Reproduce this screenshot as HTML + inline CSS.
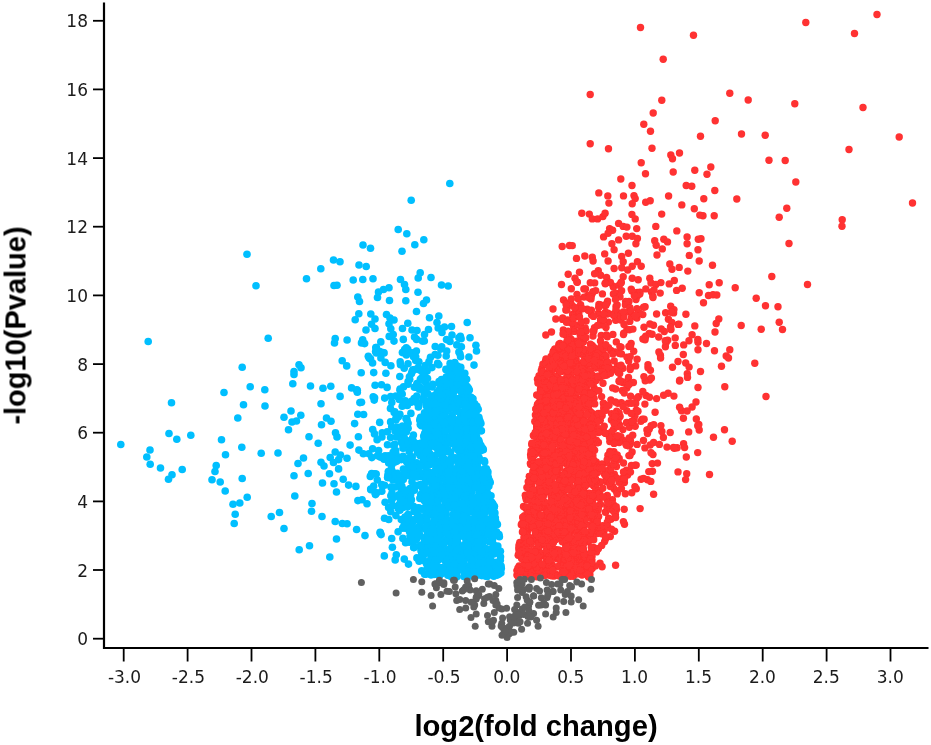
<!DOCTYPE html>
<html><head><meta charset="utf-8"><title>Volcano plot</title>
<style>
html,body{margin:0;padding:0;background:#fff;}
svg{display:block}
text{font-family:"Liberation Sans",sans-serif;}
.tk text{font-family:"DejaVu Sans","Liberation Sans",sans-serif;}
</style></head><body>
<svg width="931" height="745" viewBox="0 0 931 745">
<defs><filter id="soft" x="0" y="0" width="931" height="745" filterUnits="userSpaceOnUse"><feGaussianBlur stdDeviation="0.5"/></filter></defs>
<rect width="931" height="745" fill="#fff"/>
<g filter="url(#soft)">
<g fill="#00BFFF"><circle cx="247.0" cy="254.2" r="3.8"/><circle cx="256.0" cy="285.8" r="3.8"/><circle cx="306.5" cy="278.8" r="3.8"/><circle cx="320.8" cy="268.8" r="3.8"/><circle cx="333.5" cy="260.0" r="3.8"/><circle cx="334.0" cy="285.5" r="3.8"/><circle cx="148.2" cy="341.5" r="3.8"/><circle cx="268.2" cy="338.2" r="3.8"/><circle cx="335.2" cy="338.5" r="3.8"/><circle cx="334.5" cy="343.0" r="3.8"/><circle cx="242.2" cy="367.2" r="3.8"/><circle cx="299.0" cy="364.8" r="3.8"/><circle cx="301.0" cy="367.8" r="3.8"/><circle cx="294.0" cy="371.5" r="3.8"/><circle cx="294.0" cy="374.5" r="3.8"/><circle cx="292.8" cy="383.8" r="3.8"/><circle cx="310.5" cy="386.0" r="3.8"/><circle cx="323.0" cy="388.2" r="3.8"/><circle cx="330.8" cy="386.2" r="3.8"/><circle cx="250.2" cy="386.8" r="3.8"/><circle cx="264.8" cy="389.8" r="3.8"/><circle cx="224.0" cy="392.5" r="3.8"/><circle cx="171.5" cy="402.8" r="3.8"/><circle cx="243.5" cy="404.8" r="3.8"/><circle cx="265.0" cy="406.0" r="3.8"/><circle cx="321.0" cy="403.8" r="3.8"/><circle cx="291.0" cy="411.0" r="3.8"/><circle cx="284.0" cy="417.2" r="3.8"/><circle cx="300.8" cy="415.2" r="3.8"/><circle cx="296.5" cy="421.0" r="3.8"/><circle cx="292.0" cy="422.0" r="3.8"/><circle cx="237.8" cy="418.0" r="3.8"/><circle cx="288.5" cy="429.8" r="3.8"/><circle cx="326.5" cy="418.0" r="3.8"/><circle cx="331.0" cy="421.2" r="3.8"/><circle cx="321.5" cy="424.8" r="3.8"/><circle cx="335.5" cy="432.8" r="3.8"/><circle cx="309.0" cy="436.8" r="3.8"/><circle cx="318.2" cy="443.2" r="3.8"/><circle cx="169.0" cy="433.5" r="3.8"/><circle cx="176.8" cy="439.2" r="3.8"/><circle cx="190.8" cy="435.2" r="3.8"/><circle cx="221.5" cy="439.8" r="3.8"/><circle cx="241.8" cy="447.2" r="3.8"/><circle cx="225.5" cy="454.8" r="3.8"/><circle cx="261.2" cy="453.2" r="3.8"/><circle cx="278.0" cy="453.0" r="3.8"/><circle cx="120.8" cy="444.5" r="3.8"/><circle cx="150.0" cy="450.0" r="3.8"/><circle cx="146.8" cy="457.0" r="3.8"/><circle cx="150.2" cy="464.2" r="3.8"/><circle cx="160.5" cy="468.0" r="3.8"/><circle cx="182.2" cy="469.5" r="3.8"/><circle cx="172.0" cy="474.8" r="3.8"/><circle cx="168.5" cy="479.2" r="3.8"/><circle cx="216.2" cy="465.5" r="3.8"/><circle cx="215.0" cy="471.5" r="3.8"/><circle cx="212.0" cy="479.8" r="3.8"/><circle cx="220.2" cy="482.0" r="3.8"/><circle cx="225.2" cy="491.0" r="3.8"/><circle cx="242.2" cy="478.5" r="3.8"/><circle cx="303.5" cy="458.0" r="3.8"/><circle cx="298.0" cy="463.5" r="3.8"/><circle cx="321.0" cy="462.2" r="3.8"/><circle cx="324.0" cy="466.0" r="3.8"/><circle cx="330.2" cy="457.5" r="3.8"/><circle cx="335.2" cy="452.0" r="3.8"/><circle cx="333.5" cy="462.5" r="3.8"/><circle cx="329.5" cy="473.8" r="3.8"/><circle cx="308.2" cy="473.5" r="3.8"/><circle cx="294.0" cy="475.8" r="3.8"/><circle cx="322.5" cy="483.0" r="3.8"/><circle cx="334.0" cy="483.8" r="3.8"/><circle cx="247.2" cy="497.2" r="3.8"/><circle cx="239.8" cy="503.0" r="3.8"/><circle cx="233.0" cy="504.2" r="3.8"/><circle cx="235.2" cy="514.2" r="3.8"/><circle cx="234.2" cy="523.5" r="3.8"/><circle cx="294.8" cy="496.0" r="3.8"/><circle cx="312.0" cy="503.5" r="3.8"/><circle cx="311.5" cy="511.2" r="3.8"/><circle cx="322.0" cy="516.5" r="3.8"/><circle cx="335.2" cy="521.5" r="3.8"/><circle cx="279.5" cy="512.5" r="3.8"/><circle cx="271.2" cy="516.5" r="3.8"/><circle cx="284.0" cy="528.5" r="3.8"/><circle cx="309.5" cy="545.8" r="3.8"/><circle cx="299.2" cy="549.8" r="3.8"/><circle cx="329.8" cy="557.0" r="3.8"/><circle cx="336.5" cy="539.0" r="3.8"/><circle cx="336.5" cy="492.0" r="3.8"/><circle cx="449.8" cy="183.5" r="3.8"/><circle cx="411.2" cy="200.2" r="3.8"/><circle cx="398.2" cy="229.5" r="3.8"/><circle cx="406.8" cy="233.8" r="3.8"/><circle cx="423.8" cy="239.8" r="3.8"/><circle cx="414.8" cy="244.8" r="3.8"/><circle cx="402.0" cy="251.2" r="3.8"/><circle cx="363.0" cy="245.0" r="3.8"/><circle cx="370.5" cy="248.2" r="3.8"/><circle cx="340.0" cy="261.8" r="3.8"/><circle cx="359.0" cy="265.0" r="3.8"/><circle cx="366.2" cy="266.5" r="3.8"/><circle cx="353.2" cy="280.0" r="3.8"/><circle cx="362.8" cy="279.5" r="3.8"/><circle cx="373.0" cy="278.8" r="3.8"/><circle cx="337.0" cy="285.2" r="3.8"/><circle cx="420.2" cy="272.8" r="3.8"/><circle cx="418.2" cy="278.0" r="3.8"/><circle cx="431.0" cy="277.5" r="3.8"/><circle cx="400.5" cy="279.5" r="3.8"/><circle cx="404.5" cy="284.5" r="3.8"/><circle cx="405.8" cy="289.5" r="3.8"/><circle cx="441.5" cy="285.0" r="3.8"/><circle cx="448.2" cy="286.0" r="3.8"/><circle cx="389.0" cy="287.8" r="3.8"/><circle cx="383.5" cy="289.5" r="3.8"/><circle cx="378.5" cy="292.0" r="3.8"/><circle cx="377.5" cy="297.5" r="3.8"/><circle cx="418.0" cy="292.2" r="3.8"/><circle cx="357.8" cy="297.0" r="3.8"/><circle cx="359.5" cy="301.5" r="3.8"/><circle cx="389.5" cy="300.5" r="3.8"/><circle cx="405.8" cy="300.8" r="3.8"/><circle cx="426.5" cy="300.0" r="3.8"/><circle cx="423.5" cy="303.5" r="3.8"/><circle cx="416.5" cy="311.5" r="3.8"/><circle cx="358.8" cy="313.8" r="3.8"/><circle cx="355.2" cy="319.8" r="3.8"/><circle cx="370.8" cy="314.0" r="3.8"/><circle cx="375.0" cy="319.0" r="3.8"/><circle cx="371.5" cy="324.2" r="3.8"/><circle cx="375.0" cy="328.5" r="3.8"/><circle cx="366.0" cy="330.0" r="3.8"/><circle cx="386.5" cy="314.5" r="3.8"/><circle cx="390.0" cy="318.0" r="3.8"/><circle cx="394.0" cy="320.0" r="3.8"/><circle cx="389.0" cy="323.8" r="3.8"/><circle cx="390.8" cy="328.8" r="3.8"/><circle cx="429.5" cy="317.8" r="3.8"/><circle cx="438.8" cy="316.0" r="3.8"/><circle cx="437.0" cy="322.5" r="3.8"/><circle cx="438.2" cy="328.0" r="3.8"/><circle cx="444.5" cy="327.0" r="3.8"/><circle cx="451.5" cy="326.5" r="3.8"/><circle cx="467.2" cy="322.5" r="3.8"/><circle cx="407.8" cy="323.2" r="3.8"/><circle cx="402.5" cy="328.5" r="3.8"/><circle cx="412.0" cy="330.0" r="3.8"/><circle cx="417.0" cy="330.5" r="3.8"/><circle cx="428.5" cy="329.5" r="3.8"/><circle cx="393.2" cy="334.5" r="3.8"/><circle cx="424.5" cy="334.5" r="3.8"/><circle cx="442.0" cy="332.5" r="3.8"/><circle cx="452.0" cy="335.0" r="3.8"/><circle cx="347.0" cy="458.3" r="3.8"/><circle cx="412.0" cy="352.8" r="3.8"/><circle cx="410.4" cy="535.3" r="3.8"/><circle cx="436.8" cy="431.6" r="3.8"/><circle cx="447.5" cy="425.7" r="3.8"/><circle cx="454.7" cy="439.0" r="3.8"/><circle cx="438.3" cy="445.2" r="3.8"/><circle cx="474.4" cy="504.5" r="3.8"/><circle cx="436.4" cy="462.6" r="3.8"/><circle cx="463.2" cy="405.4" r="3.8"/><circle cx="363.3" cy="453.8" r="3.8"/><circle cx="452.6" cy="520.3" r="3.8"/><circle cx="439.8" cy="475.8" r="3.8"/><circle cx="482.3" cy="563.7" r="3.8"/><circle cx="449.0" cy="575.3" r="3.8"/><circle cx="432.1" cy="548.9" r="3.8"/><circle cx="456.5" cy="460.2" r="3.8"/><circle cx="471.9" cy="546.8" r="3.8"/><circle cx="404.9" cy="432.2" r="3.8"/><circle cx="446.7" cy="351.0" r="3.8"/><circle cx="354.6" cy="423.6" r="3.8"/><circle cx="488.3" cy="484.0" r="3.8"/><circle cx="417.6" cy="452.6" r="3.8"/><circle cx="470.5" cy="464.4" r="3.8"/><circle cx="478.6" cy="514.3" r="3.8"/><circle cx="426.6" cy="421.7" r="3.8"/><circle cx="456.8" cy="566.5" r="3.8"/><circle cx="499.1" cy="574.1" r="3.8"/><circle cx="400.1" cy="389.1" r="3.8"/><circle cx="492.8" cy="538.5" r="3.8"/><circle cx="450.0" cy="528.7" r="3.8"/><circle cx="451.3" cy="555.3" r="3.8"/><circle cx="466.8" cy="451.2" r="3.8"/><circle cx="473.5" cy="416.1" r="3.8"/><circle cx="431.9" cy="367.6" r="3.8"/><circle cx="381.9" cy="437.0" r="3.8"/><circle cx="437.9" cy="553.9" r="3.8"/><circle cx="433.3" cy="414.6" r="3.8"/><circle cx="433.1" cy="525.0" r="3.8"/><circle cx="433.9" cy="395.9" r="3.8"/><circle cx="470.6" cy="458.4" r="3.8"/><circle cx="468.5" cy="555.9" r="3.8"/><circle cx="443.0" cy="457.8" r="3.8"/><circle cx="456.8" cy="445.0" r="3.8"/><circle cx="488.6" cy="563.1" r="3.8"/><circle cx="433.8" cy="563.3" r="3.8"/><circle cx="452.8" cy="524.9" r="3.8"/><circle cx="444.9" cy="459.5" r="3.8"/><circle cx="471.8" cy="401.2" r="3.8"/><circle cx="435.7" cy="504.8" r="3.8"/><circle cx="423.5" cy="378.9" r="3.8"/><circle cx="340.1" cy="396.4" r="3.8"/><circle cx="463.8" cy="468.8" r="3.8"/><circle cx="419.1" cy="561.2" r="3.8"/><circle cx="478.7" cy="440.2" r="3.8"/><circle cx="481.4" cy="430.7" r="3.8"/><circle cx="456.0" cy="572.8" r="3.8"/><circle cx="481.0" cy="506.3" r="3.8"/><circle cx="407.0" cy="419.8" r="3.8"/><circle cx="482.5" cy="545.8" r="3.8"/><circle cx="390.6" cy="421.9" r="3.8"/><circle cx="371.8" cy="457.6" r="3.8"/><circle cx="466.8" cy="494.5" r="3.8"/><circle cx="480.0" cy="476.8" r="3.8"/><circle cx="455.1" cy="503.1" r="3.8"/><circle cx="445.6" cy="486.9" r="3.8"/><circle cx="466.4" cy="457.2" r="3.8"/><circle cx="463.2" cy="385.5" r="3.8"/><circle cx="443.7" cy="490.9" r="3.8"/><circle cx="389.7" cy="472.8" r="3.8"/><circle cx="456.7" cy="498.8" r="3.8"/><circle cx="426.4" cy="448.0" r="3.8"/><circle cx="414.8" cy="400.7" r="3.8"/><circle cx="490.4" cy="505.5" r="3.8"/><circle cx="391.7" cy="538.5" r="3.8"/><circle cx="466.9" cy="538.2" r="3.8"/><circle cx="411.1" cy="402.3" r="3.8"/><circle cx="425.4" cy="381.8" r="3.8"/><circle cx="446.1" cy="556.1" r="3.8"/><circle cx="432.0" cy="509.4" r="3.8"/><circle cx="463.7" cy="444.7" r="3.8"/><circle cx="448.5" cy="405.0" r="3.8"/><circle cx="493.8" cy="576.2" r="3.8"/><circle cx="466.7" cy="435.5" r="3.8"/><circle cx="427.7" cy="426.8" r="3.8"/><circle cx="479.8" cy="542.2" r="3.8"/><circle cx="427.4" cy="500.4" r="3.8"/><circle cx="461.9" cy="492.0" r="3.8"/><circle cx="416.1" cy="468.9" r="3.8"/><circle cx="448.7" cy="409.2" r="3.8"/><circle cx="437.8" cy="429.5" r="3.8"/><circle cx="453.7" cy="437.2" r="3.8"/><circle cx="452.5" cy="559.0" r="3.8"/><circle cx="455.1" cy="383.7" r="3.8"/><circle cx="464.9" cy="457.7" r="3.8"/><circle cx="452.1" cy="564.7" r="3.8"/><circle cx="463.8" cy="576.4" r="3.8"/><circle cx="402.5" cy="426.1" r="3.8"/><circle cx="479.1" cy="534.1" r="3.8"/><circle cx="477.4" cy="520.8" r="3.8"/><circle cx="443.7" cy="399.2" r="3.8"/><circle cx="391.8" cy="402.4" r="3.8"/><circle cx="467.7" cy="556.9" r="3.8"/><circle cx="422.4" cy="559.7" r="3.8"/><circle cx="475.8" cy="514.0" r="3.8"/><circle cx="470.7" cy="482.3" r="3.8"/><circle cx="379.8" cy="351.6" r="3.8"/><circle cx="432.6" cy="414.5" r="3.8"/><circle cx="489.8" cy="574.1" r="3.8"/><circle cx="459.8" cy="443.7" r="3.8"/><circle cx="466.4" cy="540.1" r="3.8"/><circle cx="435.1" cy="425.9" r="3.8"/><circle cx="450.0" cy="574.8" r="3.8"/><circle cx="437.9" cy="560.2" r="3.8"/><circle cx="471.6" cy="563.9" r="3.8"/><circle cx="440.1" cy="485.4" r="3.8"/><circle cx="454.3" cy="380.6" r="3.8"/><circle cx="432.2" cy="490.0" r="3.8"/><circle cx="391.0" cy="472.5" r="3.8"/><circle cx="401.2" cy="457.6" r="3.8"/><circle cx="500.2" cy="571.1" r="3.8"/><circle cx="426.6" cy="428.4" r="3.8"/><circle cx="440.7" cy="468.6" r="3.8"/><circle cx="410.7" cy="494.8" r="3.8"/><circle cx="471.9" cy="446.4" r="3.8"/><circle cx="418.9" cy="361.8" r="3.8"/><circle cx="485.3" cy="576.1" r="3.8"/><circle cx="424.5" cy="412.9" r="3.8"/><circle cx="454.6" cy="551.8" r="3.8"/><circle cx="447.1" cy="422.7" r="3.8"/><circle cx="433.0" cy="475.8" r="3.8"/><circle cx="405.2" cy="528.2" r="3.8"/><circle cx="469.3" cy="442.6" r="3.8"/><circle cx="438.4" cy="496.0" r="3.8"/><circle cx="443.6" cy="440.2" r="3.8"/><circle cx="450.0" cy="341.4" r="3.8"/><circle cx="487.7" cy="524.5" r="3.8"/><circle cx="434.3" cy="420.4" r="3.8"/><circle cx="429.0" cy="433.8" r="3.8"/><circle cx="347.1" cy="523.7" r="3.8"/><circle cx="432.3" cy="562.8" r="3.8"/><circle cx="448.0" cy="532.0" r="3.8"/><circle cx="390.5" cy="408.4" r="3.8"/><circle cx="490.9" cy="524.7" r="3.8"/><circle cx="417.5" cy="514.8" r="3.8"/><circle cx="457.3" cy="539.7" r="3.8"/><circle cx="473.4" cy="462.1" r="3.8"/><circle cx="448.1" cy="568.6" r="3.8"/><circle cx="466.1" cy="414.8" r="3.8"/><circle cx="446.1" cy="503.0" r="3.8"/><circle cx="457.7" cy="542.7" r="3.8"/><circle cx="462.4" cy="473.5" r="3.8"/><circle cx="373.7" cy="486.1" r="3.8"/><circle cx="361.5" cy="342.9" r="3.8"/><circle cx="456.8" cy="488.8" r="3.8"/><circle cx="495.2" cy="563.6" r="3.8"/><circle cx="372.6" cy="363.0" r="3.8"/><circle cx="483.7" cy="531.7" r="3.8"/><circle cx="479.7" cy="488.2" r="3.8"/><circle cx="460.8" cy="424.7" r="3.8"/><circle cx="412.5" cy="522.3" r="3.8"/><circle cx="458.9" cy="465.6" r="3.8"/><circle cx="468.9" cy="571.7" r="3.8"/><circle cx="473.1" cy="487.3" r="3.8"/><circle cx="467.5" cy="517.5" r="3.8"/><circle cx="397.3" cy="414.7" r="3.8"/><circle cx="482.9" cy="495.6" r="3.8"/><circle cx="393.5" cy="461.8" r="3.8"/><circle cx="474.5" cy="512.7" r="3.8"/><circle cx="370.9" cy="489.8" r="3.8"/><circle cx="372.7" cy="429.6" r="3.8"/><circle cx="423.6" cy="488.4" r="3.8"/><circle cx="465.2" cy="554.8" r="3.8"/><circle cx="436.3" cy="516.5" r="3.8"/><circle cx="470.9" cy="504.7" r="3.8"/><circle cx="454.6" cy="490.6" r="3.8"/><circle cx="391.2" cy="487.4" r="3.8"/><circle cx="445.9" cy="396.3" r="3.8"/><circle cx="415.7" cy="485.8" r="3.8"/><circle cx="453.8" cy="560.2" r="3.8"/><circle cx="450.2" cy="523.5" r="3.8"/><circle cx="421.7" cy="570.9" r="3.8"/><circle cx="436.4" cy="466.4" r="3.8"/><circle cx="425.6" cy="490.1" r="3.8"/><circle cx="427.3" cy="434.9" r="3.8"/><circle cx="409.8" cy="504.3" r="3.8"/><circle cx="475.7" cy="430.5" r="3.8"/><circle cx="446.7" cy="449.1" r="3.8"/><circle cx="447.5" cy="533.3" r="3.8"/><circle cx="446.5" cy="339.6" r="3.8"/><circle cx="471.3" cy="419.5" r="3.8"/><circle cx="493.4" cy="526.8" r="3.8"/><circle cx="452.6" cy="551.4" r="3.8"/><circle cx="428.8" cy="514.8" r="3.8"/><circle cx="455.1" cy="560.5" r="3.8"/><circle cx="445.2" cy="417.6" r="3.8"/><circle cx="394.2" cy="412.4" r="3.8"/><circle cx="438.5" cy="489.0" r="3.8"/><circle cx="442.3" cy="494.6" r="3.8"/><circle cx="445.4" cy="503.8" r="3.8"/><circle cx="454.8" cy="387.2" r="3.8"/><circle cx="416.2" cy="519.8" r="3.8"/><circle cx="479.3" cy="525.6" r="3.8"/><circle cx="436.5" cy="557.4" r="3.8"/><circle cx="499.2" cy="572.4" r="3.8"/><circle cx="373.7" cy="372.6" r="3.8"/><circle cx="485.0" cy="511.9" r="3.8"/><circle cx="445.8" cy="506.9" r="3.8"/><circle cx="461.1" cy="338.7" r="3.8"/><circle cx="449.6" cy="533.0" r="3.8"/><circle cx="390.8" cy="511.8" r="3.8"/><circle cx="454.1" cy="370.9" r="3.8"/><circle cx="458.7" cy="535.4" r="3.8"/><circle cx="441.8" cy="571.6" r="3.8"/><circle cx="441.0" cy="410.4" r="3.8"/><circle cx="441.1" cy="552.0" r="3.8"/><circle cx="477.4" cy="545.0" r="3.8"/><circle cx="455.4" cy="556.2" r="3.8"/><circle cx="417.5" cy="385.8" r="3.8"/><circle cx="466.9" cy="526.8" r="3.8"/><circle cx="439.0" cy="381.6" r="3.8"/><circle cx="434.6" cy="433.0" r="3.8"/><circle cx="396.7" cy="461.2" r="3.8"/><circle cx="421.1" cy="472.7" r="3.8"/><circle cx="471.8" cy="438.7" r="3.8"/><circle cx="469.7" cy="533.3" r="3.8"/><circle cx="368.3" cy="356.2" r="3.8"/><circle cx="433.4" cy="545.8" r="3.8"/><circle cx="440.5" cy="431.8" r="3.8"/><circle cx="447.8" cy="566.5" r="3.8"/><circle cx="405.0" cy="444.1" r="3.8"/><circle cx="493.2" cy="554.0" r="3.8"/><circle cx="448.9" cy="573.5" r="3.8"/><circle cx="454.1" cy="408.0" r="3.8"/><circle cx="445.7" cy="445.0" r="3.8"/><circle cx="479.4" cy="451.1" r="3.8"/><circle cx="460.5" cy="469.4" r="3.8"/><circle cx="452.6" cy="386.9" r="3.8"/><circle cx="476.6" cy="418.2" r="3.8"/><circle cx="374.8" cy="473.7" r="3.8"/><circle cx="442.3" cy="455.4" r="3.8"/><circle cx="477.4" cy="476.5" r="3.8"/><circle cx="419.5" cy="546.2" r="3.8"/><circle cx="478.3" cy="544.6" r="3.8"/><circle cx="460.0" cy="427.9" r="3.8"/><circle cx="380.3" cy="532.9" r="3.8"/><circle cx="427.5" cy="505.3" r="3.8"/><circle cx="487.4" cy="508.8" r="3.8"/><circle cx="427.9" cy="431.3" r="3.8"/><circle cx="471.4" cy="417.6" r="3.8"/><circle cx="476.2" cy="556.0" r="3.8"/><circle cx="410.0" cy="488.5" r="3.8"/><circle cx="424.3" cy="341.0" r="3.8"/><circle cx="446.5" cy="531.0" r="3.8"/><circle cx="430.8" cy="558.8" r="3.8"/><circle cx="417.7" cy="464.7" r="3.8"/><circle cx="407.3" cy="405.5" r="3.8"/><circle cx="442.5" cy="473.4" r="3.8"/><circle cx="431.8" cy="483.7" r="3.8"/><circle cx="425.7" cy="428.3" r="3.8"/><circle cx="464.8" cy="373.2" r="3.8"/><circle cx="484.0" cy="533.9" r="3.8"/><circle cx="464.8" cy="515.1" r="3.8"/><circle cx="442.1" cy="427.5" r="3.8"/><circle cx="416.2" cy="510.3" r="3.8"/><circle cx="404.6" cy="469.8" r="3.8"/><circle cx="423.4" cy="443.0" r="3.8"/><circle cx="434.7" cy="455.9" r="3.8"/><circle cx="470.8" cy="465.8" r="3.8"/><circle cx="426.5" cy="460.7" r="3.8"/><circle cx="489.2" cy="568.4" r="3.8"/><circle cx="479.9" cy="459.5" r="3.8"/><circle cx="491.8" cy="502.3" r="3.8"/><circle cx="424.3" cy="381.3" r="3.8"/><circle cx="446.0" cy="481.4" r="3.8"/><circle cx="408.2" cy="525.8" r="3.8"/><circle cx="482.7" cy="477.3" r="3.8"/><circle cx="427.4" cy="534.4" r="3.8"/><circle cx="476.5" cy="351.0" r="3.8"/><circle cx="470.3" cy="413.8" r="3.8"/><circle cx="478.2" cy="409.2" r="3.8"/><circle cx="420.8" cy="527.1" r="3.8"/><circle cx="406.8" cy="351.8" r="3.8"/><circle cx="479.9" cy="420.7" r="3.8"/><circle cx="425.8" cy="466.8" r="3.8"/><circle cx="470.5" cy="428.7" r="3.8"/><circle cx="435.2" cy="410.9" r="3.8"/><circle cx="392.5" cy="495.7" r="3.8"/><circle cx="434.2" cy="423.1" r="3.8"/><circle cx="471.1" cy="548.7" r="3.8"/><circle cx="359.9" cy="402.6" r="3.8"/><circle cx="454.6" cy="495.9" r="3.8"/><circle cx="445.8" cy="379.8" r="3.8"/><circle cx="494.9" cy="512.9" r="3.8"/><circle cx="461.0" cy="397.4" r="3.8"/><circle cx="455.4" cy="420.1" r="3.8"/><circle cx="481.3" cy="523.1" r="3.8"/><circle cx="464.8" cy="536.0" r="3.8"/><circle cx="458.6" cy="530.2" r="3.8"/><circle cx="431.5" cy="569.6" r="3.8"/><circle cx="431.1" cy="396.2" r="3.8"/><circle cx="398.9" cy="435.2" r="3.8"/><circle cx="453.0" cy="393.3" r="3.8"/><circle cx="426.2" cy="443.3" r="3.8"/><circle cx="478.1" cy="468.1" r="3.8"/><circle cx="399.8" cy="376.5" r="3.8"/><circle cx="445.6" cy="561.4" r="3.8"/><circle cx="483.3" cy="559.3" r="3.8"/><circle cx="472.7" cy="536.1" r="3.8"/><circle cx="478.8" cy="506.0" r="3.8"/><circle cx="485.0" cy="525.6" r="3.8"/><circle cx="452.2" cy="535.1" r="3.8"/><circle cx="434.5" cy="419.9" r="3.8"/><circle cx="442.4" cy="407.6" r="3.8"/><circle cx="428.7" cy="472.1" r="3.8"/><circle cx="376.2" cy="474.0" r="3.8"/><circle cx="425.8" cy="477.8" r="3.8"/><circle cx="486.4" cy="468.7" r="3.8"/><circle cx="434.4" cy="522.8" r="3.8"/><circle cx="487.9" cy="471.7" r="3.8"/><circle cx="464.5" cy="564.5" r="3.8"/><circle cx="431.9" cy="529.5" r="3.8"/><circle cx="437.6" cy="363.4" r="3.8"/><circle cx="432.9" cy="405.9" r="3.8"/><circle cx="430.1" cy="502.2" r="3.8"/><circle cx="478.6" cy="499.8" r="3.8"/><circle cx="436.8" cy="429.5" r="3.8"/><circle cx="434.0" cy="521.8" r="3.8"/><circle cx="471.0" cy="488.6" r="3.8"/><circle cx="488.0" cy="562.2" r="3.8"/><circle cx="425.0" cy="489.1" r="3.8"/><circle cx="432.3" cy="433.8" r="3.8"/><circle cx="420.3" cy="424.5" r="3.8"/><circle cx="414.1" cy="473.1" r="3.8"/><circle cx="437.9" cy="355.3" r="3.8"/><circle cx="437.4" cy="574.0" r="3.8"/><circle cx="471.0" cy="439.2" r="3.8"/><circle cx="384.7" cy="398.1" r="3.8"/><circle cx="441.3" cy="544.2" r="3.8"/><circle cx="447.7" cy="558.4" r="3.8"/><circle cx="407.1" cy="499.6" r="3.8"/><circle cx="445.4" cy="416.6" r="3.8"/><circle cx="440.4" cy="397.9" r="3.8"/><circle cx="462.3" cy="415.3" r="3.8"/><circle cx="430.2" cy="477.8" r="3.8"/><circle cx="450.7" cy="481.0" r="3.8"/><circle cx="465.2" cy="398.1" r="3.8"/><circle cx="469.1" cy="523.0" r="3.8"/><circle cx="470.7" cy="571.5" r="3.8"/><circle cx="450.4" cy="522.6" r="3.8"/><circle cx="423.3" cy="489.3" r="3.8"/><circle cx="475.5" cy="446.9" r="3.8"/><circle cx="445.5" cy="390.0" r="3.8"/><circle cx="421.0" cy="550.7" r="3.8"/><circle cx="455.1" cy="480.0" r="3.8"/><circle cx="437.2" cy="548.8" r="3.8"/><circle cx="460.9" cy="548.6" r="3.8"/><circle cx="377.1" cy="439.7" r="3.8"/><circle cx="455.6" cy="371.7" r="3.8"/><circle cx="422.9" cy="557.4" r="3.8"/><circle cx="463.5" cy="401.8" r="3.8"/><circle cx="382.8" cy="352.6" r="3.8"/><circle cx="425.0" cy="434.4" r="3.8"/><circle cx="450.0" cy="467.1" r="3.8"/><circle cx="456.4" cy="572.7" r="3.8"/><circle cx="461.2" cy="432.2" r="3.8"/><circle cx="403.7" cy="434.8" r="3.8"/><circle cx="402.2" cy="394.0" r="3.8"/><circle cx="466.1" cy="541.7" r="3.8"/><circle cx="439.5" cy="575.7" r="3.8"/><circle cx="445.9" cy="515.1" r="3.8"/><circle cx="460.2" cy="430.8" r="3.8"/><circle cx="443.0" cy="499.2" r="3.8"/><circle cx="445.8" cy="466.9" r="3.8"/><circle cx="443.0" cy="399.8" r="3.8"/><circle cx="419.5" cy="389.3" r="3.8"/><circle cx="428.3" cy="532.0" r="3.8"/><circle cx="447.8" cy="535.4" r="3.8"/><circle cx="481.0" cy="533.1" r="3.8"/><circle cx="427.1" cy="393.3" r="3.8"/><circle cx="395.8" cy="427.9" r="3.8"/><circle cx="371.7" cy="473.5" r="3.8"/><circle cx="443.9" cy="425.6" r="3.8"/><circle cx="477.3" cy="420.9" r="3.8"/><circle cx="437.1" cy="558.9" r="3.8"/><circle cx="452.1" cy="415.4" r="3.8"/><circle cx="467.8" cy="427.4" r="3.8"/><circle cx="417.0" cy="538.3" r="3.8"/><circle cx="453.0" cy="514.4" r="3.8"/><circle cx="470.1" cy="521.5" r="3.8"/><circle cx="460.0" cy="452.4" r="3.8"/><circle cx="456.5" cy="436.7" r="3.8"/><circle cx="485.6" cy="469.9" r="3.8"/><circle cx="487.0" cy="529.3" r="3.8"/><circle cx="381.5" cy="384.7" r="3.8"/><circle cx="429.9" cy="426.1" r="3.8"/><circle cx="421.6" cy="476.7" r="3.8"/><circle cx="429.2" cy="434.6" r="3.8"/><circle cx="439.4" cy="445.6" r="3.8"/><circle cx="414.0" cy="547.6" r="3.8"/><circle cx="412.0" cy="490.1" r="3.8"/><circle cx="475.5" cy="456.1" r="3.8"/><circle cx="453.8" cy="407.1" r="3.8"/><circle cx="472.7" cy="565.2" r="3.8"/><circle cx="451.0" cy="398.1" r="3.8"/><circle cx="455.7" cy="373.3" r="3.8"/><circle cx="392.1" cy="471.1" r="3.8"/><circle cx="447.9" cy="389.8" r="3.8"/><circle cx="411.4" cy="499.6" r="3.8"/><circle cx="422.9" cy="560.1" r="3.8"/><circle cx="430.5" cy="357.3" r="3.8"/><circle cx="440.6" cy="569.1" r="3.8"/><circle cx="394.6" cy="444.4" r="3.8"/><circle cx="465.4" cy="379.1" r="3.8"/><circle cx="440.0" cy="447.2" r="3.8"/><circle cx="401.8" cy="495.8" r="3.8"/><circle cx="482.7" cy="546.5" r="3.8"/><circle cx="429.6" cy="458.1" r="3.8"/><circle cx="423.8" cy="550.6" r="3.8"/><circle cx="435.7" cy="502.0" r="3.8"/><circle cx="437.1" cy="392.4" r="3.8"/><circle cx="472.6" cy="507.3" r="3.8"/><circle cx="477.9" cy="418.4" r="3.8"/><circle cx="416.9" cy="557.9" r="3.8"/><circle cx="454.4" cy="372.4" r="3.8"/><circle cx="473.9" cy="451.6" r="3.8"/><circle cx="471.8" cy="554.9" r="3.8"/><circle cx="447.1" cy="384.0" r="3.8"/><circle cx="483.3" cy="525.6" r="3.8"/><circle cx="461.1" cy="420.2" r="3.8"/><circle cx="493.5" cy="515.5" r="3.8"/><circle cx="475.8" cy="478.3" r="3.8"/><circle cx="479.8" cy="525.0" r="3.8"/><circle cx="455.6" cy="507.2" r="3.8"/><circle cx="472.6" cy="527.3" r="3.8"/><circle cx="483.1" cy="485.2" r="3.8"/><circle cx="357.9" cy="500.6" r="3.8"/><circle cx="424.7" cy="574.2" r="3.8"/><circle cx="415.6" cy="531.1" r="3.8"/><circle cx="497.6" cy="551.4" r="3.8"/><circle cx="446.3" cy="426.6" r="3.8"/><circle cx="454.0" cy="554.6" r="3.8"/><circle cx="481.4" cy="500.7" r="3.8"/><circle cx="463.1" cy="516.7" r="3.8"/><circle cx="466.3" cy="490.6" r="3.8"/><circle cx="468.9" cy="406.2" r="3.8"/><circle cx="476.2" cy="499.0" r="3.8"/><circle cx="479.9" cy="527.3" r="3.8"/><circle cx="481.8" cy="489.5" r="3.8"/><circle cx="467.2" cy="402.4" r="3.8"/><circle cx="446.0" cy="398.6" r="3.8"/><circle cx="467.4" cy="499.4" r="3.8"/><circle cx="448.5" cy="569.1" r="3.8"/><circle cx="456.7" cy="522.7" r="3.8"/><circle cx="427.2" cy="497.3" r="3.8"/><circle cx="452.5" cy="475.3" r="3.8"/><circle cx="436.3" cy="402.0" r="3.8"/><circle cx="473.4" cy="538.1" r="3.8"/><circle cx="453.2" cy="517.7" r="3.8"/><circle cx="492.4" cy="552.6" r="3.8"/><circle cx="479.0" cy="492.4" r="3.8"/><circle cx="442.9" cy="402.3" r="3.8"/><circle cx="441.4" cy="534.6" r="3.8"/><circle cx="453.9" cy="570.9" r="3.8"/><circle cx="399.2" cy="504.6" r="3.8"/><circle cx="445.9" cy="369.4" r="3.8"/><circle cx="482.2" cy="530.9" r="3.8"/><circle cx="342.3" cy="523.5" r="3.8"/><circle cx="424.3" cy="438.2" r="3.8"/><circle cx="446.0" cy="510.6" r="3.8"/><circle cx="476.1" cy="567.7" r="3.8"/><circle cx="459.6" cy="445.6" r="3.8"/><circle cx="458.3" cy="570.5" r="3.8"/><circle cx="446.0" cy="399.6" r="3.8"/><circle cx="415.7" cy="360.6" r="3.8"/><circle cx="419.4" cy="534.1" r="3.8"/><circle cx="373.2" cy="396.7" r="3.8"/><circle cx="494.2" cy="507.2" r="3.8"/><circle cx="438.3" cy="427.3" r="3.8"/><circle cx="480.6" cy="525.4" r="3.8"/><circle cx="438.3" cy="489.4" r="3.8"/><circle cx="453.4" cy="508.0" r="3.8"/><circle cx="449.4" cy="502.8" r="3.8"/><circle cx="479.5" cy="488.8" r="3.8"/><circle cx="475.9" cy="345.2" r="3.8"/><circle cx="453.2" cy="560.2" r="3.8"/><circle cx="433.2" cy="533.9" r="3.8"/><circle cx="444.2" cy="479.3" r="3.8"/><circle cx="387.3" cy="431.7" r="3.8"/><circle cx="477.4" cy="446.4" r="3.8"/><circle cx="449.5" cy="385.9" r="3.8"/><circle cx="484.0" cy="540.4" r="3.8"/><circle cx="470.0" cy="337.7" r="3.8"/><circle cx="427.0" cy="445.8" r="3.8"/><circle cx="442.7" cy="492.3" r="3.8"/><circle cx="463.8" cy="528.0" r="3.8"/><circle cx="481.8" cy="508.7" r="3.8"/><circle cx="454.8" cy="540.8" r="3.8"/><circle cx="413.4" cy="506.3" r="3.8"/><circle cx="450.1" cy="560.7" r="3.8"/><circle cx="481.8" cy="575.6" r="3.8"/><circle cx="471.1" cy="550.4" r="3.8"/><circle cx="391.3" cy="487.1" r="3.8"/><circle cx="429.9" cy="568.7" r="3.8"/><circle cx="428.8" cy="492.6" r="3.8"/><circle cx="456.3" cy="569.2" r="3.8"/><circle cx="455.8" cy="502.4" r="3.8"/><circle cx="467.3" cy="395.9" r="3.8"/><circle cx="439.3" cy="494.1" r="3.8"/><circle cx="457.2" cy="409.2" r="3.8"/><circle cx="414.0" cy="511.5" r="3.8"/><circle cx="484.9" cy="529.5" r="3.8"/><circle cx="438.5" cy="495.4" r="3.8"/><circle cx="375.6" cy="351.6" r="3.8"/><circle cx="399.9" cy="510.2" r="3.8"/><circle cx="474.7" cy="404.8" r="3.8"/><circle cx="469.3" cy="390.0" r="3.8"/><circle cx="448.0" cy="449.7" r="3.8"/><circle cx="434.4" cy="545.7" r="3.8"/><circle cx="427.8" cy="393.8" r="3.8"/><circle cx="420.3" cy="379.4" r="3.8"/><circle cx="450.0" cy="460.0" r="3.8"/><circle cx="412.9" cy="369.9" r="3.8"/><circle cx="466.6" cy="476.6" r="3.8"/><circle cx="406.5" cy="499.7" r="3.8"/><circle cx="365.0" cy="535.6" r="3.8"/><circle cx="442.1" cy="398.1" r="3.8"/><circle cx="434.2" cy="507.5" r="3.8"/><circle cx="437.6" cy="549.7" r="3.8"/><circle cx="451.5" cy="543.3" r="3.8"/><circle cx="428.6" cy="540.6" r="3.8"/><circle cx="450.0" cy="459.6" r="3.8"/><circle cx="475.6" cy="552.6" r="3.8"/><circle cx="427.6" cy="499.3" r="3.8"/><circle cx="465.2" cy="486.4" r="3.8"/><circle cx="453.3" cy="528.7" r="3.8"/><circle cx="449.0" cy="379.4" r="3.8"/><circle cx="464.2" cy="422.7" r="3.8"/><circle cx="374.2" cy="400.1" r="3.8"/><circle cx="436.8" cy="421.7" r="3.8"/><circle cx="481.5" cy="490.7" r="3.8"/><circle cx="458.9" cy="568.9" r="3.8"/><circle cx="469.6" cy="408.5" r="3.8"/><circle cx="479.1" cy="480.9" r="3.8"/><circle cx="488.4" cy="477.9" r="3.8"/><circle cx="384.1" cy="352.9" r="3.8"/><circle cx="367.0" cy="503.7" r="3.8"/><circle cx="498.7" cy="569.8" r="3.8"/><circle cx="395.0" cy="461.9" r="3.8"/><circle cx="409.2" cy="451.4" r="3.8"/><circle cx="396.1" cy="454.5" r="3.8"/><circle cx="461.0" cy="391.3" r="3.8"/><circle cx="451.8" cy="472.2" r="3.8"/><circle cx="370.3" cy="476.4" r="3.8"/><circle cx="446.7" cy="394.1" r="3.8"/><circle cx="443.3" cy="553.3" r="3.8"/><circle cx="390.8" cy="495.7" r="3.8"/><circle cx="480.1" cy="508.6" r="3.8"/><circle cx="474.4" cy="410.6" r="3.8"/><circle cx="416.9" cy="383.6" r="3.8"/><circle cx="424.7" cy="461.6" r="3.8"/><circle cx="460.9" cy="463.6" r="3.8"/><circle cx="460.2" cy="521.6" r="3.8"/><circle cx="447.2" cy="403.1" r="3.8"/><circle cx="417.6" cy="485.3" r="3.8"/><circle cx="429.0" cy="536.8" r="3.8"/><circle cx="465.1" cy="550.9" r="3.8"/><circle cx="465.8" cy="418.3" r="3.8"/><circle cx="441.9" cy="552.8" r="3.8"/><circle cx="398.0" cy="427.2" r="3.8"/><circle cx="447.0" cy="549.8" r="3.8"/><circle cx="402.9" cy="538.4" r="3.8"/><circle cx="430.3" cy="417.1" r="3.8"/><circle cx="465.8" cy="499.1" r="3.8"/><circle cx="472.3" cy="545.6" r="3.8"/><circle cx="395.9" cy="396.1" r="3.8"/><circle cx="376.3" cy="353.0" r="3.8"/><circle cx="465.2" cy="383.8" r="3.8"/><circle cx="426.7" cy="452.7" r="3.8"/><circle cx="489.3" cy="496.4" r="3.8"/><circle cx="457.4" cy="366.1" r="3.8"/><circle cx="461.1" cy="439.5" r="3.8"/><circle cx="427.6" cy="533.7" r="3.8"/><circle cx="459.8" cy="560.1" r="3.8"/><circle cx="452.6" cy="370.5" r="3.8"/><circle cx="468.4" cy="545.3" r="3.8"/><circle cx="476.0" cy="438.1" r="3.8"/><circle cx="425.8" cy="448.9" r="3.8"/><circle cx="466.5" cy="393.1" r="3.8"/><circle cx="461.7" cy="516.6" r="3.8"/><circle cx="459.9" cy="401.7" r="3.8"/><circle cx="413.6" cy="356.8" r="3.8"/><circle cx="474.9" cy="499.3" r="3.8"/><circle cx="444.0" cy="409.1" r="3.8"/><circle cx="391.6" cy="457.6" r="3.8"/><circle cx="463.0" cy="421.4" r="3.8"/><circle cx="464.2" cy="564.8" r="3.8"/><circle cx="439.1" cy="499.2" r="3.8"/><circle cx="420.0" cy="455.5" r="3.8"/><circle cx="473.0" cy="398.8" r="3.8"/><circle cx="430.2" cy="402.5" r="3.8"/><circle cx="461.6" cy="555.4" r="3.8"/><circle cx="432.3" cy="558.2" r="3.8"/><circle cx="466.4" cy="542.9" r="3.8"/><circle cx="440.3" cy="571.4" r="3.8"/><circle cx="346.7" cy="365.9" r="3.8"/><circle cx="459.5" cy="487.9" r="3.8"/><circle cx="453.3" cy="569.7" r="3.8"/><circle cx="473.8" cy="474.7" r="3.8"/><circle cx="489.5" cy="480.8" r="3.8"/><circle cx="463.0" cy="434.5" r="3.8"/><circle cx="391.7" cy="426.8" r="3.8"/><circle cx="493.4" cy="526.9" r="3.8"/><circle cx="479.1" cy="574.8" r="3.8"/><circle cx="476.9" cy="518.8" r="3.8"/><circle cx="362.1" cy="499.8" r="3.8"/><circle cx="380.1" cy="532.4" r="3.8"/><circle cx="429.2" cy="542.0" r="3.8"/><circle cx="455.0" cy="515.5" r="3.8"/><circle cx="432.9" cy="433.6" r="3.8"/><circle cx="468.8" cy="478.0" r="3.8"/><circle cx="434.4" cy="564.5" r="3.8"/><circle cx="431.0" cy="543.9" r="3.8"/><circle cx="399.3" cy="481.8" r="3.8"/><circle cx="481.8" cy="497.2" r="3.8"/><circle cx="497.3" cy="575.1" r="3.8"/><circle cx="460.4" cy="336.4" r="3.8"/><circle cx="451.5" cy="565.8" r="3.8"/><circle cx="438.8" cy="529.0" r="3.8"/><circle cx="424.0" cy="474.4" r="3.8"/><circle cx="408.4" cy="467.0" r="3.8"/><circle cx="467.9" cy="394.3" r="3.8"/><circle cx="441.5" cy="379.6" r="3.8"/><circle cx="449.2" cy="438.1" r="3.8"/><circle cx="425.6" cy="561.7" r="3.8"/><circle cx="494.4" cy="506.2" r="3.8"/><circle cx="483.6" cy="492.2" r="3.8"/><circle cx="461.0" cy="459.1" r="3.8"/><circle cx="452.8" cy="440.4" r="3.8"/><circle cx="411.5" cy="373.5" r="3.8"/><circle cx="430.9" cy="574.7" r="3.8"/><circle cx="476.9" cy="406.4" r="3.8"/><circle cx="477.9" cy="450.1" r="3.8"/><circle cx="457.7" cy="475.3" r="3.8"/><circle cx="437.9" cy="510.2" r="3.8"/><circle cx="457.3" cy="424.4" r="3.8"/><circle cx="486.6" cy="489.5" r="3.8"/><circle cx="487.9" cy="508.8" r="3.8"/><circle cx="402.8" cy="497.8" r="3.8"/><circle cx="473.0" cy="544.5" r="3.8"/><circle cx="420.6" cy="417.3" r="3.8"/><circle cx="425.3" cy="477.7" r="3.8"/><circle cx="409.4" cy="496.1" r="3.8"/><circle cx="458.7" cy="524.2" r="3.8"/><circle cx="459.6" cy="533.3" r="3.8"/><circle cx="463.5" cy="387.3" r="3.8"/><circle cx="467.6" cy="512.7" r="3.8"/><circle cx="454.0" cy="489.1" r="3.8"/><circle cx="452.9" cy="568.9" r="3.8"/><circle cx="474.6" cy="513.6" r="3.8"/><circle cx="460.2" cy="551.8" r="3.8"/><circle cx="470.7" cy="426.3" r="3.8"/><circle cx="440.0" cy="397.5" r="3.8"/><circle cx="404.5" cy="427.4" r="3.8"/><circle cx="401.3" cy="519.5" r="3.8"/><circle cx="454.6" cy="486.5" r="3.8"/><circle cx="436.4" cy="413.6" r="3.8"/><circle cx="425.2" cy="365.5" r="3.8"/><circle cx="438.6" cy="426.9" r="3.8"/><circle cx="474.8" cy="531.3" r="3.8"/><circle cx="471.3" cy="451.5" r="3.8"/><circle cx="445.1" cy="523.5" r="3.8"/><circle cx="431.9" cy="429.3" r="3.8"/><circle cx="416.9" cy="387.2" r="3.8"/><circle cx="411.8" cy="458.4" r="3.8"/><circle cx="458.4" cy="460.4" r="3.8"/><circle cx="443.4" cy="471.8" r="3.8"/><circle cx="399.4" cy="432.9" r="3.8"/><circle cx="451.6" cy="496.2" r="3.8"/><circle cx="416.1" cy="536.5" r="3.8"/><circle cx="423.0" cy="449.8" r="3.8"/><circle cx="381.8" cy="491.3" r="3.8"/><circle cx="391.3" cy="468.7" r="3.8"/><circle cx="420.6" cy="484.6" r="3.8"/><circle cx="443.7" cy="524.0" r="3.8"/><circle cx="435.0" cy="517.5" r="3.8"/><circle cx="463.0" cy="400.5" r="3.8"/><circle cx="480.6" cy="501.9" r="3.8"/><circle cx="487.5" cy="574.5" r="3.8"/><circle cx="474.7" cy="403.7" r="3.8"/><circle cx="477.2" cy="512.5" r="3.8"/><circle cx="442.9" cy="543.7" r="3.8"/><circle cx="458.0" cy="447.8" r="3.8"/><circle cx="407.2" cy="462.4" r="3.8"/><circle cx="398.1" cy="531.8" r="3.8"/><circle cx="402.2" cy="475.5" r="3.8"/><circle cx="441.1" cy="486.9" r="3.8"/><circle cx="471.5" cy="406.4" r="3.8"/><circle cx="473.0" cy="499.4" r="3.8"/><circle cx="425.2" cy="371.9" r="3.8"/><circle cx="419.2" cy="465.6" r="3.8"/><circle cx="424.1" cy="537.7" r="3.8"/><circle cx="469.8" cy="473.4" r="3.8"/><circle cx="462.8" cy="391.0" r="3.8"/><circle cx="449.1" cy="425.6" r="3.8"/><circle cx="356.7" cy="389.9" r="3.8"/><circle cx="472.0" cy="576.0" r="3.8"/><circle cx="480.7" cy="450.7" r="3.8"/><circle cx="451.3" cy="470.9" r="3.8"/><circle cx="436.4" cy="395.1" r="3.8"/><circle cx="489.3" cy="571.8" r="3.8"/><circle cx="445.5" cy="488.3" r="3.8"/><circle cx="418.3" cy="367.6" r="3.8"/><circle cx="460.3" cy="511.5" r="3.8"/><circle cx="448.2" cy="494.3" r="3.8"/><circle cx="440.3" cy="417.2" r="3.8"/><circle cx="453.0" cy="405.1" r="3.8"/><circle cx="423.7" cy="436.0" r="3.8"/><circle cx="427.4" cy="408.3" r="3.8"/><circle cx="403.3" cy="440.9" r="3.8"/><circle cx="481.0" cy="430.8" r="3.8"/><circle cx="385.2" cy="362.4" r="3.8"/><circle cx="414.7" cy="546.6" r="3.8"/><circle cx="413.2" cy="519.8" r="3.8"/><circle cx="499.4" cy="552.3" r="3.8"/><circle cx="434.0" cy="436.3" r="3.8"/><circle cx="438.4" cy="507.2" r="3.8"/><circle cx="358.9" cy="450.1" r="3.8"/><circle cx="457.0" cy="477.6" r="3.8"/><circle cx="385.1" cy="455.8" r="3.8"/><circle cx="424.2" cy="509.4" r="3.8"/><circle cx="442.9" cy="385.2" r="3.8"/><circle cx="449.0" cy="531.1" r="3.8"/><circle cx="381.8" cy="484.5" r="3.8"/><circle cx="417.0" cy="508.0" r="3.8"/><circle cx="449.4" cy="501.6" r="3.8"/><circle cx="465.1" cy="492.7" r="3.8"/><circle cx="435.5" cy="460.2" r="3.8"/><circle cx="501.3" cy="568.5" r="3.8"/><circle cx="499.4" cy="536.8" r="3.8"/><circle cx="482.8" cy="539.6" r="3.8"/><circle cx="380.8" cy="341.9" r="3.8"/><circle cx="459.8" cy="476.3" r="3.8"/><circle cx="460.0" cy="531.1" r="3.8"/><circle cx="432.1" cy="531.9" r="3.8"/><circle cx="430.4" cy="400.1" r="3.8"/><circle cx="471.8" cy="487.4" r="3.8"/><circle cx="496.5" cy="531.8" r="3.8"/><circle cx="416.9" cy="519.1" r="3.8"/><circle cx="350.1" cy="445.1" r="3.8"/><circle cx="438.4" cy="393.3" r="3.8"/><circle cx="382.3" cy="485.6" r="3.8"/><circle cx="430.8" cy="426.5" r="3.8"/><circle cx="475.5" cy="480.2" r="3.8"/><circle cx="440.7" cy="545.9" r="3.8"/><circle cx="452.0" cy="402.6" r="3.8"/><circle cx="479.9" cy="551.7" r="3.8"/><circle cx="436.8" cy="427.3" r="3.8"/><circle cx="468.7" cy="484.6" r="3.8"/><circle cx="430.9" cy="559.7" r="3.8"/><circle cx="462.7" cy="569.5" r="3.8"/><circle cx="459.0" cy="564.2" r="3.8"/><circle cx="392.4" cy="547.2" r="3.8"/><circle cx="441.8" cy="414.4" r="3.8"/><circle cx="433.6" cy="522.5" r="3.8"/><circle cx="487.0" cy="535.1" r="3.8"/><circle cx="469.6" cy="522.3" r="3.8"/><circle cx="481.0" cy="573.3" r="3.8"/><circle cx="481.3" cy="558.0" r="3.8"/><circle cx="455.2" cy="500.9" r="3.8"/><circle cx="435.1" cy="402.4" r="3.8"/><circle cx="469.6" cy="409.8" r="3.8"/><circle cx="451.8" cy="546.5" r="3.8"/><circle cx="472.7" cy="464.1" r="3.8"/><circle cx="447.5" cy="451.8" r="3.8"/><circle cx="496.4" cy="562.4" r="3.8"/><circle cx="435.1" cy="543.9" r="3.8"/><circle cx="482.2" cy="551.0" r="3.8"/><circle cx="426.1" cy="405.4" r="3.8"/><circle cx="467.2" cy="448.9" r="3.8"/><circle cx="491.0" cy="563.8" r="3.8"/><circle cx="400.2" cy="361.9" r="3.8"/><circle cx="426.8" cy="476.6" r="3.8"/><circle cx="439.2" cy="466.8" r="3.8"/><circle cx="430.0" cy="464.4" r="3.8"/><circle cx="450.2" cy="390.1" r="3.8"/><circle cx="445.2" cy="403.3" r="3.8"/><circle cx="478.1" cy="445.2" r="3.8"/><circle cx="450.1" cy="430.6" r="3.8"/><circle cx="429.1" cy="489.9" r="3.8"/><circle cx="472.4" cy="509.2" r="3.8"/><circle cx="462.1" cy="420.3" r="3.8"/><circle cx="436.1" cy="532.5" r="3.8"/><circle cx="404.2" cy="521.5" r="3.8"/><circle cx="467.7" cy="453.9" r="3.8"/><circle cx="469.2" cy="489.4" r="3.8"/><circle cx="463.8" cy="497.2" r="3.8"/><circle cx="429.6" cy="480.1" r="3.8"/><circle cx="434.1" cy="397.4" r="3.8"/><circle cx="400.5" cy="364.8" r="3.8"/><circle cx="462.3" cy="418.8" r="3.8"/><circle cx="473.9" cy="471.4" r="3.8"/><circle cx="469.3" cy="449.3" r="3.8"/><circle cx="466.6" cy="480.8" r="3.8"/><circle cx="462.1" cy="412.5" r="3.8"/><circle cx="408.0" cy="516.9" r="3.8"/><circle cx="418.6" cy="531.8" r="3.8"/><circle cx="462.9" cy="482.0" r="3.8"/><circle cx="452.0" cy="476.5" r="3.8"/><circle cx="408.5" cy="564.1" r="3.8"/><circle cx="422.3" cy="454.4" r="3.8"/><circle cx="425.6" cy="529.3" r="3.8"/><circle cx="435.6" cy="550.5" r="3.8"/><circle cx="425.7" cy="574.3" r="3.8"/><circle cx="358.4" cy="436.8" r="3.8"/><circle cx="457.7" cy="511.9" r="3.8"/><circle cx="433.0" cy="479.5" r="3.8"/><circle cx="476.2" cy="571.7" r="3.8"/><circle cx="466.0" cy="492.2" r="3.8"/><circle cx="426.3" cy="471.5" r="3.8"/><circle cx="449.2" cy="494.1" r="3.8"/><circle cx="411.8" cy="471.2" r="3.8"/><circle cx="404.7" cy="438.9" r="3.8"/><circle cx="461.8" cy="431.2" r="3.8"/><circle cx="439.4" cy="424.4" r="3.8"/><circle cx="474.8" cy="449.2" r="3.8"/><circle cx="396.3" cy="474.1" r="3.8"/><circle cx="413.1" cy="532.0" r="3.8"/><circle cx="461.6" cy="415.7" r="3.8"/><circle cx="447.4" cy="418.6" r="3.8"/><circle cx="468.4" cy="433.3" r="3.8"/><circle cx="403.0" cy="401.4" r="3.8"/><circle cx="416.7" cy="462.9" r="3.8"/><circle cx="473.4" cy="504.2" r="3.8"/><circle cx="450.1" cy="363.4" r="3.8"/><circle cx="479.2" cy="477.2" r="3.8"/><circle cx="450.0" cy="421.9" r="3.8"/><circle cx="476.4" cy="571.8" r="3.8"/><circle cx="454.9" cy="404.0" r="3.8"/><circle cx="442.9" cy="420.3" r="3.8"/><circle cx="425.9" cy="450.8" r="3.8"/><circle cx="462.8" cy="551.5" r="3.8"/><circle cx="484.2" cy="502.1" r="3.8"/><circle cx="455.8" cy="527.4" r="3.8"/><circle cx="432.5" cy="433.3" r="3.8"/><circle cx="486.5" cy="557.9" r="3.8"/><circle cx="429.7" cy="525.8" r="3.8"/><circle cx="474.6" cy="527.9" r="3.8"/><circle cx="456.9" cy="425.5" r="3.8"/><circle cx="477.5" cy="417.9" r="3.8"/><circle cx="425.8" cy="515.7" r="3.8"/><circle cx="486.0" cy="519.2" r="3.8"/><circle cx="475.6" cy="409.5" r="3.8"/><circle cx="477.1" cy="463.5" r="3.8"/><circle cx="430.3" cy="434.9" r="3.8"/><circle cx="476.6" cy="502.9" r="3.8"/><circle cx="492.8" cy="516.1" r="3.8"/><circle cx="472.4" cy="500.0" r="3.8"/><circle cx="463.6" cy="453.3" r="3.8"/><circle cx="428.5" cy="567.4" r="3.8"/><circle cx="492.2" cy="508.1" r="3.8"/><circle cx="460.5" cy="534.4" r="3.8"/><circle cx="433.6" cy="443.1" r="3.8"/><circle cx="441.3" cy="419.6" r="3.8"/><circle cx="481.4" cy="567.1" r="3.8"/><circle cx="453.6" cy="471.2" r="3.8"/><circle cx="460.6" cy="449.5" r="3.8"/><circle cx="489.1" cy="541.7" r="3.8"/><circle cx="421.5" cy="378.4" r="3.8"/><circle cx="464.6" cy="573.3" r="3.8"/><circle cx="439.0" cy="535.0" r="3.8"/><circle cx="430.9" cy="512.7" r="3.8"/><circle cx="436.9" cy="561.1" r="3.8"/><circle cx="457.5" cy="420.0" r="3.8"/><circle cx="452.9" cy="539.1" r="3.8"/><circle cx="433.7" cy="540.5" r="3.8"/><circle cx="439.3" cy="439.4" r="3.8"/><circle cx="467.5" cy="480.3" r="3.8"/><circle cx="438.7" cy="572.3" r="3.8"/><circle cx="452.9" cy="425.3" r="3.8"/><circle cx="442.9" cy="518.7" r="3.8"/><circle cx="432.1" cy="552.1" r="3.8"/><circle cx="433.3" cy="415.2" r="3.8"/><circle cx="446.1" cy="514.0" r="3.8"/><circle cx="456.4" cy="576.8" r="3.8"/><circle cx="427.7" cy="437.5" r="3.8"/><circle cx="464.3" cy="504.7" r="3.8"/><circle cx="446.1" cy="411.4" r="3.8"/><circle cx="395.9" cy="420.1" r="3.8"/><circle cx="462.6" cy="531.1" r="3.8"/><circle cx="474.0" cy="365.1" r="3.8"/><circle cx="357.8" cy="414.3" r="3.8"/><circle cx="475.7" cy="476.0" r="3.8"/><circle cx="471.0" cy="559.4" r="3.8"/><circle cx="427.0" cy="520.9" r="3.8"/><circle cx="464.5" cy="474.2" r="3.8"/><circle cx="435.1" cy="354.5" r="3.8"/><circle cx="390.9" cy="365.7" r="3.8"/><circle cx="461.0" cy="512.3" r="3.8"/><circle cx="444.1" cy="390.8" r="3.8"/><circle cx="405.3" cy="400.8" r="3.8"/><circle cx="486.6" cy="488.4" r="3.8"/><circle cx="447.3" cy="477.0" r="3.8"/><circle cx="375.5" cy="494.6" r="3.8"/><circle cx="340.5" cy="455.1" r="3.8"/><circle cx="464.7" cy="454.8" r="3.8"/><circle cx="453.5" cy="487.5" r="3.8"/><circle cx="402.4" cy="352.6" r="3.8"/><circle cx="481.9" cy="544.4" r="3.8"/><circle cx="478.7" cy="536.7" r="3.8"/><circle cx="453.5" cy="392.3" r="3.8"/><circle cx="447.2" cy="462.4" r="3.8"/><circle cx="467.2" cy="386.6" r="3.8"/><circle cx="439.3" cy="463.7" r="3.8"/><circle cx="438.9" cy="463.6" r="3.8"/><circle cx="430.5" cy="538.4" r="3.8"/><circle cx="470.1" cy="465.8" r="3.8"/><circle cx="447.4" cy="567.2" r="3.8"/><circle cx="468.5" cy="388.2" r="3.8"/><circle cx="404.2" cy="368.2" r="3.8"/><circle cx="433.8" cy="569.8" r="3.8"/><circle cx="422.3" cy="527.8" r="3.8"/><circle cx="448.0" cy="479.3" r="3.8"/><circle cx="429.4" cy="476.3" r="3.8"/><circle cx="465.9" cy="426.1" r="3.8"/><circle cx="460.3" cy="527.1" r="3.8"/><circle cx="436.3" cy="544.0" r="3.8"/><circle cx="420.1" cy="448.9" r="3.8"/><circle cx="425.1" cy="482.9" r="3.8"/><circle cx="416.6" cy="449.3" r="3.8"/><circle cx="461.2" cy="465.5" r="3.8"/><circle cx="481.2" cy="562.3" r="3.8"/><circle cx="376.4" cy="347.5" r="3.8"/><circle cx="398.4" cy="508.7" r="3.8"/><circle cx="426.2" cy="466.0" r="3.8"/><circle cx="437.3" cy="443.5" r="3.8"/><circle cx="480.7" cy="502.6" r="3.8"/><circle cx="447.1" cy="569.4" r="3.8"/><circle cx="468.9" cy="449.9" r="3.8"/><circle cx="470.4" cy="460.6" r="3.8"/><circle cx="375.5" cy="493.4" r="3.8"/><circle cx="431.5" cy="422.0" r="3.8"/><circle cx="437.5" cy="393.5" r="3.8"/><circle cx="436.9" cy="573.9" r="3.8"/><circle cx="418.9" cy="507.8" r="3.8"/><circle cx="479.0" cy="448.6" r="3.8"/><circle cx="423.4" cy="421.7" r="3.8"/><circle cx="481.8" cy="553.4" r="3.8"/><circle cx="454.8" cy="477.1" r="3.8"/><circle cx="374.6" cy="397.8" r="3.8"/><circle cx="447.7" cy="474.0" r="3.8"/><circle cx="432.9" cy="557.3" r="3.8"/><circle cx="426.5" cy="403.8" r="3.8"/><circle cx="425.1" cy="450.6" r="3.8"/><circle cx="468.9" cy="357.0" r="3.8"/><circle cx="458.2" cy="479.8" r="3.8"/><circle cx="481.5" cy="481.1" r="3.8"/><circle cx="486.7" cy="491.5" r="3.8"/><circle cx="458.9" cy="337.8" r="3.8"/><circle cx="433.4" cy="565.9" r="3.8"/><circle cx="448.8" cy="554.0" r="3.8"/><circle cx="458.8" cy="377.7" r="3.8"/><circle cx="430.3" cy="553.4" r="3.8"/><circle cx="416.6" cy="402.4" r="3.8"/><circle cx="460.6" cy="391.1" r="3.8"/><circle cx="420.7" cy="494.6" r="3.8"/><circle cx="470.5" cy="409.7" r="3.8"/><circle cx="425.4" cy="507.1" r="3.8"/><circle cx="403.4" cy="469.1" r="3.8"/><circle cx="449.6" cy="481.8" r="3.8"/><circle cx="468.0" cy="538.4" r="3.8"/><circle cx="408.0" cy="423.1" r="3.8"/><circle cx="488.5" cy="501.2" r="3.8"/><circle cx="431.3" cy="548.0" r="3.8"/><circle cx="423.0" cy="398.4" r="3.8"/><circle cx="453.0" cy="418.2" r="3.8"/><circle cx="493.0" cy="569.8" r="3.8"/><circle cx="468.9" cy="423.7" r="3.8"/><circle cx="448.8" cy="429.7" r="3.8"/><circle cx="442.3" cy="463.0" r="3.8"/><circle cx="471.7" cy="492.1" r="3.8"/><circle cx="370.7" cy="489.1" r="3.8"/><circle cx="434.1" cy="514.0" r="3.8"/><circle cx="468.4" cy="569.4" r="3.8"/><circle cx="473.8" cy="564.3" r="3.8"/><circle cx="431.7" cy="534.7" r="3.8"/><circle cx="445.8" cy="497.2" r="3.8"/><circle cx="472.2" cy="406.1" r="3.8"/><circle cx="446.1" cy="442.0" r="3.8"/><circle cx="419.8" cy="370.0" r="3.8"/><circle cx="424.7" cy="528.5" r="3.8"/><circle cx="467.7" cy="440.9" r="3.8"/><circle cx="406.6" cy="461.5" r="3.8"/><circle cx="431.9" cy="420.7" r="3.8"/><circle cx="391.9" cy="464.6" r="3.8"/><circle cx="452.8" cy="435.2" r="3.8"/><circle cx="461.3" cy="493.2" r="3.8"/><circle cx="455.0" cy="475.4" r="3.8"/><circle cx="477.2" cy="498.8" r="3.8"/><circle cx="442.2" cy="494.2" r="3.8"/><circle cx="401.6" cy="490.0" r="3.8"/><circle cx="470.9" cy="544.3" r="3.8"/><circle cx="401.4" cy="459.6" r="3.8"/><circle cx="488.2" cy="563.6" r="3.8"/><circle cx="488.2" cy="484.4" r="3.8"/><circle cx="412.5" cy="438.4" r="3.8"/><circle cx="431.8" cy="402.2" r="3.8"/><circle cx="487.6" cy="474.5" r="3.8"/><circle cx="387.9" cy="475.0" r="3.8"/><circle cx="433.0" cy="414.5" r="3.8"/><circle cx="409.7" cy="457.8" r="3.8"/><circle cx="432.6" cy="384.3" r="3.8"/><circle cx="464.2" cy="375.2" r="3.8"/><circle cx="450.1" cy="483.7" r="3.8"/><circle cx="451.2" cy="461.8" r="3.8"/><circle cx="374.5" cy="433.9" r="3.8"/><circle cx="460.1" cy="565.1" r="3.8"/><circle cx="455.2" cy="431.7" r="3.8"/><circle cx="479.8" cy="520.0" r="3.8"/><circle cx="454.4" cy="538.4" r="3.8"/><circle cx="450.2" cy="466.0" r="3.8"/><circle cx="467.4" cy="499.3" r="3.8"/><circle cx="440.1" cy="469.3" r="3.8"/><circle cx="424.8" cy="466.1" r="3.8"/><circle cx="408.2" cy="502.3" r="3.8"/><circle cx="456.8" cy="559.8" r="3.8"/><circle cx="430.9" cy="421.2" r="3.8"/><circle cx="476.6" cy="451.7" r="3.8"/><circle cx="462.7" cy="444.2" r="3.8"/><circle cx="431.4" cy="567.1" r="3.8"/><circle cx="484.3" cy="460.7" r="3.8"/><circle cx="384.0" cy="459.2" r="3.8"/><circle cx="377.3" cy="480.0" r="3.8"/><circle cx="427.0" cy="492.1" r="3.8"/><circle cx="431.9" cy="410.6" r="3.8"/><circle cx="443.5" cy="555.2" r="3.8"/><circle cx="433.8" cy="515.4" r="3.8"/><circle cx="464.8" cy="454.8" r="3.8"/><circle cx="469.8" cy="474.1" r="3.8"/><circle cx="446.4" cy="393.5" r="3.8"/><circle cx="460.7" cy="415.3" r="3.8"/><circle cx="419.5" cy="516.6" r="3.8"/><circle cx="464.2" cy="400.8" r="3.8"/><circle cx="453.0" cy="405.7" r="3.8"/><circle cx="485.8" cy="548.5" r="3.8"/><circle cx="455.8" cy="448.2" r="3.8"/><circle cx="476.0" cy="575.6" r="3.8"/><circle cx="436.2" cy="513.1" r="3.8"/><circle cx="483.4" cy="504.1" r="3.8"/><circle cx="425.2" cy="474.1" r="3.8"/><circle cx="372.6" cy="448.7" r="3.8"/><circle cx="381.1" cy="534.6" r="3.8"/><circle cx="475.2" cy="528.3" r="3.8"/><circle cx="454.8" cy="362.6" r="3.8"/><circle cx="473.2" cy="476.0" r="3.8"/><circle cx="465.0" cy="471.7" r="3.8"/><circle cx="378.6" cy="450.5" r="3.8"/><circle cx="474.5" cy="412.0" r="3.8"/><circle cx="390.6" cy="437.6" r="3.8"/><circle cx="449.8" cy="548.7" r="3.8"/><circle cx="424.6" cy="540.8" r="3.8"/><circle cx="440.5" cy="525.4" r="3.8"/><circle cx="493.4" cy="544.2" r="3.8"/><circle cx="380.2" cy="457.1" r="3.8"/><circle cx="475.4" cy="547.9" r="3.8"/><circle cx="476.2" cy="539.3" r="3.8"/><circle cx="495.3" cy="517.7" r="3.8"/><circle cx="452.2" cy="498.1" r="3.8"/><circle cx="446.1" cy="502.5" r="3.8"/><circle cx="426.1" cy="478.3" r="3.8"/><circle cx="467.7" cy="464.5" r="3.8"/><circle cx="426.3" cy="387.5" r="3.8"/><circle cx="427.1" cy="545.8" r="3.8"/><circle cx="437.2" cy="446.9" r="3.8"/><circle cx="456.1" cy="548.4" r="3.8"/><circle cx="472.7" cy="499.9" r="3.8"/><circle cx="464.0" cy="425.5" r="3.8"/><circle cx="476.0" cy="413.1" r="3.8"/><circle cx="476.5" cy="436.1" r="3.8"/><circle cx="495.6" cy="520.7" r="3.8"/><circle cx="457.5" cy="371.3" r="3.8"/><circle cx="450.0" cy="468.2" r="3.8"/><circle cx="466.6" cy="379.3" r="3.8"/><circle cx="473.6" cy="404.9" r="3.8"/><circle cx="431.1" cy="528.4" r="3.8"/><circle cx="424.7" cy="520.1" r="3.8"/><circle cx="458.6" cy="373.3" r="3.8"/><circle cx="469.3" cy="509.2" r="3.8"/><circle cx="449.6" cy="559.1" r="3.8"/><circle cx="426.2" cy="521.3" r="3.8"/><circle cx="395.0" cy="431.0" r="3.8"/><circle cx="416.0" cy="539.8" r="3.8"/><circle cx="426.2" cy="515.4" r="3.8"/><circle cx="442.4" cy="493.4" r="3.8"/><circle cx="491.0" cy="495.8" r="3.8"/><circle cx="435.6" cy="517.5" r="3.8"/><circle cx="462.6" cy="496.7" r="3.8"/><circle cx="459.3" cy="561.8" r="3.8"/><circle cx="337.0" cy="436.9" r="3.8"/><circle cx="430.3" cy="422.3" r="3.8"/><circle cx="459.3" cy="481.6" r="3.8"/><circle cx="412.5" cy="462.9" r="3.8"/><circle cx="467.4" cy="531.8" r="3.8"/><circle cx="403.0" cy="507.5" r="3.8"/><circle cx="482.4" cy="562.8" r="3.8"/><circle cx="449.1" cy="523.1" r="3.8"/><circle cx="455.9" cy="379.2" r="3.8"/><circle cx="409.4" cy="448.7" r="3.8"/><circle cx="434.4" cy="552.4" r="3.8"/><circle cx="460.0" cy="444.1" r="3.8"/><circle cx="434.6" cy="411.1" r="3.8"/><circle cx="468.8" cy="558.2" r="3.8"/><circle cx="457.2" cy="468.3" r="3.8"/><circle cx="416.4" cy="351.1" r="3.8"/><circle cx="437.7" cy="453.4" r="3.8"/><circle cx="483.3" cy="531.4" r="3.8"/><circle cx="357.3" cy="390.2" r="3.8"/><circle cx="395.2" cy="559.9" r="3.8"/><circle cx="420.6" cy="388.6" r="3.8"/><circle cx="439.9" cy="460.9" r="3.8"/><circle cx="428.6" cy="411.8" r="3.8"/><circle cx="482.1" cy="497.4" r="3.8"/><circle cx="437.3" cy="479.6" r="3.8"/><circle cx="475.9" cy="417.4" r="3.8"/><circle cx="442.1" cy="515.7" r="3.8"/><circle cx="444.0" cy="516.3" r="3.8"/><circle cx="412.5" cy="444.8" r="3.8"/><circle cx="388.6" cy="507.4" r="3.8"/><circle cx="428.2" cy="406.9" r="3.8"/><circle cx="446.1" cy="508.9" r="3.8"/><circle cx="405.6" cy="542.7" r="3.8"/><circle cx="424.9" cy="465.8" r="3.8"/><circle cx="447.9" cy="562.8" r="3.8"/><circle cx="427.6" cy="524.6" r="3.8"/><circle cx="430.3" cy="472.9" r="3.8"/><circle cx="404.9" cy="493.2" r="3.8"/><circle cx="438.6" cy="446.6" r="3.8"/><circle cx="434.7" cy="501.8" r="3.8"/><circle cx="466.8" cy="486.1" r="3.8"/><circle cx="450.6" cy="452.6" r="3.8"/><circle cx="376.8" cy="492.7" r="3.8"/><circle cx="479.7" cy="443.5" r="3.8"/><circle cx="423.1" cy="425.7" r="3.8"/><circle cx="456.8" cy="487.1" r="3.8"/><circle cx="500.9" cy="572.8" r="3.8"/><circle cx="493.0" cy="504.1" r="3.8"/><circle cx="348.6" cy="485.1" r="3.8"/><circle cx="464.5" cy="527.5" r="3.8"/><circle cx="444.4" cy="424.2" r="3.8"/><circle cx="477.5" cy="569.5" r="3.8"/><circle cx="480.1" cy="557.5" r="3.8"/><circle cx="429.0" cy="429.4" r="3.8"/><circle cx="428.2" cy="421.6" r="3.8"/><circle cx="453.4" cy="498.2" r="3.8"/><circle cx="422.5" cy="450.6" r="3.8"/><circle cx="464.4" cy="513.3" r="3.8"/><circle cx="471.3" cy="426.5" r="3.8"/><circle cx="471.5" cy="427.9" r="3.8"/><circle cx="412.0" cy="481.7" r="3.8"/><circle cx="431.3" cy="559.8" r="3.8"/><circle cx="462.1" cy="509.2" r="3.8"/><circle cx="488.8" cy="509.8" r="3.8"/><circle cx="423.4" cy="460.0" r="3.8"/><circle cx="445.5" cy="571.3" r="3.8"/><circle cx="440.3" cy="471.7" r="3.8"/><circle cx="472.4" cy="455.0" r="3.8"/><circle cx="480.7" cy="550.6" r="3.8"/><circle cx="480.9" cy="423.4" r="3.8"/><circle cx="473.8" cy="470.8" r="3.8"/><circle cx="403.1" cy="456.3" r="3.8"/><circle cx="414.4" cy="490.3" r="3.8"/><circle cx="465.4" cy="516.6" r="3.8"/><circle cx="437.3" cy="501.2" r="3.8"/><circle cx="443.6" cy="434.2" r="3.8"/><circle cx="444.9" cy="435.3" r="3.8"/><circle cx="390.7" cy="396.6" r="3.8"/><circle cx="401.5" cy="490.2" r="3.8"/><circle cx="452.9" cy="372.2" r="3.8"/><circle cx="437.3" cy="510.4" r="3.8"/><circle cx="407.8" cy="349.4" r="3.8"/><circle cx="467.3" cy="489.6" r="3.8"/><circle cx="425.4" cy="494.1" r="3.8"/><circle cx="437.0" cy="522.4" r="3.8"/><circle cx="454.3" cy="389.3" r="3.8"/><circle cx="488.2" cy="526.7" r="3.8"/><circle cx="425.9" cy="529.0" r="3.8"/><circle cx="465.7" cy="399.3" r="3.8"/><circle cx="461.7" cy="454.9" r="3.8"/><circle cx="418.3" cy="526.8" r="3.8"/><circle cx="429.8" cy="477.4" r="3.8"/><circle cx="478.5" cy="506.0" r="3.8"/><circle cx="433.3" cy="514.4" r="3.8"/><circle cx="444.7" cy="556.3" r="3.8"/><circle cx="380.9" cy="358.0" r="3.8"/><circle cx="467.9" cy="452.4" r="3.8"/><circle cx="492.2" cy="540.6" r="3.8"/><circle cx="425.5" cy="540.5" r="3.8"/><circle cx="440.0" cy="404.4" r="3.8"/><circle cx="500.3" cy="560.3" r="3.8"/><circle cx="456.6" cy="511.5" r="3.8"/><circle cx="370.5" cy="358.9" r="3.8"/><circle cx="442.0" cy="543.6" r="3.8"/><circle cx="455.9" cy="492.0" r="3.8"/><circle cx="477.5" cy="486.7" r="3.8"/><circle cx="435.5" cy="564.0" r="3.8"/><circle cx="466.7" cy="467.5" r="3.8"/><circle cx="375.2" cy="492.8" r="3.8"/><circle cx="448.3" cy="419.6" r="3.8"/><circle cx="479.3" cy="538.6" r="3.8"/><circle cx="451.0" cy="383.3" r="3.8"/><circle cx="455.8" cy="375.8" r="3.8"/><circle cx="475.6" cy="450.0" r="3.8"/><circle cx="401.4" cy="505.6" r="3.8"/><circle cx="446.2" cy="491.1" r="3.8"/><circle cx="445.5" cy="468.4" r="3.8"/><circle cx="443.9" cy="394.7" r="3.8"/><circle cx="425.8" cy="439.7" r="3.8"/><circle cx="387.5" cy="444.8" r="3.8"/><circle cx="435.2" cy="346.5" r="3.8"/><circle cx="464.6" cy="524.5" r="3.8"/><circle cx="467.7" cy="508.2" r="3.8"/><circle cx="434.5" cy="515.7" r="3.8"/><circle cx="490.0" cy="524.4" r="3.8"/><circle cx="427.1" cy="371.0" r="3.8"/><circle cx="444.3" cy="431.4" r="3.8"/><circle cx="431.4" cy="500.7" r="3.8"/><circle cx="394.0" cy="341.1" r="3.8"/><circle cx="480.5" cy="568.5" r="3.8"/><circle cx="453.0" cy="478.9" r="3.8"/><circle cx="440.8" cy="349.1" r="3.8"/><circle cx="459.6" cy="404.7" r="3.8"/><circle cx="424.1" cy="393.1" r="3.8"/><circle cx="466.4" cy="457.6" r="3.8"/><circle cx="397.4" cy="473.4" r="3.8"/><circle cx="404.1" cy="470.9" r="3.8"/><circle cx="431.3" cy="434.7" r="3.8"/><circle cx="467.5" cy="429.9" r="3.8"/><circle cx="456.4" cy="472.9" r="3.8"/><circle cx="457.0" cy="407.7" r="3.8"/><circle cx="421.6" cy="443.0" r="3.8"/><circle cx="489.5" cy="530.5" r="3.8"/><circle cx="403.0" cy="448.2" r="3.8"/><circle cx="421.8" cy="553.6" r="3.8"/><circle cx="436.3" cy="486.4" r="3.8"/><circle cx="471.4" cy="451.6" r="3.8"/><circle cx="404.6" cy="490.0" r="3.8"/><circle cx="449.1" cy="501.2" r="3.8"/><circle cx="409.2" cy="542.3" r="3.8"/><circle cx="428.7" cy="419.3" r="3.8"/><circle cx="456.8" cy="576.7" r="3.8"/><circle cx="400.5" cy="499.9" r="3.8"/><circle cx="457.0" cy="534.6" r="3.8"/><circle cx="447.8" cy="492.3" r="3.8"/><circle cx="469.0" cy="463.0" r="3.8"/><circle cx="482.3" cy="503.8" r="3.8"/><circle cx="412.2" cy="456.7" r="3.8"/><circle cx="490.8" cy="536.2" r="3.8"/><circle cx="417.6" cy="529.7" r="3.8"/><circle cx="408.0" cy="363.7" r="3.8"/><circle cx="481.5" cy="448.9" r="3.8"/><circle cx="342.2" cy="360.8" r="3.8"/><circle cx="418.9" cy="474.2" r="3.8"/><circle cx="448.7" cy="490.1" r="3.8"/><circle cx="387.1" cy="387.4" r="3.8"/><circle cx="477.8" cy="527.9" r="3.8"/><circle cx="438.5" cy="541.1" r="3.8"/><circle cx="441.5" cy="438.5" r="3.8"/><circle cx="429.3" cy="420.8" r="3.8"/><circle cx="481.3" cy="493.5" r="3.8"/><circle cx="407.1" cy="520.7" r="3.8"/><circle cx="424.4" cy="500.7" r="3.8"/><circle cx="466.4" cy="546.3" r="3.8"/><circle cx="461.6" cy="427.2" r="3.8"/><circle cx="457.8" cy="434.5" r="3.8"/><circle cx="439.2" cy="394.0" r="3.8"/><circle cx="455.7" cy="368.4" r="3.8"/><circle cx="431.7" cy="560.7" r="3.8"/><circle cx="450.4" cy="535.4" r="3.8"/><circle cx="452.2" cy="488.4" r="3.8"/><circle cx="492.0" cy="573.5" r="3.8"/><circle cx="404.0" cy="525.5" r="3.8"/><circle cx="382.2" cy="432.8" r="3.8"/><circle cx="405.1" cy="517.0" r="3.8"/><circle cx="413.7" cy="547.5" r="3.8"/><circle cx="430.4" cy="492.3" r="3.8"/><circle cx="445.8" cy="437.6" r="3.8"/><circle cx="433.3" cy="511.1" r="3.8"/><circle cx="457.6" cy="430.0" r="3.8"/><circle cx="399.9" cy="414.4" r="3.8"/><circle cx="470.1" cy="462.5" r="3.8"/><circle cx="458.9" cy="352.0" r="3.8"/><circle cx="470.1" cy="447.3" r="3.8"/><circle cx="465.4" cy="455.1" r="3.8"/><circle cx="435.3" cy="470.6" r="3.8"/><circle cx="434.8" cy="560.0" r="3.8"/><circle cx="471.0" cy="397.4" r="3.8"/><circle cx="465.2" cy="378.9" r="3.8"/><circle cx="469.0" cy="511.2" r="3.8"/><circle cx="449.0" cy="393.0" r="3.8"/><circle cx="463.7" cy="484.1" r="3.8"/><circle cx="456.9" cy="519.2" r="3.8"/><circle cx="421.7" cy="370.8" r="3.8"/><circle cx="407.6" cy="507.1" r="3.8"/><circle cx="419.8" cy="387.3" r="3.8"/><circle cx="479.6" cy="533.1" r="3.8"/><circle cx="449.5" cy="467.5" r="3.8"/><circle cx="460.2" cy="389.0" r="3.8"/><circle cx="412.6" cy="445.3" r="3.8"/><circle cx="434.4" cy="424.7" r="3.8"/><circle cx="458.5" cy="536.3" r="3.8"/><circle cx="481.2" cy="557.9" r="3.8"/><circle cx="410.1" cy="536.9" r="3.8"/><circle cx="432.2" cy="387.0" r="3.8"/><circle cx="446.5" cy="377.6" r="3.8"/><circle cx="435.7" cy="407.2" r="3.8"/><circle cx="459.7" cy="470.8" r="3.8"/><circle cx="397.8" cy="477.1" r="3.8"/><circle cx="417.5" cy="475.9" r="3.8"/><circle cx="441.7" cy="466.6" r="3.8"/><circle cx="431.5" cy="479.0" r="3.8"/><circle cx="490.2" cy="482.6" r="3.8"/><circle cx="439.3" cy="535.5" r="3.8"/><circle cx="460.4" cy="527.4" r="3.8"/><circle cx="426.6" cy="563.7" r="3.8"/><circle cx="462.0" cy="382.1" r="3.8"/><circle cx="454.0" cy="481.1" r="3.8"/><circle cx="435.2" cy="404.5" r="3.8"/><circle cx="458.3" cy="503.1" r="3.8"/><circle cx="432.2" cy="494.0" r="3.8"/><circle cx="441.1" cy="570.2" r="3.8"/><circle cx="470.3" cy="474.2" r="3.8"/><circle cx="412.0" cy="444.0" r="3.8"/><circle cx="492.1" cy="529.5" r="3.8"/><circle cx="389.2" cy="336.4" r="3.8"/><circle cx="480.3" cy="567.0" r="3.8"/><circle cx="454.4" cy="404.9" r="3.8"/><circle cx="435.8" cy="411.8" r="3.8"/><circle cx="338.6" cy="468.9" r="3.8"/><circle cx="444.1" cy="466.1" r="3.8"/><circle cx="482.1" cy="570.4" r="3.8"/><circle cx="498.2" cy="570.2" r="3.8"/><circle cx="431.0" cy="435.7" r="3.8"/><circle cx="431.2" cy="574.8" r="3.8"/><circle cx="454.7" cy="498.7" r="3.8"/><circle cx="460.9" cy="420.8" r="3.8"/><circle cx="432.0" cy="432.5" r="3.8"/><circle cx="477.8" cy="462.0" r="3.8"/><circle cx="408.9" cy="474.1" r="3.8"/><circle cx="467.8" cy="444.9" r="3.8"/><circle cx="466.2" cy="425.3" r="3.8"/><circle cx="472.4" cy="570.9" r="3.8"/><circle cx="351.6" cy="387.9" r="3.8"/><circle cx="438.6" cy="432.3" r="3.8"/><circle cx="442.5" cy="513.3" r="3.8"/><circle cx="438.3" cy="496.5" r="3.8"/><circle cx="422.2" cy="495.9" r="3.8"/><circle cx="410.8" cy="440.2" r="3.8"/><circle cx="420.1" cy="474.3" r="3.8"/><circle cx="451.0" cy="507.1" r="3.8"/><circle cx="453.8" cy="435.2" r="3.8"/><circle cx="441.7" cy="346.7" r="3.8"/><circle cx="414.1" cy="398.6" r="3.8"/><circle cx="448.8" cy="520.3" r="3.8"/><circle cx="470.4" cy="432.5" r="3.8"/><circle cx="491.0" cy="506.1" r="3.8"/><circle cx="488.1" cy="496.3" r="3.8"/><circle cx="452.4" cy="408.0" r="3.8"/><circle cx="478.9" cy="457.4" r="3.8"/><circle cx="455.9" cy="442.4" r="3.8"/><circle cx="398.8" cy="494.9" r="3.8"/><circle cx="452.3" cy="443.8" r="3.8"/><circle cx="428.3" cy="419.3" r="3.8"/><circle cx="465.4" cy="522.2" r="3.8"/><circle cx="470.1" cy="535.4" r="3.8"/><circle cx="476.8" cy="568.9" r="3.8"/><circle cx="447.9" cy="407.9" r="3.8"/><circle cx="469.5" cy="484.5" r="3.8"/><circle cx="457.3" cy="447.8" r="3.8"/><circle cx="435.1" cy="404.8" r="3.8"/><circle cx="475.2" cy="533.1" r="3.8"/><circle cx="455.7" cy="457.7" r="3.8"/><circle cx="459.0" cy="492.4" r="3.8"/><circle cx="466.3" cy="428.5" r="3.8"/><circle cx="468.3" cy="495.1" r="3.8"/><circle cx="449.4" cy="372.8" r="3.8"/><circle cx="475.8" cy="479.9" r="3.8"/><circle cx="403.5" cy="386.9" r="3.8"/><circle cx="456.4" cy="411.2" r="3.8"/><circle cx="461.7" cy="446.6" r="3.8"/><circle cx="452.2" cy="524.7" r="3.8"/><circle cx="444.5" cy="530.5" r="3.8"/><circle cx="430.3" cy="498.1" r="3.8"/><circle cx="412.6" cy="471.6" r="3.8"/><circle cx="418.4" cy="407.0" r="3.8"/><circle cx="427.7" cy="505.3" r="3.8"/><circle cx="423.3" cy="497.4" r="3.8"/><circle cx="435.4" cy="503.6" r="3.8"/><circle cx="406.0" cy="418.6" r="3.8"/><circle cx="474.0" cy="544.0" r="3.8"/><circle cx="434.7" cy="446.8" r="3.8"/><circle cx="463.9" cy="464.2" r="3.8"/><circle cx="494.4" cy="553.7" r="3.8"/><circle cx="455.9" cy="378.3" r="3.8"/><circle cx="426.2" cy="444.6" r="3.8"/><circle cx="403.7" cy="447.8" r="3.8"/><circle cx="434.0" cy="531.5" r="3.8"/><circle cx="457.8" cy="467.2" r="3.8"/><circle cx="473.8" cy="537.5" r="3.8"/><circle cx="396.3" cy="554.8" r="3.8"/><circle cx="470.3" cy="463.4" r="3.8"/><circle cx="477.0" cy="428.8" r="3.8"/><circle cx="446.7" cy="369.9" r="3.8"/><circle cx="437.1" cy="494.2" r="3.8"/><circle cx="426.2" cy="416.1" r="3.8"/><circle cx="355.9" cy="486.4" r="3.8"/><circle cx="447.9" cy="523.8" r="3.8"/><circle cx="392.9" cy="480.0" r="3.8"/><circle cx="461.4" cy="455.6" r="3.8"/><circle cx="414.5" cy="337.1" r="3.8"/><circle cx="438.4" cy="481.5" r="3.8"/><circle cx="424.6" cy="516.6" r="3.8"/><circle cx="464.1" cy="500.0" r="3.8"/><circle cx="407.8" cy="458.7" r="3.8"/><circle cx="444.3" cy="512.6" r="3.8"/><circle cx="434.6" cy="546.3" r="3.8"/><circle cx="495.2" cy="533.4" r="3.8"/><circle cx="475.6" cy="475.8" r="3.8"/><circle cx="456.0" cy="436.0" r="3.8"/><circle cx="484.3" cy="508.9" r="3.8"/><circle cx="410.9" cy="500.6" r="3.8"/><circle cx="448.0" cy="369.3" r="3.8"/><circle cx="433.2" cy="572.2" r="3.8"/><circle cx="440.8" cy="548.8" r="3.8"/><circle cx="417.1" cy="531.9" r="3.8"/><circle cx="384.6" cy="485.2" r="3.8"/><circle cx="482.4" cy="478.2" r="3.8"/><circle cx="446.2" cy="356.0" r="3.8"/><circle cx="414.7" cy="476.4" r="3.8"/><circle cx="478.6" cy="501.2" r="3.8"/><circle cx="458.8" cy="369.9" r="3.8"/><circle cx="463.9" cy="414.4" r="3.8"/><circle cx="444.2" cy="520.5" r="3.8"/><circle cx="501.1" cy="566.1" r="3.8"/><circle cx="460.0" cy="475.9" r="3.8"/><circle cx="470.9" cy="415.9" r="3.8"/><circle cx="446.6" cy="484.8" r="3.8"/><circle cx="491.7" cy="505.9" r="3.8"/><circle cx="443.0" cy="491.8" r="3.8"/><circle cx="466.1" cy="488.9" r="3.8"/><circle cx="482.5" cy="518.1" r="3.8"/><circle cx="488.0" cy="554.9" r="3.8"/><circle cx="462.6" cy="472.7" r="3.8"/><circle cx="460.9" cy="481.0" r="3.8"/><circle cx="413.6" cy="540.4" r="3.8"/><circle cx="490.7" cy="549.1" r="3.8"/><circle cx="482.3" cy="488.8" r="3.8"/><circle cx="384.5" cy="518.2" r="3.8"/><circle cx="454.1" cy="398.1" r="3.8"/><circle cx="393.9" cy="497.3" r="3.8"/><circle cx="451.8" cy="420.1" r="3.8"/><circle cx="475.3" cy="513.4" r="3.8"/><circle cx="477.1" cy="520.1" r="3.8"/><circle cx="474.4" cy="416.1" r="3.8"/><circle cx="395.2" cy="487.0" r="3.8"/><circle cx="462.1" cy="404.3" r="3.8"/><circle cx="462.1" cy="535.6" r="3.8"/><circle cx="453.6" cy="508.8" r="3.8"/><circle cx="377.5" cy="455.7" r="3.8"/><circle cx="397.9" cy="480.8" r="3.8"/><circle cx="455.3" cy="389.4" r="3.8"/><circle cx="406.3" cy="347.7" r="3.8"/><circle cx="449.8" cy="534.2" r="3.8"/><circle cx="486.3" cy="496.4" r="3.8"/><circle cx="482.0" cy="479.5" r="3.8"/><circle cx="434.4" cy="535.6" r="3.8"/><circle cx="491.7" cy="537.0" r="3.8"/><circle cx="439.0" cy="383.6" r="3.8"/><circle cx="375.1" cy="385.2" r="3.8"/><circle cx="458.2" cy="463.9" r="3.8"/><circle cx="423.8" cy="399.6" r="3.8"/><circle cx="409.5" cy="531.5" r="3.8"/><circle cx="430.1" cy="531.4" r="3.8"/><circle cx="432.2" cy="460.0" r="3.8"/><circle cx="433.0" cy="528.3" r="3.8"/><circle cx="487.3" cy="576.4" r="3.8"/><circle cx="445.2" cy="409.0" r="3.8"/><circle cx="472.1" cy="522.7" r="3.8"/><circle cx="481.1" cy="525.0" r="3.8"/><circle cx="446.2" cy="377.1" r="3.8"/><circle cx="486.9" cy="560.1" r="3.8"/><circle cx="406.2" cy="443.7" r="3.8"/><circle cx="446.7" cy="501.7" r="3.8"/><circle cx="429.2" cy="446.4" r="3.8"/><circle cx="405.6" cy="491.1" r="3.8"/><circle cx="412.5" cy="527.0" r="3.8"/><circle cx="462.0" cy="461.9" r="3.8"/><circle cx="481.3" cy="550.2" r="3.8"/><circle cx="450.0" cy="564.0" r="3.8"/><circle cx="422.4" cy="341.1" r="3.8"/><circle cx="436.7" cy="539.1" r="3.8"/><circle cx="436.3" cy="507.2" r="3.8"/><circle cx="362.7" cy="339.8" r="3.8"/><circle cx="402.8" cy="444.6" r="3.8"/><circle cx="456.6" cy="429.3" r="3.8"/><circle cx="429.4" cy="386.2" r="3.8"/><circle cx="460.1" cy="559.7" r="3.8"/><circle cx="451.7" cy="393.8" r="3.8"/><circle cx="409.4" cy="376.8" r="3.8"/><circle cx="443.3" cy="409.8" r="3.8"/><circle cx="410.9" cy="413.4" r="3.8"/><circle cx="414.4" cy="387.2" r="3.8"/><circle cx="456.9" cy="424.6" r="3.8"/><circle cx="486.3" cy="559.4" r="3.8"/><circle cx="375.8" cy="347.6" r="3.8"/><circle cx="476.7" cy="442.7" r="3.8"/><circle cx="456.7" cy="441.9" r="3.8"/><circle cx="477.1" cy="548.5" r="3.8"/><circle cx="439.3" cy="522.8" r="3.8"/><circle cx="411.5" cy="401.3" r="3.8"/><circle cx="460.4" cy="468.3" r="3.8"/><circle cx="461.2" cy="556.8" r="3.8"/><circle cx="446.1" cy="481.0" r="3.8"/><circle cx="388.7" cy="519.5" r="3.8"/><circle cx="450.1" cy="566.4" r="3.8"/><circle cx="453.8" cy="405.4" r="3.8"/><circle cx="455.6" cy="546.5" r="3.8"/><circle cx="497.4" cy="524.4" r="3.8"/><circle cx="421.4" cy="425.7" r="3.8"/><circle cx="413.5" cy="537.0" r="3.8"/><circle cx="465.0" cy="507.7" r="3.8"/><circle cx="450.9" cy="377.2" r="3.8"/><circle cx="430.9" cy="540.1" r="3.8"/><circle cx="449.4" cy="497.1" r="3.8"/><circle cx="485.6" cy="569.0" r="3.8"/><circle cx="408.1" cy="428.3" r="3.8"/><circle cx="475.2" cy="501.3" r="3.8"/><circle cx="408.1" cy="381.6" r="3.8"/><circle cx="429.6" cy="454.7" r="3.8"/><circle cx="416.6" cy="339.4" r="3.8"/><circle cx="423.5" cy="450.2" r="3.8"/><circle cx="429.0" cy="507.1" r="3.8"/><circle cx="423.1" cy="489.5" r="3.8"/><circle cx="456.4" cy="537.9" r="3.8"/><circle cx="421.2" cy="559.0" r="3.8"/><circle cx="439.0" cy="506.4" r="3.8"/><circle cx="438.1" cy="410.7" r="3.8"/><circle cx="449.0" cy="484.8" r="3.8"/><circle cx="391.6" cy="500.8" r="3.8"/><circle cx="447.3" cy="408.4" r="3.8"/><circle cx="452.0" cy="429.3" r="3.8"/><circle cx="436.3" cy="485.0" r="3.8"/><circle cx="363.6" cy="414.5" r="3.8"/><circle cx="427.5" cy="501.6" r="3.8"/><circle cx="402.6" cy="528.1" r="3.8"/><circle cx="395.9" cy="515.6" r="3.8"/><circle cx="460.2" cy="432.3" r="3.8"/><circle cx="407.9" cy="514.6" r="3.8"/><circle cx="425.1" cy="553.8" r="3.8"/><circle cx="417.6" cy="443.9" r="3.8"/><circle cx="441.7" cy="470.2" r="3.8"/><circle cx="475.9" cy="573.9" r="3.8"/><circle cx="458.5" cy="448.5" r="3.8"/><circle cx="458.7" cy="436.9" r="3.8"/><circle cx="434.3" cy="520.7" r="3.8"/><circle cx="449.4" cy="480.9" r="3.8"/><circle cx="471.3" cy="497.3" r="3.8"/><circle cx="436.9" cy="413.7" r="3.8"/><circle cx="478.8" cy="499.7" r="3.8"/><circle cx="482.6" cy="574.6" r="3.8"/><circle cx="474.2" cy="428.7" r="3.8"/><circle cx="469.6" cy="455.9" r="3.8"/><circle cx="495.9" cy="568.5" r="3.8"/><circle cx="456.8" cy="344.9" r="3.8"/><circle cx="473.5" cy="414.6" r="3.8"/><circle cx="433.7" cy="489.8" r="3.8"/><circle cx="369.2" cy="358.0" r="3.8"/><circle cx="467.7" cy="575.9" r="3.8"/><circle cx="388.7" cy="462.9" r="3.8"/><circle cx="419.7" cy="443.5" r="3.8"/><circle cx="393.1" cy="452.3" r="3.8"/><circle cx="489.9" cy="556.6" r="3.8"/><circle cx="438.7" cy="453.2" r="3.8"/><circle cx="498.6" cy="550.8" r="3.8"/><circle cx="427.1" cy="516.7" r="3.8"/><circle cx="459.3" cy="425.8" r="3.8"/><circle cx="463.9" cy="477.0" r="3.8"/><circle cx="414.1" cy="442.3" r="3.8"/><circle cx="447.2" cy="495.9" r="3.8"/><circle cx="445.9" cy="559.3" r="3.8"/><circle cx="450.0" cy="420.5" r="3.8"/><circle cx="439.9" cy="390.5" r="3.8"/><circle cx="400.1" cy="390.3" r="3.8"/><circle cx="432.4" cy="573.4" r="3.8"/><circle cx="460.5" cy="560.9" r="3.8"/><circle cx="399.3" cy="399.4" r="3.8"/><circle cx="405.1" cy="517.5" r="3.8"/><circle cx="416.9" cy="385.1" r="3.8"/><circle cx="449.8" cy="382.3" r="3.8"/><circle cx="482.9" cy="571.0" r="3.8"/><circle cx="425.8" cy="516.6" r="3.8"/><circle cx="462.6" cy="459.3" r="3.8"/><circle cx="495.3" cy="523.7" r="3.8"/><circle cx="487.5" cy="554.3" r="3.8"/><circle cx="470.9" cy="511.2" r="3.8"/><circle cx="435.8" cy="573.8" r="3.8"/><circle cx="470.1" cy="468.6" r="3.8"/><circle cx="423.2" cy="456.3" r="3.8"/><circle cx="446.7" cy="385.6" r="3.8"/><circle cx="430.7" cy="432.3" r="3.8"/><circle cx="428.5" cy="507.5" r="3.8"/><circle cx="430.8" cy="548.6" r="3.8"/><circle cx="456.1" cy="406.8" r="3.8"/><circle cx="440.2" cy="559.0" r="3.8"/><circle cx="433.9" cy="574.5" r="3.8"/><circle cx="466.5" cy="510.0" r="3.8"/><circle cx="480.6" cy="508.3" r="3.8"/><circle cx="469.2" cy="520.9" r="3.8"/><circle cx="464.3" cy="537.1" r="3.8"/><circle cx="393.0" cy="475.8" r="3.8"/><circle cx="432.0" cy="464.0" r="3.8"/><circle cx="483.2" cy="531.8" r="3.8"/><circle cx="476.7" cy="484.8" r="3.8"/><circle cx="449.0" cy="541.2" r="3.8"/><circle cx="452.0" cy="494.0" r="3.8"/><circle cx="443.3" cy="415.3" r="3.8"/><circle cx="448.7" cy="488.3" r="3.8"/><circle cx="460.0" cy="354.1" r="3.8"/><circle cx="490.5" cy="559.7" r="3.8"/><circle cx="428.6" cy="465.0" r="3.8"/><circle cx="430.0" cy="438.0" r="3.8"/><circle cx="478.6" cy="498.2" r="3.8"/><circle cx="406.4" cy="431.8" r="3.8"/><circle cx="426.7" cy="439.9" r="3.8"/><circle cx="424.0" cy="375.0" r="3.8"/><circle cx="433.6" cy="496.6" r="3.8"/><circle cx="466.1" cy="422.2" r="3.8"/><circle cx="437.9" cy="397.3" r="3.8"/><circle cx="445.3" cy="540.2" r="3.8"/><circle cx="478.3" cy="534.3" r="3.8"/><circle cx="474.7" cy="525.3" r="3.8"/><circle cx="475.4" cy="477.3" r="3.8"/><circle cx="433.1" cy="473.4" r="3.8"/><circle cx="484.7" cy="462.1" r="3.8"/><circle cx="461.4" cy="517.6" r="3.8"/><circle cx="347.1" cy="340.0" r="3.8"/><circle cx="463.4" cy="554.7" r="3.8"/><circle cx="450.1" cy="367.2" r="3.8"/><circle cx="451.3" cy="576.8" r="3.8"/><circle cx="438.1" cy="428.8" r="3.8"/><circle cx="495.8" cy="523.8" r="3.8"/><circle cx="403.3" cy="479.6" r="3.8"/><circle cx="361.2" cy="372.8" r="3.8"/><circle cx="440.5" cy="550.4" r="3.8"/><circle cx="437.1" cy="448.0" r="3.8"/><circle cx="417.8" cy="515.3" r="3.8"/><circle cx="431.5" cy="551.4" r="3.8"/><circle cx="448.4" cy="438.9" r="3.8"/><circle cx="414.8" cy="369.6" r="3.8"/><circle cx="445.5" cy="500.5" r="3.8"/><circle cx="449.9" cy="437.2" r="3.8"/><circle cx="436.5" cy="418.1" r="3.8"/><circle cx="479.1" cy="541.0" r="3.8"/><circle cx="452.6" cy="408.0" r="3.8"/><circle cx="475.9" cy="423.4" r="3.8"/><circle cx="421.1" cy="545.0" r="3.8"/><circle cx="428.2" cy="511.8" r="3.8"/><circle cx="448.5" cy="382.0" r="3.8"/><circle cx="454.7" cy="575.4" r="3.8"/><circle cx="452.0" cy="457.3" r="3.8"/><circle cx="467.6" cy="576.0" r="3.8"/><circle cx="432.6" cy="479.9" r="3.8"/><circle cx="455.0" cy="494.6" r="3.8"/><circle cx="440.4" cy="540.8" r="3.8"/><circle cx="492.4" cy="505.9" r="3.8"/><circle cx="443.4" cy="408.4" r="3.8"/><circle cx="482.9" cy="569.9" r="3.8"/><circle cx="481.6" cy="497.6" r="3.8"/><circle cx="463.3" cy="480.8" r="3.8"/><circle cx="446.8" cy="383.8" r="3.8"/><circle cx="495.9" cy="524.5" r="3.8"/><circle cx="471.7" cy="536.5" r="3.8"/><circle cx="445.7" cy="518.7" r="3.8"/><circle cx="467.4" cy="437.0" r="3.8"/><circle cx="394.8" cy="411.9" r="3.8"/><circle cx="408.6" cy="475.7" r="3.8"/><circle cx="478.5" cy="496.7" r="3.8"/><circle cx="451.3" cy="500.2" r="3.8"/><circle cx="441.9" cy="573.4" r="3.8"/><circle cx="477.4" cy="522.2" r="3.8"/><circle cx="469.6" cy="489.8" r="3.8"/><circle cx="500.5" cy="556.7" r="3.8"/><circle cx="483.3" cy="449.8" r="3.8"/><circle cx="425.0" cy="541.1" r="3.8"/><circle cx="462.8" cy="466.9" r="3.8"/><circle cx="491.1" cy="527.7" r="3.8"/><circle cx="460.4" cy="379.7" r="3.8"/><circle cx="436.4" cy="410.2" r="3.8"/><circle cx="487.2" cy="472.3" r="3.8"/><circle cx="457.9" cy="509.6" r="3.8"/><circle cx="411.3" cy="459.2" r="3.8"/><circle cx="477.0" cy="512.3" r="3.8"/><circle cx="456.9" cy="384.9" r="3.8"/><circle cx="442.4" cy="528.5" r="3.8"/><circle cx="455.2" cy="497.6" r="3.8"/><circle cx="440.1" cy="403.1" r="3.8"/><circle cx="464.1" cy="419.1" r="3.8"/><circle cx="420.0" cy="498.4" r="3.8"/><circle cx="427.5" cy="378.6" r="3.8"/><circle cx="408.5" cy="515.0" r="3.8"/><circle cx="480.8" cy="518.0" r="3.8"/><circle cx="426.3" cy="431.7" r="3.8"/><circle cx="457.6" cy="492.2" r="3.8"/><circle cx="402.2" cy="406.3" r="3.8"/><circle cx="422.4" cy="372.1" r="3.8"/><circle cx="456.2" cy="398.5" r="3.8"/><circle cx="389.1" cy="476.0" r="3.8"/><circle cx="474.4" cy="462.2" r="3.8"/><circle cx="460.1" cy="450.3" r="3.8"/><circle cx="476.5" cy="572.9" r="3.8"/><circle cx="455.5" cy="528.0" r="3.8"/><circle cx="478.9" cy="417.3" r="3.8"/><circle cx="440.3" cy="567.6" r="3.8"/><circle cx="444.2" cy="543.5" r="3.8"/><circle cx="457.6" cy="371.1" r="3.8"/><circle cx="392.0" cy="493.1" r="3.8"/><circle cx="451.1" cy="364.9" r="3.8"/><circle cx="485.4" cy="478.2" r="3.8"/><circle cx="460.8" cy="367.4" r="3.8"/><circle cx="486.0" cy="551.9" r="3.8"/><circle cx="488.2" cy="564.0" r="3.8"/><circle cx="395.7" cy="450.5" r="3.8"/><circle cx="458.5" cy="439.5" r="3.8"/><circle cx="471.3" cy="472.1" r="3.8"/><circle cx="343.2" cy="479.2" r="3.8"/><circle cx="426.8" cy="522.5" r="3.8"/><circle cx="412.6" cy="466.4" r="3.8"/><circle cx="461.4" cy="346.8" r="3.8"/><circle cx="479.2" cy="547.0" r="3.8"/><circle cx="453.8" cy="389.4" r="3.8"/><circle cx="482.9" cy="448.6" r="3.8"/><circle cx="500.4" cy="551.2" r="3.8"/><circle cx="443.6" cy="422.0" r="3.8"/><circle cx="430.3" cy="454.2" r="3.8"/><circle cx="465.2" cy="409.6" r="3.8"/><circle cx="477.2" cy="534.8" r="3.8"/><circle cx="496.4" cy="572.2" r="3.8"/><circle cx="439.7" cy="398.9" r="3.8"/><circle cx="477.7" cy="503.3" r="3.8"/><circle cx="447.8" cy="563.6" r="3.8"/><circle cx="432.7" cy="496.9" r="3.8"/><circle cx="439.6" cy="392.9" r="3.8"/><circle cx="431.1" cy="403.9" r="3.8"/><circle cx="457.5" cy="399.1" r="3.8"/><circle cx="445.1" cy="405.0" r="3.8"/><circle cx="407.7" cy="423.6" r="3.8"/><circle cx="431.2" cy="496.6" r="3.8"/><circle cx="437.6" cy="434.3" r="3.8"/><circle cx="473.9" cy="438.2" r="3.8"/><circle cx="436.4" cy="403.5" r="3.8"/><circle cx="476.7" cy="497.4" r="3.8"/><circle cx="467.6" cy="479.4" r="3.8"/><circle cx="471.4" cy="569.2" r="3.8"/><circle cx="427.4" cy="567.5" r="3.8"/><circle cx="403.3" cy="339.4" r="3.8"/><circle cx="499.0" cy="534.5" r="3.8"/><circle cx="398.3" cy="416.9" r="3.8"/><circle cx="338.6" cy="459.6" r="3.8"/><circle cx="392.2" cy="462.2" r="3.8"/><circle cx="415.7" cy="356.8" r="3.8"/><circle cx="427.5" cy="474.4" r="3.8"/><circle cx="420.3" cy="497.7" r="3.8"/><circle cx="458.6" cy="373.0" r="3.8"/><circle cx="460.6" cy="356.7" r="3.8"/><circle cx="487.9" cy="534.2" r="3.8"/><circle cx="442.9" cy="457.7" r="3.8"/><circle cx="457.8" cy="506.6" r="3.8"/><circle cx="436.4" cy="501.5" r="3.8"/><circle cx="462.8" cy="401.1" r="3.8"/><circle cx="477.6" cy="460.1" r="3.8"/><circle cx="406.4" cy="354.9" r="3.8"/><circle cx="474.4" cy="421.4" r="3.8"/><circle cx="413.4" cy="435.0" r="3.8"/><circle cx="466.9" cy="405.5" r="3.8"/><circle cx="471.3" cy="564.9" r="3.8"/><circle cx="447.8" cy="575.3" r="3.8"/><circle cx="447.9" cy="471.8" r="3.8"/><circle cx="460.7" cy="462.0" r="3.8"/><circle cx="456.8" cy="428.5" r="3.8"/><circle cx="477.1" cy="501.5" r="3.8"/><circle cx="478.9" cy="473.9" r="3.8"/><circle cx="463.4" cy="545.5" r="3.8"/><circle cx="478.9" cy="527.3" r="3.8"/><circle cx="435.5" cy="441.6" r="3.8"/><circle cx="457.4" cy="423.2" r="3.8"/><circle cx="382.4" cy="456.7" r="3.8"/><circle cx="396.5" cy="436.9" r="3.8"/><circle cx="490.2" cy="519.1" r="3.8"/><circle cx="385.9" cy="373.3" r="3.8"/><circle cx="489.3" cy="571.0" r="3.8"/><circle cx="402.8" cy="501.7" r="3.8"/><circle cx="475.0" cy="463.2" r="3.8"/><circle cx="420.3" cy="466.3" r="3.8"/><circle cx="444.0" cy="493.8" r="3.8"/><circle cx="497.8" cy="546.1" r="3.8"/><circle cx="388.1" cy="477.6" r="3.8"/><circle cx="442.3" cy="568.3" r="3.8"/><circle cx="409.7" cy="379.2" r="3.8"/><circle cx="468.6" cy="459.0" r="3.8"/><circle cx="455.2" cy="519.8" r="3.8"/><circle cx="471.4" cy="447.1" r="3.8"/><circle cx="483.8" cy="509.5" r="3.8"/><circle cx="488.8" cy="486.3" r="3.8"/><circle cx="388.5" cy="455.9" r="3.8"/><circle cx="477.7" cy="451.1" r="3.8"/><circle cx="439.2" cy="389.8" r="3.8"/><circle cx="439.9" cy="468.8" r="3.8"/><circle cx="443.2" cy="449.4" r="3.8"/><circle cx="361.5" cy="402.2" r="3.8"/><circle cx="494.4" cy="548.1" r="3.8"/><circle cx="482.8" cy="471.4" r="3.8"/><circle cx="492.2" cy="561.9" r="3.8"/><circle cx="476.3" cy="515.1" r="3.8"/><circle cx="449.2" cy="502.3" r="3.8"/><circle cx="393.5" cy="445.6" r="3.8"/><circle cx="440.6" cy="508.3" r="3.8"/><circle cx="460.7" cy="474.0" r="3.8"/><circle cx="463.1" cy="520.4" r="3.8"/><circle cx="426.6" cy="496.0" r="3.8"/><circle cx="431.5" cy="503.9" r="3.8"/><circle cx="457.5" cy="549.7" r="3.8"/><circle cx="457.6" cy="549.3" r="3.8"/><circle cx="484.5" cy="468.9" r="3.8"/><circle cx="440.5" cy="398.2" r="3.8"/><circle cx="428.4" cy="509.0" r="3.8"/><circle cx="467.8" cy="500.9" r="3.8"/><circle cx="356.6" cy="529.5" r="3.8"/><circle cx="428.2" cy="433.6" r="3.8"/><circle cx="424.7" cy="433.4" r="3.8"/><circle cx="486.5" cy="525.3" r="3.8"/><circle cx="473.0" cy="466.7" r="3.8"/><circle cx="471.8" cy="398.4" r="3.8"/><circle cx="471.7" cy="489.8" r="3.8"/><circle cx="455.1" cy="531.6" r="3.8"/><circle cx="430.7" cy="444.2" r="3.8"/><circle cx="444.6" cy="423.0" r="3.8"/><circle cx="429.1" cy="428.3" r="3.8"/><circle cx="438.8" cy="364.7" r="3.8"/><circle cx="433.6" cy="443.3" r="3.8"/><circle cx="398.3" cy="459.7" r="3.8"/><circle cx="385.1" cy="502.2" r="3.8"/><circle cx="442.4" cy="567.8" r="3.8"/><circle cx="439.2" cy="471.6" r="3.8"/><circle cx="486.6" cy="519.3" r="3.8"/><circle cx="447.1" cy="533.4" r="3.8"/><circle cx="436.4" cy="470.6" r="3.8"/><circle cx="469.2" cy="534.7" r="3.8"/><circle cx="426.4" cy="540.7" r="3.8"/><circle cx="466.0" cy="574.2" r="3.8"/><circle cx="455.7" cy="542.3" r="3.8"/><circle cx="418.5" cy="536.1" r="3.8"/><circle cx="441.1" cy="515.8" r="3.8"/><circle cx="408.0" cy="384.2" r="3.8"/><circle cx="483.1" cy="562.2" r="3.8"/><circle cx="474.9" cy="487.7" r="3.8"/><circle cx="488.6" cy="570.3" r="3.8"/><circle cx="371.5" cy="474.2" r="3.8"/><circle cx="468.3" cy="536.6" r="3.8"/><circle cx="467.5" cy="527.8" r="3.8"/><circle cx="379.7" cy="422.4" r="3.8"/><circle cx="438.7" cy="452.7" r="3.8"/><circle cx="473.4" cy="560.9" r="3.8"/><circle cx="421.9" cy="487.0" r="3.8"/><circle cx="401.1" cy="442.1" r="3.8"/><circle cx="463.5" cy="561.8" r="3.8"/><circle cx="470.3" cy="541.3" r="3.8"/><circle cx="412.8" cy="474.0" r="3.8"/><circle cx="357.3" cy="392.3" r="3.8"/><circle cx="462.3" cy="471.1" r="3.8"/><circle cx="425.5" cy="496.9" r="3.8"/><circle cx="464.4" cy="516.6" r="3.8"/><circle cx="412.1" cy="371.2" r="3.8"/><circle cx="388.3" cy="471.5" r="3.8"/><circle cx="434.3" cy="415.6" r="3.8"/><circle cx="404.6" cy="349.6" r="3.8"/><circle cx="473.6" cy="429.7" r="3.8"/><circle cx="440.8" cy="394.8" r="3.8"/><circle cx="419.1" cy="403.1" r="3.8"/><circle cx="458.6" cy="491.7" r="3.8"/><circle cx="420.0" cy="420.5" r="3.8"/><circle cx="482.2" cy="526.6" r="3.8"/><circle cx="435.4" cy="413.2" r="3.8"/><circle cx="471.6" cy="456.1" r="3.8"/><circle cx="431.1" cy="502.3" r="3.8"/><circle cx="426.8" cy="519.1" r="3.8"/><circle cx="368.8" cy="453.7" r="3.8"/><circle cx="476.6" cy="568.7" r="3.8"/><circle cx="425.9" cy="427.7" r="3.8"/><circle cx="478.8" cy="441.3" r="3.8"/><circle cx="468.3" cy="545.4" r="3.8"/><circle cx="428.8" cy="436.7" r="3.8"/><circle cx="484.4" cy="551.3" r="3.8"/><circle cx="476.3" cy="445.4" r="3.8"/><circle cx="444.8" cy="431.1" r="3.8"/><circle cx="393.0" cy="505.8" r="3.8"/><circle cx="420.3" cy="521.6" r="3.8"/><circle cx="442.3" cy="554.7" r="3.8"/><circle cx="425.2" cy="445.0" r="3.8"/><circle cx="479.6" cy="515.0" r="3.8"/><circle cx="478.3" cy="573.9" r="3.8"/><circle cx="473.5" cy="503.1" r="3.8"/><circle cx="485.2" cy="512.7" r="3.8"/><circle cx="478.9" cy="563.0" r="3.8"/><circle cx="431.6" cy="565.9" r="3.8"/><circle cx="476.8" cy="439.2" r="3.8"/><circle cx="421.4" cy="509.2" r="3.8"/><circle cx="474.6" cy="414.4" r="3.8"/><circle cx="492.2" cy="514.1" r="3.8"/><circle cx="474.3" cy="438.0" r="3.8"/><circle cx="427.4" cy="540.4" r="3.8"/><circle cx="458.4" cy="450.4" r="3.8"/><circle cx="459.8" cy="558.3" r="3.8"/><circle cx="416.8" cy="396.1" r="3.8"/><circle cx="435.4" cy="513.7" r="3.8"/><circle cx="428.6" cy="451.1" r="3.8"/><circle cx="415.0" cy="446.7" r="3.8"/><circle cx="419.9" cy="419.5" r="3.8"/><circle cx="429.0" cy="361.5" r="3.8"/><circle cx="448.7" cy="505.9" r="3.8"/><circle cx="452.2" cy="421.4" r="3.8"/><circle cx="454.3" cy="564.3" r="3.8"/><circle cx="424.1" cy="489.3" r="3.8"/><circle cx="433.2" cy="570.5" r="3.8"/><circle cx="478.0" cy="419.9" r="3.8"/><circle cx="469.2" cy="464.1" r="3.8"/><circle cx="387.6" cy="477.5" r="3.8"/><circle cx="462.0" cy="566.3" r="3.8"/><circle cx="417.2" cy="477.0" r="3.8"/><circle cx="456.6" cy="515.9" r="3.8"/><circle cx="478.0" cy="458.0" r="3.8"/><circle cx="471.8" cy="498.0" r="3.8"/><circle cx="453.8" cy="505.1" r="3.8"/><circle cx="473.9" cy="572.1" r="3.8"/><circle cx="461.6" cy="503.5" r="3.8"/><circle cx="434.8" cy="485.8" r="3.8"/><circle cx="473.5" cy="519.1" r="3.8"/><circle cx="426.4" cy="452.3" r="3.8"/><circle cx="406.1" cy="541.7" r="3.8"/><circle cx="474.2" cy="456.2" r="3.8"/><circle cx="427.0" cy="552.6" r="3.8"/><circle cx="469.4" cy="414.4" r="3.8"/><circle cx="384.3" cy="555.9" r="3.8"/><circle cx="453.7" cy="436.5" r="3.8"/><circle cx="364.6" cy="343.6" r="3.8"/><circle cx="482.2" cy="552.0" r="3.8"/><circle cx="483.4" cy="479.1" r="3.8"/><circle cx="488.2" cy="494.4" r="3.8"/><circle cx="459.8" cy="401.2" r="3.8"/><circle cx="445.5" cy="523.1" r="3.8"/><circle cx="467.5" cy="466.9" r="3.8"/><circle cx="446.0" cy="526.9" r="3.8"/><circle cx="395.9" cy="418.4" r="3.8"/><circle cx="481.1" cy="445.8" r="3.8"/><circle cx="404.3" cy="559.1" r="3.8"/><circle cx="466.9" cy="552.8" r="3.8"/><circle cx="401.8" cy="486.0" r="3.8"/><circle cx="464.9" cy="403.8" r="3.8"/></g>
<g fill="#FF3030"><circle cx="562.2" cy="246.5" r="3.7"/><circle cx="569.5" cy="245.5" r="3.7"/><circle cx="568.2" cy="274.2" r="3.7"/><circle cx="561.5" cy="284.5" r="3.7"/><circle cx="563.5" cy="300.0" r="3.7"/><circle cx="553.0" cy="309.0" r="3.7"/><circle cx="565.8" cy="310.0" r="3.7"/><circle cx="555.8" cy="319.0" r="3.7"/><circle cx="567.5" cy="320.0" r="3.7"/><circle cx="551.5" cy="332.0" r="3.7"/><circle cx="545.8" cy="335.0" r="3.7"/><circle cx="568.2" cy="332.5" r="3.7"/><circle cx="640.5" cy="27.5" r="3.7"/><circle cx="693.5" cy="35.2" r="3.7"/><circle cx="663.2" cy="59.2" r="3.7"/><circle cx="590.2" cy="94.5" r="3.7"/><circle cx="661.8" cy="100.2" r="3.7"/><circle cx="729.8" cy="93.2" r="3.7"/><circle cx="748.2" cy="100.0" r="3.7"/><circle cx="794.8" cy="103.8" r="3.7"/><circle cx="653.2" cy="113.0" r="3.7"/><circle cx="715.2" cy="120.8" r="3.7"/><circle cx="643.8" cy="124.2" r="3.7"/><circle cx="650.5" cy="131.2" r="3.7"/><circle cx="700.5" cy="136.2" r="3.7"/><circle cx="741.5" cy="134.0" r="3.7"/><circle cx="765.2" cy="135.2" r="3.7"/><circle cx="590.2" cy="143.8" r="3.7"/><circle cx="608.5" cy="148.8" r="3.7"/><circle cx="652.0" cy="148.2" r="3.7"/><circle cx="670.8" cy="155.0" r="3.7"/><circle cx="672.5" cy="158.8" r="3.7"/><circle cx="679.5" cy="153.0" r="3.7"/><circle cx="641.2" cy="162.8" r="3.7"/><circle cx="769.0" cy="160.2" r="3.7"/><circle cx="785.2" cy="160.5" r="3.7"/><circle cx="710.8" cy="167.0" r="3.7"/><circle cx="694.8" cy="170.2" r="3.7"/><circle cx="707.0" cy="174.2" r="3.7"/><circle cx="673.2" cy="172.0" r="3.7"/><circle cx="645.5" cy="173.8" r="3.7"/><circle cx="620.8" cy="179.0" r="3.7"/><circle cx="632.0" cy="185.5" r="3.7"/><circle cx="686.2" cy="185.5" r="3.7"/><circle cx="691.8" cy="186.2" r="3.7"/><circle cx="795.8" cy="182.0" r="3.7"/><circle cx="805.8" cy="22.5" r="3.7"/><circle cx="877.0" cy="14.5" r="3.7"/><circle cx="854.5" cy="33.5" r="3.7"/><circle cx="863.0" cy="107.5" r="3.7"/><circle cx="899.2" cy="137.0" r="3.7"/><circle cx="849.0" cy="149.5" r="3.7"/><circle cx="714.8" cy="190.5" r="3.7"/><circle cx="703.8" cy="198.8" r="3.7"/><circle cx="736.8" cy="199.0" r="3.7"/><circle cx="703.0" cy="215.8" r="3.7"/><circle cx="714.2" cy="215.8" r="3.7"/><circle cx="701.0" cy="238.8" r="3.7"/><circle cx="698.0" cy="249.8" r="3.7"/><circle cx="699.2" cy="261.0" r="3.7"/><circle cx="712.5" cy="265.2" r="3.7"/><circle cx="786.8" cy="208.2" r="3.7"/><circle cx="779.2" cy="217.2" r="3.7"/><circle cx="842.2" cy="219.8" r="3.7"/><circle cx="842.0" cy="226.2" r="3.7"/><circle cx="912.5" cy="203.0" r="3.7"/><circle cx="789.0" cy="243.5" r="3.7"/><circle cx="771.8" cy="276.5" r="3.7"/><circle cx="807.5" cy="284.5" r="3.7"/><circle cx="709.2" cy="284.8" r="3.7"/><circle cx="719.2" cy="282.8" r="3.7"/><circle cx="735.2" cy="287.8" r="3.7"/><circle cx="699.2" cy="292.8" r="3.7"/><circle cx="708.5" cy="295.5" r="3.7"/><circle cx="713.0" cy="294.8" r="3.7"/><circle cx="716.8" cy="295.0" r="3.7"/><circle cx="703.5" cy="302.8" r="3.7"/><circle cx="756.2" cy="298.2" r="3.7"/><circle cx="765.5" cy="305.8" r="3.7"/><circle cx="778.0" cy="306.8" r="3.7"/><circle cx="718.8" cy="319.0" r="3.7"/><circle cx="716.2" cy="323.5" r="3.7"/><circle cx="715.0" cy="332.0" r="3.7"/><circle cx="741.2" cy="325.5" r="3.7"/><circle cx="761.2" cy="329.2" r="3.7"/><circle cx="779.2" cy="322.2" r="3.7"/><circle cx="782.5" cy="329.5" r="3.7"/><circle cx="698.0" cy="342.2" r="3.7"/><circle cx="706.5" cy="343.5" r="3.7"/><circle cx="714.5" cy="350.8" r="3.7"/><circle cx="698.0" cy="349.8" r="3.7"/><circle cx="729.8" cy="349.8" r="3.7"/><circle cx="726.2" cy="356.0" r="3.7"/><circle cx="728.5" cy="358.0" r="3.7"/><circle cx="754.8" cy="363.2" r="3.7"/><circle cx="721.5" cy="366.2" r="3.7"/><circle cx="700.5" cy="371.5" r="3.7"/><circle cx="698.0" cy="387.5" r="3.7"/><circle cx="724.8" cy="386.8" r="3.7"/><circle cx="766.0" cy="396.5" r="3.7"/><circle cx="698.8" cy="424.5" r="3.7"/><circle cx="699.2" cy="430.0" r="3.7"/><circle cx="724.5" cy="429.8" r="3.7"/><circle cx="713.5" cy="437.2" r="3.7"/><circle cx="732.2" cy="441.2" r="3.7"/><circle cx="709.5" cy="474.5" r="3.7"/><circle cx="598.8" cy="192.9" r="3.7"/><circle cx="607.8" cy="195.9" r="3.7"/><circle cx="608.9" cy="203.1" r="3.7"/><circle cx="623.5" cy="195.9" r="3.7"/><circle cx="634.0" cy="195.6" r="3.7"/><circle cx="635.2" cy="198.6" r="3.7"/><circle cx="632.2" cy="203.8" r="3.7"/><circle cx="645.7" cy="202.3" r="3.7"/><circle cx="650.2" cy="200.8" r="3.7"/><circle cx="668.6" cy="196.0" r="3.7"/><circle cx="681.8" cy="204.9" r="3.7"/><circle cx="694.3" cy="208.8" r="3.7"/><circle cx="699.8" cy="215.1" r="3.7"/><circle cx="581.8" cy="213.3" r="3.7"/><circle cx="589.3" cy="214.1" r="3.7"/><circle cx="592.3" cy="218.9" r="3.7"/><circle cx="597.6" cy="218.9" r="3.7"/><circle cx="602.9" cy="216.6" r="3.7"/><circle cx="605.1" cy="213.3" r="3.7"/><circle cx="631.9" cy="214.4" r="3.7"/><circle cx="635.2" cy="218.9" r="3.7"/><circle cx="661.7" cy="214.1" r="3.7"/><circle cx="655.8" cy="226.4" r="3.7"/><circle cx="676.8" cy="230.9" r="3.7"/><circle cx="618.6" cy="223.4" r="3.7"/><circle cx="623.2" cy="226.4" r="3.7"/><circle cx="626.9" cy="227.1" r="3.7"/><circle cx="609.6" cy="228.6" r="3.7"/><circle cx="612.6" cy="230.2" r="3.7"/><circle cx="603.6" cy="236.9" r="3.7"/><circle cx="608.1" cy="233.2" r="3.7"/><circle cx="636.7" cy="228.6" r="3.7"/><circle cx="626.2" cy="236.2" r="3.7"/><circle cx="632.2" cy="236.2" r="3.7"/><circle cx="637.4" cy="238.4" r="3.7"/><circle cx="635.9" cy="243.7" r="3.7"/><circle cx="618.6" cy="239.9" r="3.7"/><circle cx="611.9" cy="243.7" r="3.7"/><circle cx="614.1" cy="249.7" r="3.7"/><circle cx="654.7" cy="240.7" r="3.7"/><circle cx="656.2" cy="245.2" r="3.7"/><circle cx="663.8" cy="239.2" r="3.7"/><circle cx="667.5" cy="241.9" r="3.7"/><circle cx="662.3" cy="248.9" r="3.7"/><circle cx="657.0" cy="255.0" r="3.7"/><circle cx="687.1" cy="236.9" r="3.7"/><circle cx="687.1" cy="243.7" r="3.7"/><circle cx="698.3" cy="239.2" r="3.7"/><circle cx="689.3" cy="255.4" r="3.7"/><circle cx="572.3" cy="245.6" r="3.7"/><circle cx="576.5" cy="258.4" r="3.7"/><circle cx="584.8" cy="256.0" r="3.7"/><circle cx="592.3" cy="257.2" r="3.7"/><circle cx="593.1" cy="261.0" r="3.7"/><circle cx="604.7" cy="253.9" r="3.7"/><circle cx="608.1" cy="261.0" r="3.7"/><circle cx="628.4" cy="253.2" r="3.7"/><circle cx="621.7" cy="256.5" r="3.7"/><circle cx="623.2" cy="261.7" r="3.7"/><circle cx="614.1" cy="268.5" r="3.7"/><circle cx="621.7" cy="267.7" r="3.7"/><circle cx="627.7" cy="270.0" r="3.7"/><circle cx="637.4" cy="261.7" r="3.7"/><circle cx="641.2" cy="266.2" r="3.7"/><circle cx="632.2" cy="266.2" r="3.7"/><circle cx="669.8" cy="264.0" r="3.7"/><circle cx="672.0" cy="269.2" r="3.7"/><circle cx="679.2" cy="267.4" r="3.7"/><circle cx="687.8" cy="271.1" r="3.7"/><circle cx="649.8" cy="278.3" r="3.7"/><circle cx="674.3" cy="280.5" r="3.7"/><circle cx="579.5" cy="272.3" r="3.7"/><circle cx="575.0" cy="278.3" r="3.7"/><circle cx="598.3" cy="270.8" r="3.7"/><circle cx="600.6" cy="275.3" r="3.7"/><circle cx="606.6" cy="277.5" r="3.7"/><circle cx="594.6" cy="273.8" r="3.7"/><circle cx="623.2" cy="276.8" r="3.7"/><circle cx="632.2" cy="278.3" r="3.7"/><circle cx="638.2" cy="279.8" r="3.7"/><circle cx="615.6" cy="565.3" r="3.7"/><circle cx="567.9" cy="346.3" r="3.7"/><circle cx="549.3" cy="543.4" r="3.7"/><circle cx="546.2" cy="408.6" r="3.7"/><circle cx="543.0" cy="474.2" r="3.7"/><circle cx="525.1" cy="541.1" r="3.7"/><circle cx="563.0" cy="494.0" r="3.7"/><circle cx="588.3" cy="541.8" r="3.7"/><circle cx="580.3" cy="335.5" r="3.7"/><circle cx="559.4" cy="432.5" r="3.7"/><circle cx="617.1" cy="421.8" r="3.7"/><circle cx="569.8" cy="511.0" r="3.7"/><circle cx="587.8" cy="295.5" r="3.7"/><circle cx="551.0" cy="437.3" r="3.7"/><circle cx="556.4" cy="416.8" r="3.7"/><circle cx="578.8" cy="390.8" r="3.7"/><circle cx="558.1" cy="367.5" r="3.7"/><circle cx="594.3" cy="347.7" r="3.7"/><circle cx="544.2" cy="535.4" r="3.7"/><circle cx="600.3" cy="420.2" r="3.7"/><circle cx="533.3" cy="575.4" r="3.7"/><circle cx="565.8" cy="344.5" r="3.7"/><circle cx="560.7" cy="426.2" r="3.7"/><circle cx="583.3" cy="457.1" r="3.7"/><circle cx="563.3" cy="330.0" r="3.7"/><circle cx="531.8" cy="507.8" r="3.7"/><circle cx="628.9" cy="346.5" r="3.7"/><circle cx="608.7" cy="470.2" r="3.7"/><circle cx="557.4" cy="509.8" r="3.7"/><circle cx="528.2" cy="481.8" r="3.7"/><circle cx="529.3" cy="476.5" r="3.7"/><circle cx="602.0" cy="531.3" r="3.7"/><circle cx="579.8" cy="508.3" r="3.7"/><circle cx="592.9" cy="350.3" r="3.7"/><circle cx="570.5" cy="537.2" r="3.7"/><circle cx="589.0" cy="556.6" r="3.7"/><circle cx="575.3" cy="564.5" r="3.7"/><circle cx="538.6" cy="519.7" r="3.7"/><circle cx="579.8" cy="434.8" r="3.7"/><circle cx="554.3" cy="484.0" r="3.7"/><circle cx="606.2" cy="375.1" r="3.7"/><circle cx="568.5" cy="433.6" r="3.7"/><circle cx="571.3" cy="298.9" r="3.7"/><circle cx="568.0" cy="529.1" r="3.7"/><circle cx="576.8" cy="522.3" r="3.7"/><circle cx="569.8" cy="446.3" r="3.7"/><circle cx="538.1" cy="489.9" r="3.7"/><circle cx="574.7" cy="561.8" r="3.7"/><circle cx="545.6" cy="361.0" r="3.7"/><circle cx="556.0" cy="492.6" r="3.7"/><circle cx="542.5" cy="402.8" r="3.7"/><circle cx="564.1" cy="380.4" r="3.7"/><circle cx="554.0" cy="530.8" r="3.7"/><circle cx="558.6" cy="506.4" r="3.7"/><circle cx="545.8" cy="463.2" r="3.7"/><circle cx="586.5" cy="429.0" r="3.7"/><circle cx="585.6" cy="457.1" r="3.7"/><circle cx="598.2" cy="509.9" r="3.7"/><circle cx="579.6" cy="546.4" r="3.7"/><circle cx="563.8" cy="533.8" r="3.7"/><circle cx="586.4" cy="366.1" r="3.7"/><circle cx="548.0" cy="426.8" r="3.7"/><circle cx="546.8" cy="565.5" r="3.7"/><circle cx="574.6" cy="331.4" r="3.7"/><circle cx="629.8" cy="321.4" r="3.7"/><circle cx="590.0" cy="496.9" r="3.7"/><circle cx="656.6" cy="314.0" r="3.7"/><circle cx="576.3" cy="310.5" r="3.7"/><circle cx="538.5" cy="417.5" r="3.7"/><circle cx="590.5" cy="438.0" r="3.7"/><circle cx="584.1" cy="451.1" r="3.7"/><circle cx="562.1" cy="404.7" r="3.7"/><circle cx="534.8" cy="421.5" r="3.7"/><circle cx="646.9" cy="430.0" r="3.7"/><circle cx="584.1" cy="568.4" r="3.7"/><circle cx="583.0" cy="369.5" r="3.7"/><circle cx="584.9" cy="370.1" r="3.7"/><circle cx="589.6" cy="563.5" r="3.7"/><circle cx="534.3" cy="490.3" r="3.7"/><circle cx="571.1" cy="562.1" r="3.7"/><circle cx="554.7" cy="438.0" r="3.7"/><circle cx="591.2" cy="524.8" r="3.7"/><circle cx="569.4" cy="377.5" r="3.7"/><circle cx="567.8" cy="548.5" r="3.7"/><circle cx="589.1" cy="405.1" r="3.7"/><circle cx="545.8" cy="478.2" r="3.7"/><circle cx="583.3" cy="402.2" r="3.7"/><circle cx="584.1" cy="297.1" r="3.7"/><circle cx="543.3" cy="386.7" r="3.7"/><circle cx="534.9" cy="568.0" r="3.7"/><circle cx="541.5" cy="487.4" r="3.7"/><circle cx="536.7" cy="410.5" r="3.7"/><circle cx="539.2" cy="429.0" r="3.7"/><circle cx="573.8" cy="427.5" r="3.7"/><circle cx="560.5" cy="564.6" r="3.7"/><circle cx="593.8" cy="514.4" r="3.7"/><circle cx="537.3" cy="450.9" r="3.7"/><circle cx="538.3" cy="414.2" r="3.7"/><circle cx="649.5" cy="380.0" r="3.7"/><circle cx="622.9" cy="382.6" r="3.7"/><circle cx="544.4" cy="437.0" r="3.7"/><circle cx="549.9" cy="423.0" r="3.7"/><circle cx="594.2" cy="423.9" r="3.7"/><circle cx="683.7" cy="344.9" r="3.7"/><circle cx="593.3" cy="535.1" r="3.7"/><circle cx="546.6" cy="485.9" r="3.7"/><circle cx="549.5" cy="489.4" r="3.7"/><circle cx="562.3" cy="541.8" r="3.7"/><circle cx="556.6" cy="536.7" r="3.7"/><circle cx="566.2" cy="430.3" r="3.7"/><circle cx="555.0" cy="470.2" r="3.7"/><circle cx="590.4" cy="483.9" r="3.7"/><circle cx="555.5" cy="439.6" r="3.7"/><circle cx="542.3" cy="427.9" r="3.7"/><circle cx="562.5" cy="477.3" r="3.7"/><circle cx="617.5" cy="366.0" r="3.7"/><circle cx="562.0" cy="381.4" r="3.7"/><circle cx="535.4" cy="415.0" r="3.7"/><circle cx="579.7" cy="390.0" r="3.7"/><circle cx="592.7" cy="474.6" r="3.7"/><circle cx="546.8" cy="510.3" r="3.7"/><circle cx="573.2" cy="455.7" r="3.7"/><circle cx="573.2" cy="456.4" r="3.7"/><circle cx="569.6" cy="392.4" r="3.7"/><circle cx="582.2" cy="508.9" r="3.7"/><circle cx="621.1" cy="347.1" r="3.7"/><circle cx="569.8" cy="414.5" r="3.7"/><circle cx="547.2" cy="559.3" r="3.7"/><circle cx="605.5" cy="312.2" r="3.7"/><circle cx="569.7" cy="432.3" r="3.7"/><circle cx="567.2" cy="482.2" r="3.7"/><circle cx="524.8" cy="525.5" r="3.7"/><circle cx="583.2" cy="519.7" r="3.7"/><circle cx="548.5" cy="435.4" r="3.7"/><circle cx="574.7" cy="569.6" r="3.7"/><circle cx="601.3" cy="354.6" r="3.7"/><circle cx="563.6" cy="394.9" r="3.7"/><circle cx="584.0" cy="539.8" r="3.7"/><circle cx="537.1" cy="448.0" r="3.7"/><circle cx="610.1" cy="433.6" r="3.7"/><circle cx="574.5" cy="471.8" r="3.7"/><circle cx="668.4" cy="319.3" r="3.7"/><circle cx="585.4" cy="557.9" r="3.7"/><circle cx="556.1" cy="549.7" r="3.7"/><circle cx="537.7" cy="538.9" r="3.7"/><circle cx="571.1" cy="499.7" r="3.7"/><circle cx="579.9" cy="569.2" r="3.7"/><circle cx="554.8" cy="348.9" r="3.7"/><circle cx="592.0" cy="556.6" r="3.7"/><circle cx="572.0" cy="371.3" r="3.7"/><circle cx="555.7" cy="521.6" r="3.7"/><circle cx="551.6" cy="534.1" r="3.7"/><circle cx="554.0" cy="501.9" r="3.7"/><circle cx="524.0" cy="538.0" r="3.7"/><circle cx="572.5" cy="416.2" r="3.7"/><circle cx="568.5" cy="470.6" r="3.7"/><circle cx="583.2" cy="507.8" r="3.7"/><circle cx="593.0" cy="336.0" r="3.7"/><circle cx="543.7" cy="544.8" r="3.7"/><circle cx="585.4" cy="449.7" r="3.7"/><circle cx="530.0" cy="480.9" r="3.7"/><circle cx="575.8" cy="491.7" r="3.7"/><circle cx="547.6" cy="563.3" r="3.7"/><circle cx="543.9" cy="556.0" r="3.7"/><circle cx="554.7" cy="555.3" r="3.7"/><circle cx="573.6" cy="440.2" r="3.7"/><circle cx="576.0" cy="351.9" r="3.7"/><circle cx="551.4" cy="473.8" r="3.7"/><circle cx="605.9" cy="305.3" r="3.7"/><circle cx="556.9" cy="436.1" r="3.7"/><circle cx="582.3" cy="374.7" r="3.7"/><circle cx="559.0" cy="478.6" r="3.7"/><circle cx="562.1" cy="474.9" r="3.7"/><circle cx="580.8" cy="508.1" r="3.7"/><circle cx="562.9" cy="516.2" r="3.7"/><circle cx="586.1" cy="321.1" r="3.7"/><circle cx="572.3" cy="427.2" r="3.7"/><circle cx="607.0" cy="462.7" r="3.7"/><circle cx="553.6" cy="474.9" r="3.7"/><circle cx="542.8" cy="529.5" r="3.7"/><circle cx="576.1" cy="542.1" r="3.7"/><circle cx="584.9" cy="390.9" r="3.7"/><circle cx="565.5" cy="408.5" r="3.7"/><circle cx="540.8" cy="519.5" r="3.7"/><circle cx="548.6" cy="363.1" r="3.7"/><circle cx="560.4" cy="495.6" r="3.7"/><circle cx="611.6" cy="413.8" r="3.7"/><circle cx="556.8" cy="484.4" r="3.7"/><circle cx="627.3" cy="304.7" r="3.7"/><circle cx="613.9" cy="451.8" r="3.7"/><circle cx="580.6" cy="430.6" r="3.7"/><circle cx="621.5" cy="353.9" r="3.7"/><circle cx="647.5" cy="479.7" r="3.7"/><circle cx="576.5" cy="426.7" r="3.7"/><circle cx="598.4" cy="442.4" r="3.7"/><circle cx="566.8" cy="356.5" r="3.7"/><circle cx="573.9" cy="363.4" r="3.7"/><circle cx="550.0" cy="448.8" r="3.7"/><circle cx="559.9" cy="441.8" r="3.7"/><circle cx="606.1" cy="356.7" r="3.7"/><circle cx="622.4" cy="315.2" r="3.7"/><circle cx="557.8" cy="534.8" r="3.7"/><circle cx="540.5" cy="488.8" r="3.7"/><circle cx="580.2" cy="365.2" r="3.7"/><circle cx="566.8" cy="347.2" r="3.7"/><circle cx="582.0" cy="389.0" r="3.7"/><circle cx="555.5" cy="519.3" r="3.7"/><circle cx="587.8" cy="560.4" r="3.7"/><circle cx="560.1" cy="362.4" r="3.7"/><circle cx="583.3" cy="516.4" r="3.7"/><circle cx="590.5" cy="510.5" r="3.7"/><circle cx="562.5" cy="415.6" r="3.7"/><circle cx="623.5" cy="477.3" r="3.7"/><circle cx="577.6" cy="484.1" r="3.7"/><circle cx="604.6" cy="406.6" r="3.7"/><circle cx="612.4" cy="499.8" r="3.7"/><circle cx="560.2" cy="354.7" r="3.7"/><circle cx="592.2" cy="428.7" r="3.7"/><circle cx="593.0" cy="291.8" r="3.7"/><circle cx="562.6" cy="319.4" r="3.7"/><circle cx="529.9" cy="520.5" r="3.7"/><circle cx="574.6" cy="555.4" r="3.7"/><circle cx="579.1" cy="530.8" r="3.7"/><circle cx="559.8" cy="410.2" r="3.7"/><circle cx="572.5" cy="551.7" r="3.7"/><circle cx="550.3" cy="363.3" r="3.7"/><circle cx="574.4" cy="357.2" r="3.7"/><circle cx="571.4" cy="556.5" r="3.7"/><circle cx="571.6" cy="416.7" r="3.7"/><circle cx="550.3" cy="415.4" r="3.7"/><circle cx="627.6" cy="475.1" r="3.7"/><circle cx="551.6" cy="397.2" r="3.7"/><circle cx="567.5" cy="472.0" r="3.7"/><circle cx="519.7" cy="569.7" r="3.7"/><circle cx="546.0" cy="492.1" r="3.7"/><circle cx="525.1" cy="548.9" r="3.7"/><circle cx="541.0" cy="440.9" r="3.7"/><circle cx="552.2" cy="476.4" r="3.7"/><circle cx="583.7" cy="444.1" r="3.7"/><circle cx="606.5" cy="481.8" r="3.7"/><circle cx="525.3" cy="495.2" r="3.7"/><circle cx="546.7" cy="439.8" r="3.7"/><circle cx="608.8" cy="366.7" r="3.7"/><circle cx="563.3" cy="354.8" r="3.7"/><circle cx="547.4" cy="461.8" r="3.7"/><circle cx="584.0" cy="470.7" r="3.7"/><circle cx="589.9" cy="474.6" r="3.7"/><circle cx="560.4" cy="441.7" r="3.7"/><circle cx="581.3" cy="469.9" r="3.7"/><circle cx="603.1" cy="429.6" r="3.7"/><circle cx="624.1" cy="440.7" r="3.7"/><circle cx="519.2" cy="544.7" r="3.7"/><circle cx="573.4" cy="466.4" r="3.7"/><circle cx="566.7" cy="302.9" r="3.7"/><circle cx="617.0" cy="314.1" r="3.7"/><circle cx="580.2" cy="537.5" r="3.7"/><circle cx="549.5" cy="457.7" r="3.7"/><circle cx="563.9" cy="390.2" r="3.7"/><circle cx="574.6" cy="380.9" r="3.7"/><circle cx="566.3" cy="568.9" r="3.7"/><circle cx="579.5" cy="497.4" r="3.7"/><circle cx="601.2" cy="335.5" r="3.7"/><circle cx="559.1" cy="513.7" r="3.7"/><circle cx="580.1" cy="407.4" r="3.7"/><circle cx="538.5" cy="413.5" r="3.7"/><circle cx="542.1" cy="515.7" r="3.7"/><circle cx="624.2" cy="509.2" r="3.7"/><circle cx="613.6" cy="315.3" r="3.7"/><circle cx="594.4" cy="416.9" r="3.7"/><circle cx="533.6" cy="520.1" r="3.7"/><circle cx="556.2" cy="509.9" r="3.7"/><circle cx="536.8" cy="429.3" r="3.7"/><circle cx="522.7" cy="558.4" r="3.7"/><circle cx="588.2" cy="575.9" r="3.7"/><circle cx="623.4" cy="381.9" r="3.7"/><circle cx="553.1" cy="495.9" r="3.7"/><circle cx="635.7" cy="365.9" r="3.7"/><circle cx="564.8" cy="398.0" r="3.7"/><circle cx="599.4" cy="527.2" r="3.7"/><circle cx="550.0" cy="418.0" r="3.7"/><circle cx="569.0" cy="334.3" r="3.7"/><circle cx="607.9" cy="455.2" r="3.7"/><circle cx="549.8" cy="365.3" r="3.7"/><circle cx="565.0" cy="392.7" r="3.7"/><circle cx="556.9" cy="451.6" r="3.7"/><circle cx="569.3" cy="347.3" r="3.7"/><circle cx="581.5" cy="416.1" r="3.7"/><circle cx="526.0" cy="517.9" r="3.7"/><circle cx="544.6" cy="416.6" r="3.7"/><circle cx="564.4" cy="550.1" r="3.7"/><circle cx="536.7" cy="426.9" r="3.7"/><circle cx="580.9" cy="533.0" r="3.7"/><circle cx="607.2" cy="364.2" r="3.7"/><circle cx="624.4" cy="482.5" r="3.7"/><circle cx="537.7" cy="516.3" r="3.7"/><circle cx="529.8" cy="493.4" r="3.7"/><circle cx="535.0" cy="575.0" r="3.7"/><circle cx="562.1" cy="355.3" r="3.7"/><circle cx="540.4" cy="389.8" r="3.7"/><circle cx="622.9" cy="429.6" r="3.7"/><circle cx="565.8" cy="480.8" r="3.7"/><circle cx="567.7" cy="482.2" r="3.7"/><circle cx="539.3" cy="497.5" r="3.7"/><circle cx="560.8" cy="399.7" r="3.7"/><circle cx="583.6" cy="452.2" r="3.7"/><circle cx="549.1" cy="575.0" r="3.7"/><circle cx="584.8" cy="363.6" r="3.7"/><circle cx="577.4" cy="447.2" r="3.7"/><circle cx="588.5" cy="571.0" r="3.7"/><circle cx="560.0" cy="565.5" r="3.7"/><circle cx="532.9" cy="509.4" r="3.7"/><circle cx="594.2" cy="495.6" r="3.7"/><circle cx="559.5" cy="445.1" r="3.7"/><circle cx="613.6" cy="429.2" r="3.7"/><circle cx="538.0" cy="509.3" r="3.7"/><circle cx="594.2" cy="388.1" r="3.7"/><circle cx="572.9" cy="324.4" r="3.7"/><circle cx="601.6" cy="396.6" r="3.7"/><circle cx="561.1" cy="457.1" r="3.7"/><circle cx="536.7" cy="395.0" r="3.7"/><circle cx="596.2" cy="462.0" r="3.7"/><circle cx="545.8" cy="394.2" r="3.7"/><circle cx="543.9" cy="381.5" r="3.7"/><circle cx="569.6" cy="322.3" r="3.7"/><circle cx="621.4" cy="402.6" r="3.7"/><circle cx="591.6" cy="315.0" r="3.7"/><circle cx="534.5" cy="500.7" r="3.7"/><circle cx="592.8" cy="397.9" r="3.7"/><circle cx="573.4" cy="420.9" r="3.7"/><circle cx="573.4" cy="576.3" r="3.7"/><circle cx="563.9" cy="406.8" r="3.7"/><circle cx="570.6" cy="415.8" r="3.7"/><circle cx="551.8" cy="418.0" r="3.7"/><circle cx="601.6" cy="464.3" r="3.7"/><circle cx="549.8" cy="433.1" r="3.7"/><circle cx="554.7" cy="430.8" r="3.7"/><circle cx="565.0" cy="404.1" r="3.7"/><circle cx="617.2" cy="492.3" r="3.7"/><circle cx="547.0" cy="555.7" r="3.7"/><circle cx="538.5" cy="446.0" r="3.7"/><circle cx="591.8" cy="413.0" r="3.7"/><circle cx="678.1" cy="324.4" r="3.7"/><circle cx="607.2" cy="302.7" r="3.7"/><circle cx="531.7" cy="485.3" r="3.7"/><circle cx="552.0" cy="575.7" r="3.7"/><circle cx="555.0" cy="475.8" r="3.7"/><circle cx="535.1" cy="518.9" r="3.7"/><circle cx="630.3" cy="444.1" r="3.7"/><circle cx="624.5" cy="524.2" r="3.7"/><circle cx="568.8" cy="445.7" r="3.7"/><circle cx="588.3" cy="470.5" r="3.7"/><circle cx="616.5" cy="466.5" r="3.7"/><circle cx="597.0" cy="550.0" r="3.7"/><circle cx="587.4" cy="569.0" r="3.7"/><circle cx="590.2" cy="372.4" r="3.7"/><circle cx="547.3" cy="399.0" r="3.7"/><circle cx="532.0" cy="527.1" r="3.7"/><circle cx="593.7" cy="486.0" r="3.7"/><circle cx="578.4" cy="308.1" r="3.7"/><circle cx="580.8" cy="409.6" r="3.7"/><circle cx="548.3" cy="537.3" r="3.7"/><circle cx="526.3" cy="495.8" r="3.7"/><circle cx="566.2" cy="512.6" r="3.7"/><circle cx="552.6" cy="488.4" r="3.7"/><circle cx="673.9" cy="396.1" r="3.7"/><circle cx="576.2" cy="359.8" r="3.7"/><circle cx="568.9" cy="531.9" r="3.7"/><circle cx="530.9" cy="496.8" r="3.7"/><circle cx="566.4" cy="367.2" r="3.7"/><circle cx="559.4" cy="523.5" r="3.7"/><circle cx="572.1" cy="538.9" r="3.7"/><circle cx="581.5" cy="539.1" r="3.7"/><circle cx="543.8" cy="464.1" r="3.7"/><circle cx="538.8" cy="495.4" r="3.7"/><circle cx="578.4" cy="573.9" r="3.7"/><circle cx="546.4" cy="375.1" r="3.7"/><circle cx="553.9" cy="462.3" r="3.7"/><circle cx="529.3" cy="573.9" r="3.7"/><circle cx="600.2" cy="377.4" r="3.7"/><circle cx="565.4" cy="571.0" r="3.7"/><circle cx="533.4" cy="473.5" r="3.7"/><circle cx="600.0" cy="563.1" r="3.7"/><circle cx="591.7" cy="518.3" r="3.7"/><circle cx="572.7" cy="314.1" r="3.7"/><circle cx="542.8" cy="516.0" r="3.7"/><circle cx="660.4" cy="355.2" r="3.7"/><circle cx="619.1" cy="442.5" r="3.7"/><circle cx="565.2" cy="370.2" r="3.7"/><circle cx="583.8" cy="525.8" r="3.7"/><circle cx="562.6" cy="491.9" r="3.7"/><circle cx="589.9" cy="574.8" r="3.7"/><circle cx="545.0" cy="380.5" r="3.7"/><circle cx="583.6" cy="487.9" r="3.7"/><circle cx="636.4" cy="293.3" r="3.7"/><circle cx="590.3" cy="507.8" r="3.7"/><circle cx="631.2" cy="289.1" r="3.7"/><circle cx="565.6" cy="471.5" r="3.7"/><circle cx="583.6" cy="383.8" r="3.7"/><circle cx="570.4" cy="430.8" r="3.7"/><circle cx="553.7" cy="510.3" r="3.7"/><circle cx="571.7" cy="417.4" r="3.7"/><circle cx="593.2" cy="499.0" r="3.7"/><circle cx="567.6" cy="479.0" r="3.7"/><circle cx="686.7" cy="473.8" r="3.7"/><circle cx="667.7" cy="340.2" r="3.7"/><circle cx="558.7" cy="439.1" r="3.7"/><circle cx="696.0" cy="402.0" r="3.7"/><circle cx="597.4" cy="518.2" r="3.7"/><circle cx="614.3" cy="474.1" r="3.7"/><circle cx="574.3" cy="494.9" r="3.7"/><circle cx="546.8" cy="395.5" r="3.7"/><circle cx="519.3" cy="567.6" r="3.7"/><circle cx="595.5" cy="487.0" r="3.7"/><circle cx="581.1" cy="500.1" r="3.7"/><circle cx="590.7" cy="382.6" r="3.7"/><circle cx="579.8" cy="483.8" r="3.7"/><circle cx="672.5" cy="367.3" r="3.7"/><circle cx="619.2" cy="458.4" r="3.7"/><circle cx="613.2" cy="369.5" r="3.7"/><circle cx="538.6" cy="548.1" r="3.7"/><circle cx="519.1" cy="548.9" r="3.7"/><circle cx="566.7" cy="395.7" r="3.7"/><circle cx="577.0" cy="412.6" r="3.7"/><circle cx="526.9" cy="565.3" r="3.7"/><circle cx="527.6" cy="531.0" r="3.7"/><circle cx="584.8" cy="515.0" r="3.7"/><circle cx="543.8" cy="421.5" r="3.7"/><circle cx="618.5" cy="313.2" r="3.7"/><circle cx="531.3" cy="487.8" r="3.7"/><circle cx="549.0" cy="535.8" r="3.7"/><circle cx="563.8" cy="508.8" r="3.7"/><circle cx="546.9" cy="442.3" r="3.7"/><circle cx="539.0" cy="452.9" r="3.7"/><circle cx="560.8" cy="433.0" r="3.7"/><circle cx="577.3" cy="282.2" r="3.7"/><circle cx="547.4" cy="573.3" r="3.7"/><circle cx="537.8" cy="535.3" r="3.7"/><circle cx="585.0" cy="518.4" r="3.7"/><circle cx="629.0" cy="301.5" r="3.7"/><circle cx="546.7" cy="386.1" r="3.7"/><circle cx="571.0" cy="473.0" r="3.7"/><circle cx="608.6" cy="518.3" r="3.7"/><circle cx="525.8" cy="572.3" r="3.7"/><circle cx="645.9" cy="395.5" r="3.7"/><circle cx="570.2" cy="572.6" r="3.7"/><circle cx="582.2" cy="462.3" r="3.7"/><circle cx="568.9" cy="569.2" r="3.7"/><circle cx="550.9" cy="438.1" r="3.7"/><circle cx="537.9" cy="443.9" r="3.7"/><circle cx="533.0" cy="471.3" r="3.7"/><circle cx="671.8" cy="322.5" r="3.7"/><circle cx="588.2" cy="392.2" r="3.7"/><circle cx="586.8" cy="480.4" r="3.7"/><circle cx="544.8" cy="448.8" r="3.7"/><circle cx="593.9" cy="330.9" r="3.7"/><circle cx="625.6" cy="301.5" r="3.7"/><circle cx="636.9" cy="318.1" r="3.7"/><circle cx="582.3" cy="376.6" r="3.7"/><circle cx="549.6" cy="409.0" r="3.7"/><circle cx="531.2" cy="527.7" r="3.7"/><circle cx="576.9" cy="424.4" r="3.7"/><circle cx="641.1" cy="479.3" r="3.7"/><circle cx="587.0" cy="370.3" r="3.7"/><circle cx="683.6" cy="443.7" r="3.7"/><circle cx="586.5" cy="393.3" r="3.7"/><circle cx="542.0" cy="522.7" r="3.7"/><circle cx="583.7" cy="535.9" r="3.7"/><circle cx="534.4" cy="562.4" r="3.7"/><circle cx="630.6" cy="396.2" r="3.7"/><circle cx="626.8" cy="422.8" r="3.7"/><circle cx="576.9" cy="282.0" r="3.7"/><circle cx="626.0" cy="444.3" r="3.7"/><circle cx="524.6" cy="540.4" r="3.7"/><circle cx="549.6" cy="384.1" r="3.7"/><circle cx="619.8" cy="425.2" r="3.7"/><circle cx="595.5" cy="368.1" r="3.7"/><circle cx="603.4" cy="372.3" r="3.7"/><circle cx="683.3" cy="354.5" r="3.7"/><circle cx="552.4" cy="496.7" r="3.7"/><circle cx="559.1" cy="507.1" r="3.7"/><circle cx="569.8" cy="516.1" r="3.7"/><circle cx="588.4" cy="568.6" r="3.7"/><circle cx="530.4" cy="463.4" r="3.7"/><circle cx="583.4" cy="431.7" r="3.7"/><circle cx="557.4" cy="468.6" r="3.7"/><circle cx="575.4" cy="512.9" r="3.7"/><circle cx="553.6" cy="441.5" r="3.7"/><circle cx="556.9" cy="558.7" r="3.7"/><circle cx="616.3" cy="341.9" r="3.7"/><circle cx="567.0" cy="489.1" r="3.7"/><circle cx="547.0" cy="488.3" r="3.7"/><circle cx="544.7" cy="372.9" r="3.7"/><circle cx="571.1" cy="339.1" r="3.7"/><circle cx="552.0" cy="564.6" r="3.7"/><circle cx="599.6" cy="349.0" r="3.7"/><circle cx="609.8" cy="441.5" r="3.7"/><circle cx="614.3" cy="489.1" r="3.7"/><circle cx="542.7" cy="382.1" r="3.7"/><circle cx="551.2" cy="496.7" r="3.7"/><circle cx="570.2" cy="571.2" r="3.7"/><circle cx="636.7" cy="411.4" r="3.7"/><circle cx="673.6" cy="312.9" r="3.7"/><circle cx="591.9" cy="560.9" r="3.7"/><circle cx="521.4" cy="553.5" r="3.7"/><circle cx="604.5" cy="363.5" r="3.7"/><circle cx="568.6" cy="335.7" r="3.7"/><circle cx="613.3" cy="286.3" r="3.7"/><circle cx="567.5" cy="375.3" r="3.7"/><circle cx="549.4" cy="531.8" r="3.7"/><circle cx="561.2" cy="411.0" r="3.7"/><circle cx="549.6" cy="384.9" r="3.7"/><circle cx="579.2" cy="412.7" r="3.7"/><circle cx="576.0" cy="419.5" r="3.7"/><circle cx="568.3" cy="461.3" r="3.7"/><circle cx="569.4" cy="516.3" r="3.7"/><circle cx="566.0" cy="378.7" r="3.7"/><circle cx="540.4" cy="569.6" r="3.7"/><circle cx="554.2" cy="576.1" r="3.7"/><circle cx="543.2" cy="402.1" r="3.7"/><circle cx="553.7" cy="510.7" r="3.7"/><circle cx="587.0" cy="559.0" r="3.7"/><circle cx="587.5" cy="566.1" r="3.7"/><circle cx="566.2" cy="335.5" r="3.7"/><circle cx="534.4" cy="480.3" r="3.7"/><circle cx="556.9" cy="395.6" r="3.7"/><circle cx="546.3" cy="482.5" r="3.7"/><circle cx="566.5" cy="506.9" r="3.7"/><circle cx="547.9" cy="527.1" r="3.7"/><circle cx="579.5" cy="487.1" r="3.7"/><circle cx="594.5" cy="327.8" r="3.7"/><circle cx="577.0" cy="294.4" r="3.7"/><circle cx="560.4" cy="403.8" r="3.7"/><circle cx="653.0" cy="454.6" r="3.7"/><circle cx="574.7" cy="307.8" r="3.7"/><circle cx="582.4" cy="428.3" r="3.7"/><circle cx="528.8" cy="570.1" r="3.7"/><circle cx="559.9" cy="432.7" r="3.7"/><circle cx="557.8" cy="452.9" r="3.7"/><circle cx="554.3" cy="532.3" r="3.7"/><circle cx="538.3" cy="562.4" r="3.7"/><circle cx="577.8" cy="457.6" r="3.7"/><circle cx="647.5" cy="433.6" r="3.7"/><circle cx="585.5" cy="288.9" r="3.7"/><circle cx="584.6" cy="356.2" r="3.7"/><circle cx="547.0" cy="562.4" r="3.7"/><circle cx="549.5" cy="406.1" r="3.7"/><circle cx="536.3" cy="548.9" r="3.7"/><circle cx="554.0" cy="355.2" r="3.7"/><circle cx="629.4" cy="329.7" r="3.7"/><circle cx="557.1" cy="396.2" r="3.7"/><circle cx="572.9" cy="477.0" r="3.7"/><circle cx="593.4" cy="464.5" r="3.7"/><circle cx="542.0" cy="368.1" r="3.7"/><circle cx="549.5" cy="463.8" r="3.7"/><circle cx="545.3" cy="474.0" r="3.7"/><circle cx="536.1" cy="409.2" r="3.7"/><circle cx="585.5" cy="369.2" r="3.7"/><circle cx="610.7" cy="468.4" r="3.7"/><circle cx="570.8" cy="442.7" r="3.7"/><circle cx="523.8" cy="555.6" r="3.7"/><circle cx="556.7" cy="502.4" r="3.7"/><circle cx="684.6" cy="447.6" r="3.7"/><circle cx="566.7" cy="497.0" r="3.7"/><circle cx="519.8" cy="542.5" r="3.7"/><circle cx="580.9" cy="430.4" r="3.7"/><circle cx="561.0" cy="551.8" r="3.7"/><circle cx="598.2" cy="313.4" r="3.7"/><circle cx="583.5" cy="498.0" r="3.7"/><circle cx="607.2" cy="314.0" r="3.7"/><circle cx="585.6" cy="484.4" r="3.7"/><circle cx="538.0" cy="570.6" r="3.7"/><circle cx="617.0" cy="460.3" r="3.7"/><circle cx="558.6" cy="351.7" r="3.7"/><circle cx="619.8" cy="369.8" r="3.7"/><circle cx="602.3" cy="464.2" r="3.7"/><circle cx="569.4" cy="466.2" r="3.7"/><circle cx="523.5" cy="506.5" r="3.7"/><circle cx="583.3" cy="457.8" r="3.7"/><circle cx="586.9" cy="404.3" r="3.7"/><circle cx="556.1" cy="438.9" r="3.7"/><circle cx="578.3" cy="427.3" r="3.7"/><circle cx="620.8" cy="436.8" r="3.7"/><circle cx="556.9" cy="526.3" r="3.7"/><circle cx="592.0" cy="293.9" r="3.7"/><circle cx="593.6" cy="547.4" r="3.7"/><circle cx="558.9" cy="557.9" r="3.7"/><circle cx="581.2" cy="427.2" r="3.7"/><circle cx="567.9" cy="503.7" r="3.7"/><circle cx="552.7" cy="533.3" r="3.7"/><circle cx="614.2" cy="438.9" r="3.7"/><circle cx="578.7" cy="405.4" r="3.7"/><circle cx="613.3" cy="504.4" r="3.7"/><circle cx="577.7" cy="489.5" r="3.7"/><circle cx="564.2" cy="364.8" r="3.7"/><circle cx="613.4" cy="287.0" r="3.7"/><circle cx="568.8" cy="512.3" r="3.7"/><circle cx="585.8" cy="446.6" r="3.7"/><circle cx="591.7" cy="495.3" r="3.7"/><circle cx="522.1" cy="523.3" r="3.7"/><circle cx="577.1" cy="521.1" r="3.7"/><circle cx="582.3" cy="400.8" r="3.7"/><circle cx="671.0" cy="329.5" r="3.7"/><circle cx="542.3" cy="491.6" r="3.7"/><circle cx="610.1" cy="469.5" r="3.7"/><circle cx="572.1" cy="433.4" r="3.7"/><circle cx="650.8" cy="481.4" r="3.7"/><circle cx="584.7" cy="432.3" r="3.7"/><circle cx="569.6" cy="434.1" r="3.7"/><circle cx="579.2" cy="482.6" r="3.7"/><circle cx="528.3" cy="526.1" r="3.7"/><circle cx="569.5" cy="385.5" r="3.7"/><circle cx="563.5" cy="453.0" r="3.7"/><circle cx="559.7" cy="450.5" r="3.7"/><circle cx="581.9" cy="559.7" r="3.7"/><circle cx="541.7" cy="403.6" r="3.7"/><circle cx="534.3" cy="526.4" r="3.7"/><circle cx="619.7" cy="373.5" r="3.7"/><circle cx="593.3" cy="356.7" r="3.7"/><circle cx="675.2" cy="337.9" r="3.7"/><circle cx="552.5" cy="441.1" r="3.7"/><circle cx="604.3" cy="530.3" r="3.7"/><circle cx="586.3" cy="511.6" r="3.7"/><circle cx="570.8" cy="462.6" r="3.7"/><circle cx="566.6" cy="511.6" r="3.7"/><circle cx="574.3" cy="437.3" r="3.7"/><circle cx="560.2" cy="430.5" r="3.7"/><circle cx="569.6" cy="380.5" r="3.7"/><circle cx="551.9" cy="404.3" r="3.7"/><circle cx="576.1" cy="396.7" r="3.7"/><circle cx="563.6" cy="566.4" r="3.7"/><circle cx="516.9" cy="575.1" r="3.7"/><circle cx="567.4" cy="443.1" r="3.7"/><circle cx="570.7" cy="419.9" r="3.7"/><circle cx="697.8" cy="339.4" r="3.7"/><circle cx="572.8" cy="548.1" r="3.7"/><circle cx="593.4" cy="473.1" r="3.7"/><circle cx="565.8" cy="455.0" r="3.7"/><circle cx="589.7" cy="392.3" r="3.7"/><circle cx="520.0" cy="548.9" r="3.7"/><circle cx="573.8" cy="327.8" r="3.7"/><circle cx="651.5" cy="292.0" r="3.7"/><circle cx="572.3" cy="530.6" r="3.7"/><circle cx="580.9" cy="462.4" r="3.7"/><circle cx="580.6" cy="389.5" r="3.7"/><circle cx="569.5" cy="432.8" r="3.7"/><circle cx="560.8" cy="413.7" r="3.7"/><circle cx="562.7" cy="318.0" r="3.7"/><circle cx="545.0" cy="545.3" r="3.7"/><circle cx="637.3" cy="292.4" r="3.7"/><circle cx="536.2" cy="469.8" r="3.7"/><circle cx="598.6" cy="516.5" r="3.7"/><circle cx="558.7" cy="407.4" r="3.7"/><circle cx="560.4" cy="489.4" r="3.7"/><circle cx="584.2" cy="541.2" r="3.7"/><circle cx="558.8" cy="370.8" r="3.7"/><circle cx="653.6" cy="494.2" r="3.7"/><circle cx="578.8" cy="313.3" r="3.7"/><circle cx="543.4" cy="419.0" r="3.7"/><circle cx="596.5" cy="428.7" r="3.7"/><circle cx="692.1" cy="407.0" r="3.7"/><circle cx="545.6" cy="441.0" r="3.7"/><circle cx="575.8" cy="525.0" r="3.7"/><circle cx="538.2" cy="433.5" r="3.7"/><circle cx="586.4" cy="473.5" r="3.7"/><circle cx="583.0" cy="381.2" r="3.7"/><circle cx="570.7" cy="497.5" r="3.7"/><circle cx="596.9" cy="442.9" r="3.7"/><circle cx="591.4" cy="310.2" r="3.7"/><circle cx="645.1" cy="306.7" r="3.7"/><circle cx="546.8" cy="507.1" r="3.7"/><circle cx="534.1" cy="493.3" r="3.7"/><circle cx="608.0" cy="313.3" r="3.7"/><circle cx="579.6" cy="434.6" r="3.7"/><circle cx="548.0" cy="549.8" r="3.7"/><circle cx="607.1" cy="374.8" r="3.7"/><circle cx="583.7" cy="469.8" r="3.7"/><circle cx="556.4" cy="473.3" r="3.7"/><circle cx="678.9" cy="324.2" r="3.7"/><circle cx="548.1" cy="510.9" r="3.7"/><circle cx="571.5" cy="406.9" r="3.7"/><circle cx="537.7" cy="559.4" r="3.7"/><circle cx="549.8" cy="519.9" r="3.7"/><circle cx="673.5" cy="447.5" r="3.7"/><circle cx="581.6" cy="417.2" r="3.7"/><circle cx="555.3" cy="555.4" r="3.7"/><circle cx="582.2" cy="420.0" r="3.7"/><circle cx="525.3" cy="552.2" r="3.7"/><circle cx="545.5" cy="443.0" r="3.7"/><circle cx="568.0" cy="538.7" r="3.7"/><circle cx="558.3" cy="525.8" r="3.7"/><circle cx="579.3" cy="427.4" r="3.7"/><circle cx="605.4" cy="512.3" r="3.7"/><circle cx="537.3" cy="429.5" r="3.7"/><circle cx="610.9" cy="350.4" r="3.7"/><circle cx="569.0" cy="391.6" r="3.7"/><circle cx="600.5" cy="341.0" r="3.7"/><circle cx="543.2" cy="566.2" r="3.7"/><circle cx="685.7" cy="363.0" r="3.7"/><circle cx="568.7" cy="424.1" r="3.7"/><circle cx="584.5" cy="387.3" r="3.7"/><circle cx="573.4" cy="380.4" r="3.7"/><circle cx="619.6" cy="353.4" r="3.7"/><circle cx="626.5" cy="470.2" r="3.7"/><circle cx="697.7" cy="452.6" r="3.7"/><circle cx="557.4" cy="470.3" r="3.7"/><circle cx="576.8" cy="451.1" r="3.7"/><circle cx="536.4" cy="565.0" r="3.7"/><circle cx="549.5" cy="538.4" r="3.7"/><circle cx="560.1" cy="452.9" r="3.7"/><circle cx="631.6" cy="317.1" r="3.7"/><circle cx="570.3" cy="353.1" r="3.7"/><circle cx="587.3" cy="451.0" r="3.7"/><circle cx="545.6" cy="507.4" r="3.7"/><circle cx="548.7" cy="416.1" r="3.7"/><circle cx="551.2" cy="569.2" r="3.7"/><circle cx="562.1" cy="358.6" r="3.7"/><circle cx="530.6" cy="551.6" r="3.7"/><circle cx="568.5" cy="467.1" r="3.7"/><circle cx="589.5" cy="444.7" r="3.7"/><circle cx="582.0" cy="575.0" r="3.7"/><circle cx="553.5" cy="528.6" r="3.7"/><circle cx="553.2" cy="422.9" r="3.7"/><circle cx="543.5" cy="507.9" r="3.7"/><circle cx="575.8" cy="394.7" r="3.7"/><circle cx="578.0" cy="380.8" r="3.7"/><circle cx="592.6" cy="461.1" r="3.7"/><circle cx="530.6" cy="454.8" r="3.7"/><circle cx="538.8" cy="475.1" r="3.7"/><circle cx="546.8" cy="439.4" r="3.7"/><circle cx="559.0" cy="550.1" r="3.7"/><circle cx="544.3" cy="429.3" r="3.7"/><circle cx="687.3" cy="373.8" r="3.7"/><circle cx="584.2" cy="349.5" r="3.7"/><circle cx="579.8" cy="533.9" r="3.7"/><circle cx="599.7" cy="493.1" r="3.7"/><circle cx="555.9" cy="574.2" r="3.7"/><circle cx="620.1" cy="416.5" r="3.7"/><circle cx="592.1" cy="364.1" r="3.7"/><circle cx="527.9" cy="554.8" r="3.7"/><circle cx="581.6" cy="543.7" r="3.7"/><circle cx="589.0" cy="403.4" r="3.7"/><circle cx="634.0" cy="420.0" r="3.7"/><circle cx="589.0" cy="478.2" r="3.7"/><circle cx="593.2" cy="495.3" r="3.7"/><circle cx="558.5" cy="556.1" r="3.7"/><circle cx="556.3" cy="471.9" r="3.7"/><circle cx="539.8" cy="472.2" r="3.7"/><circle cx="578.5" cy="471.2" r="3.7"/><circle cx="593.0" cy="449.0" r="3.7"/><circle cx="685.6" cy="479.6" r="3.7"/><circle cx="582.4" cy="420.7" r="3.7"/><circle cx="562.4" cy="576.5" r="3.7"/><circle cx="610.8" cy="455.0" r="3.7"/><circle cx="609.1" cy="369.3" r="3.7"/><circle cx="567.1" cy="530.4" r="3.7"/><circle cx="601.4" cy="368.8" r="3.7"/><circle cx="573.1" cy="421.4" r="3.7"/><circle cx="548.4" cy="428.3" r="3.7"/><circle cx="561.7" cy="529.0" r="3.7"/><circle cx="570.0" cy="357.7" r="3.7"/><circle cx="551.6" cy="357.6" r="3.7"/><circle cx="584.0" cy="407.8" r="3.7"/><circle cx="552.4" cy="463.0" r="3.7"/><circle cx="552.4" cy="369.3" r="3.7"/><circle cx="563.3" cy="360.1" r="3.7"/><circle cx="541.8" cy="517.5" r="3.7"/><circle cx="531.8" cy="444.7" r="3.7"/><circle cx="580.0" cy="469.2" r="3.7"/><circle cx="564.1" cy="424.4" r="3.7"/><circle cx="555.9" cy="368.3" r="3.7"/><circle cx="535.4" cy="575.6" r="3.7"/><circle cx="537.6" cy="412.1" r="3.7"/><circle cx="577.5" cy="464.0" r="3.7"/><circle cx="556.4" cy="394.2" r="3.7"/><circle cx="547.0" cy="427.9" r="3.7"/><circle cx="615.7" cy="320.3" r="3.7"/><circle cx="560.9" cy="537.1" r="3.7"/><circle cx="523.4" cy="525.7" r="3.7"/><circle cx="652.5" cy="471.3" r="3.7"/><circle cx="565.9" cy="537.3" r="3.7"/><circle cx="606.0" cy="511.6" r="3.7"/><circle cx="569.7" cy="390.1" r="3.7"/><circle cx="568.2" cy="548.7" r="3.7"/><circle cx="664.3" cy="331.5" r="3.7"/><circle cx="547.4" cy="407.2" r="3.7"/><circle cx="551.0" cy="473.2" r="3.7"/><circle cx="626.7" cy="422.5" r="3.7"/><circle cx="584.5" cy="364.4" r="3.7"/><circle cx="616.1" cy="490.8" r="3.7"/><circle cx="606.2" cy="478.6" r="3.7"/><circle cx="545.2" cy="389.6" r="3.7"/><circle cx="560.3" cy="391.8" r="3.7"/><circle cx="643.6" cy="478.4" r="3.7"/><circle cx="551.4" cy="398.7" r="3.7"/><circle cx="550.5" cy="372.8" r="3.7"/><circle cx="613.5" cy="511.2" r="3.7"/><circle cx="541.0" cy="468.5" r="3.7"/><circle cx="536.9" cy="576.0" r="3.7"/><circle cx="663.4" cy="437.5" r="3.7"/><circle cx="610.6" cy="373.2" r="3.7"/><circle cx="530.8" cy="464.5" r="3.7"/><circle cx="541.0" cy="503.3" r="3.7"/><circle cx="594.7" cy="282.9" r="3.7"/><circle cx="565.4" cy="520.7" r="3.7"/><circle cx="569.5" cy="566.2" r="3.7"/><circle cx="644.0" cy="327.3" r="3.7"/><circle cx="572.8" cy="389.5" r="3.7"/><circle cx="586.0" cy="355.4" r="3.7"/><circle cx="551.4" cy="458.1" r="3.7"/><circle cx="554.9" cy="528.7" r="3.7"/><circle cx="567.4" cy="373.5" r="3.7"/><circle cx="547.6" cy="563.5" r="3.7"/><circle cx="557.9" cy="425.3" r="3.7"/><circle cx="630.5" cy="440.9" r="3.7"/><circle cx="580.5" cy="519.2" r="3.7"/><circle cx="597.2" cy="533.5" r="3.7"/><circle cx="567.1" cy="530.8" r="3.7"/><circle cx="610.4" cy="282.5" r="3.7"/><circle cx="546.0" cy="552.6" r="3.7"/><circle cx="593.9" cy="518.1" r="3.7"/><circle cx="541.0" cy="450.4" r="3.7"/><circle cx="593.3" cy="383.6" r="3.7"/><circle cx="619.2" cy="285.3" r="3.7"/><circle cx="560.6" cy="433.9" r="3.7"/><circle cx="571.3" cy="514.9" r="3.7"/><circle cx="526.7" cy="507.4" r="3.7"/><circle cx="573.8" cy="395.0" r="3.7"/><circle cx="559.0" cy="344.2" r="3.7"/><circle cx="534.4" cy="519.7" r="3.7"/><circle cx="605.8" cy="433.4" r="3.7"/><circle cx="558.3" cy="456.6" r="3.7"/><circle cx="575.9" cy="563.0" r="3.7"/><circle cx="558.3" cy="550.6" r="3.7"/><circle cx="576.8" cy="460.9" r="3.7"/><circle cx="548.1" cy="542.5" r="3.7"/><circle cx="566.9" cy="368.7" r="3.7"/><circle cx="602.6" cy="525.6" r="3.7"/><circle cx="556.7" cy="413.9" r="3.7"/><circle cx="576.9" cy="557.3" r="3.7"/><circle cx="577.2" cy="385.8" r="3.7"/><circle cx="611.1" cy="476.2" r="3.7"/><circle cx="577.6" cy="533.6" r="3.7"/><circle cx="584.3" cy="360.5" r="3.7"/><circle cx="568.2" cy="393.6" r="3.7"/><circle cx="526.3" cy="521.4" r="3.7"/><circle cx="610.9" cy="519.2" r="3.7"/><circle cx="564.9" cy="536.5" r="3.7"/><circle cx="667.0" cy="447.1" r="3.7"/><circle cx="661.9" cy="431.5" r="3.7"/><circle cx="558.7" cy="397.4" r="3.7"/><circle cx="584.4" cy="500.0" r="3.7"/><circle cx="544.4" cy="464.6" r="3.7"/><circle cx="556.5" cy="429.8" r="3.7"/><circle cx="633.7" cy="351.2" r="3.7"/><circle cx="549.3" cy="478.7" r="3.7"/><circle cx="566.8" cy="341.7" r="3.7"/><circle cx="546.5" cy="570.9" r="3.7"/><circle cx="564.4" cy="518.2" r="3.7"/><circle cx="568.3" cy="530.9" r="3.7"/><circle cx="576.7" cy="341.1" r="3.7"/><circle cx="592.2" cy="345.5" r="3.7"/><circle cx="540.2" cy="482.6" r="3.7"/><circle cx="567.7" cy="447.6" r="3.7"/><circle cx="547.7" cy="559.4" r="3.7"/><circle cx="526.1" cy="538.4" r="3.7"/><circle cx="636.2" cy="465.1" r="3.7"/><circle cx="563.1" cy="380.1" r="3.7"/><circle cx="562.8" cy="368.1" r="3.7"/><circle cx="575.7" cy="349.6" r="3.7"/><circle cx="546.1" cy="383.9" r="3.7"/><circle cx="525.3" cy="522.9" r="3.7"/><circle cx="550.7" cy="448.6" r="3.7"/><circle cx="596.4" cy="440.1" r="3.7"/><circle cx="578.0" cy="417.5" r="3.7"/><circle cx="559.9" cy="481.2" r="3.7"/><circle cx="559.8" cy="557.3" r="3.7"/><circle cx="562.5" cy="346.5" r="3.7"/><circle cx="573.9" cy="382.6" r="3.7"/><circle cx="563.2" cy="418.0" r="3.7"/><circle cx="572.0" cy="500.1" r="3.7"/><circle cx="623.5" cy="463.0" r="3.7"/><circle cx="612.7" cy="486.5" r="3.7"/><circle cx="583.1" cy="341.6" r="3.7"/><circle cx="585.9" cy="506.9" r="3.7"/><circle cx="573.7" cy="401.4" r="3.7"/><circle cx="537.5" cy="538.6" r="3.7"/><circle cx="564.5" cy="415.7" r="3.7"/><circle cx="613.5" cy="352.5" r="3.7"/><circle cx="539.4" cy="571.5" r="3.7"/><circle cx="550.4" cy="382.4" r="3.7"/><circle cx="587.4" cy="506.7" r="3.7"/><circle cx="572.3" cy="366.8" r="3.7"/><circle cx="550.5" cy="444.7" r="3.7"/><circle cx="604.2" cy="305.2" r="3.7"/><circle cx="571.8" cy="430.5" r="3.7"/><circle cx="562.0" cy="388.2" r="3.7"/><circle cx="537.6" cy="404.3" r="3.7"/><circle cx="559.0" cy="411.5" r="3.7"/><circle cx="532.9" cy="559.6" r="3.7"/><circle cx="574.5" cy="387.5" r="3.7"/><circle cx="584.6" cy="420.8" r="3.7"/><circle cx="568.6" cy="448.5" r="3.7"/><circle cx="612.9" cy="454.0" r="3.7"/><circle cx="596.4" cy="551.9" r="3.7"/><circle cx="572.8" cy="315.6" r="3.7"/><circle cx="584.9" cy="537.5" r="3.7"/><circle cx="557.9" cy="390.3" r="3.7"/><circle cx="595.0" cy="478.0" r="3.7"/><circle cx="618.1" cy="421.0" r="3.7"/><circle cx="555.7" cy="509.7" r="3.7"/><circle cx="660.2" cy="293.1" r="3.7"/><circle cx="536.8" cy="558.4" r="3.7"/><circle cx="575.6" cy="445.4" r="3.7"/><circle cx="565.9" cy="549.2" r="3.7"/><circle cx="571.7" cy="435.8" r="3.7"/><circle cx="696.3" cy="419.0" r="3.7"/><circle cx="559.3" cy="496.2" r="3.7"/><circle cx="579.6" cy="453.8" r="3.7"/><circle cx="594.9" cy="529.6" r="3.7"/><circle cx="538.2" cy="543.4" r="3.7"/><circle cx="595.7" cy="290.6" r="3.7"/><circle cx="543.6" cy="495.8" r="3.7"/><circle cx="578.1" cy="374.6" r="3.7"/><circle cx="590.1" cy="411.4" r="3.7"/><circle cx="573.8" cy="421.9" r="3.7"/><circle cx="557.1" cy="444.1" r="3.7"/><circle cx="675.3" cy="345.4" r="3.7"/><circle cx="542.2" cy="410.8" r="3.7"/><circle cx="590.0" cy="510.7" r="3.7"/><circle cx="552.0" cy="425.1" r="3.7"/><circle cx="544.2" cy="421.3" r="3.7"/><circle cx="592.3" cy="473.0" r="3.7"/><circle cx="588.6" cy="576.9" r="3.7"/><circle cx="606.9" cy="506.4" r="3.7"/><circle cx="632.1" cy="452.0" r="3.7"/><circle cx="544.4" cy="404.0" r="3.7"/><circle cx="645.1" cy="339.8" r="3.7"/><circle cx="553.4" cy="457.8" r="3.7"/><circle cx="617.9" cy="403.2" r="3.7"/><circle cx="556.1" cy="539.3" r="3.7"/><circle cx="576.2" cy="435.2" r="3.7"/><circle cx="553.2" cy="485.5" r="3.7"/><circle cx="579.4" cy="377.2" r="3.7"/><circle cx="553.9" cy="444.1" r="3.7"/><circle cx="599.9" cy="304.8" r="3.7"/><circle cx="590.3" cy="282.7" r="3.7"/><circle cx="561.2" cy="502.1" r="3.7"/><circle cx="577.2" cy="507.4" r="3.7"/><circle cx="589.8" cy="468.7" r="3.7"/><circle cx="561.1" cy="449.9" r="3.7"/><circle cx="603.7" cy="403.8" r="3.7"/><circle cx="617.1" cy="493.9" r="3.7"/><circle cx="551.3" cy="546.1" r="3.7"/><circle cx="566.9" cy="488.7" r="3.7"/><circle cx="564.6" cy="434.7" r="3.7"/><circle cx="614.0" cy="313.6" r="3.7"/><circle cx="556.1" cy="356.3" r="3.7"/><circle cx="527.6" cy="553.7" r="3.7"/><circle cx="589.4" cy="431.0" r="3.7"/><circle cx="619.1" cy="482.3" r="3.7"/><circle cx="558.5" cy="575.7" r="3.7"/><circle cx="642.3" cy="419.3" r="3.7"/><circle cx="566.9" cy="527.8" r="3.7"/><circle cx="670.7" cy="306.3" r="3.7"/><circle cx="585.0" cy="389.1" r="3.7"/><circle cx="553.0" cy="556.8" r="3.7"/><circle cx="602.1" cy="370.9" r="3.7"/><circle cx="544.8" cy="575.5" r="3.7"/><circle cx="573.4" cy="386.6" r="3.7"/><circle cx="548.4" cy="509.7" r="3.7"/><circle cx="621.3" cy="282.2" r="3.7"/><circle cx="542.5" cy="472.7" r="3.7"/><circle cx="573.3" cy="403.2" r="3.7"/><circle cx="546.8" cy="550.6" r="3.7"/><circle cx="560.9" cy="436.9" r="3.7"/><circle cx="535.7" cy="514.2" r="3.7"/><circle cx="604.5" cy="474.2" r="3.7"/><circle cx="602.2" cy="431.6" r="3.7"/><circle cx="618.2" cy="369.2" r="3.7"/><circle cx="608.5" cy="322.1" r="3.7"/><circle cx="567.5" cy="405.0" r="3.7"/><circle cx="665.4" cy="346.7" r="3.7"/><circle cx="535.1" cy="521.8" r="3.7"/><circle cx="575.5" cy="427.5" r="3.7"/><circle cx="526.7" cy="534.8" r="3.7"/><circle cx="559.3" cy="533.8" r="3.7"/><circle cx="576.1" cy="414.0" r="3.7"/><circle cx="546.7" cy="457.2" r="3.7"/><circle cx="549.7" cy="544.2" r="3.7"/><circle cx="637.0" cy="308.8" r="3.7"/><circle cx="540.9" cy="387.9" r="3.7"/><circle cx="545.6" cy="488.6" r="3.7"/><circle cx="589.1" cy="353.7" r="3.7"/><circle cx="652.8" cy="296.1" r="3.7"/><circle cx="576.1" cy="532.0" r="3.7"/><circle cx="572.5" cy="507.1" r="3.7"/><circle cx="589.1" cy="411.0" r="3.7"/><circle cx="568.0" cy="358.6" r="3.7"/><circle cx="628.9" cy="455.6" r="3.7"/><circle cx="555.4" cy="549.9" r="3.7"/><circle cx="552.6" cy="453.7" r="3.7"/><circle cx="549.3" cy="459.0" r="3.7"/><circle cx="549.7" cy="428.3" r="3.7"/><circle cx="615.4" cy="402.0" r="3.7"/><circle cx="640.9" cy="421.3" r="3.7"/><circle cx="574.0" cy="407.5" r="3.7"/><circle cx="570.5" cy="356.9" r="3.7"/><circle cx="535.5" cy="567.8" r="3.7"/><circle cx="656.6" cy="398.6" r="3.7"/><circle cx="593.5" cy="440.0" r="3.7"/><circle cx="558.9" cy="359.2" r="3.7"/><circle cx="519.2" cy="565.9" r="3.7"/><circle cx="582.0" cy="363.1" r="3.7"/><circle cx="610.3" cy="486.5" r="3.7"/><circle cx="545.0" cy="465.8" r="3.7"/><circle cx="532.5" cy="570.1" r="3.7"/><circle cx="600.6" cy="320.8" r="3.7"/><circle cx="563.2" cy="390.0" r="3.7"/><circle cx="593.3" cy="496.9" r="3.7"/><circle cx="556.9" cy="402.6" r="3.7"/><circle cx="523.2" cy="556.3" r="3.7"/><circle cx="554.5" cy="460.1" r="3.7"/><circle cx="551.3" cy="559.6" r="3.7"/><circle cx="544.8" cy="517.7" r="3.7"/><circle cx="546.0" cy="441.4" r="3.7"/><circle cx="544.8" cy="491.7" r="3.7"/><circle cx="528.7" cy="538.6" r="3.7"/><circle cx="546.9" cy="364.6" r="3.7"/><circle cx="573.5" cy="466.6" r="3.7"/><circle cx="562.4" cy="525.3" r="3.7"/><circle cx="556.3" cy="553.6" r="3.7"/><circle cx="576.7" cy="555.0" r="3.7"/><circle cx="574.0" cy="411.4" r="3.7"/><circle cx="547.7" cy="462.7" r="3.7"/><circle cx="651.0" cy="452.7" r="3.7"/><circle cx="523.8" cy="520.5" r="3.7"/><circle cx="536.0" cy="448.0" r="3.7"/><circle cx="604.6" cy="541.6" r="3.7"/><circle cx="541.9" cy="413.7" r="3.7"/><circle cx="528.9" cy="496.8" r="3.7"/><circle cx="575.2" cy="379.0" r="3.7"/><circle cx="545.9" cy="469.4" r="3.7"/><circle cx="572.0" cy="510.2" r="3.7"/><circle cx="599.0" cy="428.7" r="3.7"/><circle cx="577.5" cy="483.7" r="3.7"/><circle cx="545.5" cy="445.1" r="3.7"/><circle cx="592.3" cy="568.3" r="3.7"/><circle cx="561.3" cy="451.4" r="3.7"/><circle cx="583.8" cy="475.5" r="3.7"/><circle cx="652.2" cy="463.6" r="3.7"/><circle cx="566.5" cy="552.4" r="3.7"/><circle cx="539.9" cy="377.7" r="3.7"/><circle cx="608.0" cy="362.4" r="3.7"/><circle cx="635.0" cy="415.7" r="3.7"/><circle cx="575.5" cy="411.0" r="3.7"/><circle cx="570.9" cy="523.6" r="3.7"/><circle cx="581.0" cy="346.1" r="3.7"/><circle cx="562.4" cy="558.7" r="3.7"/><circle cx="623.5" cy="472.0" r="3.7"/><circle cx="553.9" cy="476.0" r="3.7"/><circle cx="620.7" cy="320.1" r="3.7"/><circle cx="561.0" cy="353.8" r="3.7"/><circle cx="593.6" cy="380.6" r="3.7"/><circle cx="523.2" cy="565.3" r="3.7"/><circle cx="631.8" cy="492.7" r="3.7"/><circle cx="566.6" cy="503.6" r="3.7"/><circle cx="552.6" cy="449.7" r="3.7"/><circle cx="577.8" cy="510.9" r="3.7"/><circle cx="553.3" cy="439.2" r="3.7"/><circle cx="630.5" cy="367.0" r="3.7"/><circle cx="604.2" cy="426.3" r="3.7"/><circle cx="581.7" cy="372.7" r="3.7"/><circle cx="531.5" cy="452.9" r="3.7"/><circle cx="542.9" cy="456.2" r="3.7"/><circle cx="556.7" cy="434.2" r="3.7"/><circle cx="600.2" cy="482.2" r="3.7"/><circle cx="581.5" cy="421.0" r="3.7"/><circle cx="605.0" cy="368.5" r="3.7"/><circle cx="592.8" cy="536.7" r="3.7"/><circle cx="536.6" cy="570.6" r="3.7"/><circle cx="653.5" cy="325.2" r="3.7"/><circle cx="666.0" cy="342.7" r="3.7"/><circle cx="567.0" cy="472.3" r="3.7"/><circle cx="544.3" cy="427.1" r="3.7"/><circle cx="616.0" cy="293.1" r="3.7"/><circle cx="591.1" cy="296.6" r="3.7"/><circle cx="568.0" cy="430.6" r="3.7"/><circle cx="546.6" cy="415.0" r="3.7"/><circle cx="536.7" cy="426.0" r="3.7"/><circle cx="551.2" cy="542.3" r="3.7"/><circle cx="588.7" cy="356.6" r="3.7"/><circle cx="594.1" cy="398.4" r="3.7"/><circle cx="593.3" cy="497.8" r="3.7"/><circle cx="556.2" cy="462.1" r="3.7"/><circle cx="538.7" cy="537.2" r="3.7"/><circle cx="594.1" cy="366.4" r="3.7"/><circle cx="539.1" cy="556.4" r="3.7"/><circle cx="531.9" cy="575.3" r="3.7"/><circle cx="561.1" cy="441.6" r="3.7"/><circle cx="652.1" cy="334.3" r="3.7"/><circle cx="558.4" cy="555.5" r="3.7"/><circle cx="591.6" cy="559.2" r="3.7"/><circle cx="538.0" cy="406.9" r="3.7"/><circle cx="533.4" cy="464.0" r="3.7"/><circle cx="536.5" cy="553.0" r="3.7"/><circle cx="560.9" cy="358.4" r="3.7"/><circle cx="566.4" cy="432.7" r="3.7"/><circle cx="528.0" cy="576.2" r="3.7"/><circle cx="559.6" cy="437.3" r="3.7"/><circle cx="582.2" cy="458.8" r="3.7"/><circle cx="550.5" cy="361.0" r="3.7"/><circle cx="578.2" cy="459.0" r="3.7"/><circle cx="538.6" cy="437.0" r="3.7"/><circle cx="575.2" cy="389.4" r="3.7"/><circle cx="599.9" cy="482.0" r="3.7"/><circle cx="623.0" cy="368.2" r="3.7"/><circle cx="563.5" cy="447.0" r="3.7"/><circle cx="532.4" cy="516.5" r="3.7"/><circle cx="519.0" cy="548.9" r="3.7"/><circle cx="689.1" cy="367.1" r="3.7"/><circle cx="560.5" cy="445.1" r="3.7"/><circle cx="557.6" cy="377.3" r="3.7"/><circle cx="591.0" cy="298.9" r="3.7"/><circle cx="591.6" cy="413.5" r="3.7"/><circle cx="565.4" cy="485.5" r="3.7"/><circle cx="597.1" cy="522.7" r="3.7"/><circle cx="612.7" cy="387.9" r="3.7"/><circle cx="546.2" cy="513.6" r="3.7"/><circle cx="556.1" cy="512.7" r="3.7"/><circle cx="583.9" cy="288.9" r="3.7"/><circle cx="580.4" cy="354.1" r="3.7"/><circle cx="585.2" cy="328.0" r="3.7"/><circle cx="554.6" cy="432.4" r="3.7"/><circle cx="523.7" cy="572.7" r="3.7"/><circle cx="540.8" cy="388.4" r="3.7"/><circle cx="543.7" cy="555.3" r="3.7"/><circle cx="578.2" cy="464.9" r="3.7"/><circle cx="556.4" cy="353.3" r="3.7"/><circle cx="533.0" cy="573.5" r="3.7"/><circle cx="556.9" cy="361.6" r="3.7"/><circle cx="677.1" cy="447.8" r="3.7"/><circle cx="615.4" cy="514.4" r="3.7"/><circle cx="553.6" cy="351.1" r="3.7"/><circle cx="557.1" cy="382.0" r="3.7"/><circle cx="575.8" cy="556.7" r="3.7"/><circle cx="568.5" cy="445.8" r="3.7"/><circle cx="537.3" cy="405.4" r="3.7"/><circle cx="540.2" cy="506.4" r="3.7"/><circle cx="526.9" cy="487.5" r="3.7"/><circle cx="585.7" cy="384.3" r="3.7"/><circle cx="603.3" cy="403.1" r="3.7"/><circle cx="549.6" cy="504.9" r="3.7"/><circle cx="635.1" cy="465.3" r="3.7"/><circle cx="588.7" cy="375.1" r="3.7"/><circle cx="575.3" cy="384.4" r="3.7"/><circle cx="544.3" cy="394.9" r="3.7"/><circle cx="551.0" cy="535.5" r="3.7"/><circle cx="520.1" cy="550.9" r="3.7"/><circle cx="587.7" cy="423.3" r="3.7"/><circle cx="525.9" cy="508.5" r="3.7"/><circle cx="539.6" cy="487.2" r="3.7"/><circle cx="566.9" cy="309.9" r="3.7"/><circle cx="581.2" cy="524.6" r="3.7"/><circle cx="558.7" cy="398.1" r="3.7"/><circle cx="539.0" cy="402.4" r="3.7"/><circle cx="538.3" cy="496.5" r="3.7"/><circle cx="570.0" cy="484.6" r="3.7"/><circle cx="525.9" cy="533.9" r="3.7"/><circle cx="561.7" cy="487.1" r="3.7"/><circle cx="611.5" cy="433.2" r="3.7"/><circle cx="562.9" cy="355.0" r="3.7"/><circle cx="576.9" cy="410.4" r="3.7"/><circle cx="580.4" cy="332.1" r="3.7"/><circle cx="552.9" cy="542.9" r="3.7"/><circle cx="519.0" cy="546.5" r="3.7"/><circle cx="537.5" cy="467.5" r="3.7"/><circle cx="537.2" cy="537.1" r="3.7"/><circle cx="559.2" cy="557.6" r="3.7"/><circle cx="565.5" cy="497.1" r="3.7"/><circle cx="610.3" cy="508.9" r="3.7"/><circle cx="554.3" cy="420.9" r="3.7"/><circle cx="536.5" cy="517.8" r="3.7"/><circle cx="535.2" cy="510.7" r="3.7"/><circle cx="552.5" cy="522.9" r="3.7"/><circle cx="532.2" cy="540.6" r="3.7"/><circle cx="593.3" cy="516.8" r="3.7"/><circle cx="566.2" cy="480.2" r="3.7"/><circle cx="594.4" cy="511.6" r="3.7"/><circle cx="536.7" cy="529.6" r="3.7"/><circle cx="578.2" cy="476.0" r="3.7"/><circle cx="631.4" cy="465.5" r="3.7"/><circle cx="619.0" cy="381.2" r="3.7"/><circle cx="581.2" cy="410.2" r="3.7"/><circle cx="546.1" cy="522.4" r="3.7"/><circle cx="560.3" cy="419.5" r="3.7"/><circle cx="605.6" cy="538.7" r="3.7"/><circle cx="578.7" cy="501.7" r="3.7"/><circle cx="562.1" cy="528.1" r="3.7"/><circle cx="610.9" cy="400.0" r="3.7"/><circle cx="567.0" cy="563.1" r="3.7"/><circle cx="630.5" cy="472.1" r="3.7"/><circle cx="591.7" cy="416.4" r="3.7"/><circle cx="567.2" cy="389.9" r="3.7"/><circle cx="565.7" cy="549.0" r="3.7"/><circle cx="636.2" cy="410.1" r="3.7"/><circle cx="562.6" cy="530.8" r="3.7"/><circle cx="565.7" cy="489.4" r="3.7"/><circle cx="573.0" cy="561.1" r="3.7"/><circle cx="569.2" cy="543.2" r="3.7"/><circle cx="592.3" cy="495.3" r="3.7"/><circle cx="668.1" cy="393.2" r="3.7"/><circle cx="544.5" cy="522.2" r="3.7"/><circle cx="607.3" cy="500.1" r="3.7"/><circle cx="597.0" cy="419.7" r="3.7"/><circle cx="575.7" cy="382.7" r="3.7"/><circle cx="540.9" cy="474.7" r="3.7"/><circle cx="579.1" cy="430.1" r="3.7"/><circle cx="568.9" cy="343.7" r="3.7"/><circle cx="540.5" cy="451.9" r="3.7"/><circle cx="588.5" cy="438.1" r="3.7"/><circle cx="606.0" cy="327.5" r="3.7"/><circle cx="537.2" cy="434.6" r="3.7"/><circle cx="588.2" cy="556.2" r="3.7"/><circle cx="545.4" cy="525.6" r="3.7"/><circle cx="551.8" cy="427.5" r="3.7"/><circle cx="651.0" cy="283.0" r="3.7"/><circle cx="602.0" cy="324.9" r="3.7"/><circle cx="645.2" cy="380.7" r="3.7"/><circle cx="563.5" cy="483.5" r="3.7"/><circle cx="582.8" cy="508.2" r="3.7"/><circle cx="550.1" cy="541.3" r="3.7"/><circle cx="644.9" cy="447.9" r="3.7"/><circle cx="585.5" cy="472.6" r="3.7"/><circle cx="584.5" cy="481.9" r="3.7"/><circle cx="533.4" cy="435.5" r="3.7"/><circle cx="583.4" cy="549.0" r="3.7"/><circle cx="563.7" cy="533.6" r="3.7"/><circle cx="527.7" cy="540.4" r="3.7"/><circle cx="553.5" cy="351.1" r="3.7"/><circle cx="581.6" cy="563.2" r="3.7"/><circle cx="605.5" cy="355.4" r="3.7"/><circle cx="546.6" cy="546.4" r="3.7"/><circle cx="626.8" cy="410.7" r="3.7"/><circle cx="533.2" cy="500.6" r="3.7"/><circle cx="630.0" cy="455.6" r="3.7"/><circle cx="577.2" cy="342.7" r="3.7"/><circle cx="594.0" cy="392.7" r="3.7"/><circle cx="573.3" cy="473.1" r="3.7"/><circle cx="584.3" cy="556.7" r="3.7"/><circle cx="598.8" cy="390.8" r="3.7"/><circle cx="593.5" cy="316.4" r="3.7"/><circle cx="562.3" cy="575.0" r="3.7"/><circle cx="578.5" cy="526.2" r="3.7"/><circle cx="539.1" cy="375.6" r="3.7"/><circle cx="550.7" cy="381.6" r="3.7"/><circle cx="583.6" cy="394.7" r="3.7"/><circle cx="617.9" cy="313.8" r="3.7"/><circle cx="573.2" cy="427.9" r="3.7"/><circle cx="588.3" cy="439.4" r="3.7"/><circle cx="589.8" cy="533.3" r="3.7"/><circle cx="540.5" cy="465.1" r="3.7"/><circle cx="527.0" cy="507.3" r="3.7"/><circle cx="578.7" cy="452.8" r="3.7"/><circle cx="553.6" cy="502.3" r="3.7"/><circle cx="590.6" cy="473.6" r="3.7"/><circle cx="552.2" cy="458.5" r="3.7"/><circle cx="687.5" cy="377.4" r="3.7"/><circle cx="581.9" cy="421.3" r="3.7"/><circle cx="551.0" cy="493.7" r="3.7"/><circle cx="610.3" cy="536.6" r="3.7"/><circle cx="631.3" cy="413.4" r="3.7"/><circle cx="582.7" cy="363.6" r="3.7"/><circle cx="551.8" cy="525.4" r="3.7"/><circle cx="586.3" cy="387.4" r="3.7"/><circle cx="548.8" cy="542.7" r="3.7"/><circle cx="573.0" cy="503.9" r="3.7"/><circle cx="549.0" cy="437.8" r="3.7"/><circle cx="551.4" cy="371.1" r="3.7"/><circle cx="623.8" cy="479.1" r="3.7"/><circle cx="578.5" cy="488.7" r="3.7"/><circle cx="582.2" cy="544.1" r="3.7"/><circle cx="609.0" cy="480.4" r="3.7"/><circle cx="544.9" cy="459.1" r="3.7"/><circle cx="650.2" cy="445.0" r="3.7"/><circle cx="651.4" cy="378.0" r="3.7"/><circle cx="546.3" cy="560.5" r="3.7"/><circle cx="577.3" cy="550.0" r="3.7"/><circle cx="539.3" cy="463.7" r="3.7"/><circle cx="582.2" cy="482.1" r="3.7"/><circle cx="560.4" cy="519.1" r="3.7"/><circle cx="598.5" cy="548.4" r="3.7"/><circle cx="567.6" cy="437.7" r="3.7"/><circle cx="655.1" cy="412.3" r="3.7"/><circle cx="578.8" cy="466.8" r="3.7"/><circle cx="563.9" cy="414.6" r="3.7"/><circle cx="576.1" cy="369.2" r="3.7"/><circle cx="561.4" cy="526.8" r="3.7"/><circle cx="570.5" cy="346.9" r="3.7"/><circle cx="602.2" cy="415.5" r="3.7"/><circle cx="629.4" cy="427.2" r="3.7"/><circle cx="602.4" cy="293.9" r="3.7"/><circle cx="543.0" cy="465.4" r="3.7"/><circle cx="655.9" cy="284.4" r="3.7"/><circle cx="573.9" cy="369.3" r="3.7"/><circle cx="539.7" cy="397.1" r="3.7"/><circle cx="566.9" cy="374.0" r="3.7"/><circle cx="644.1" cy="419.3" r="3.7"/><circle cx="660.9" cy="282.6" r="3.7"/><circle cx="539.5" cy="475.2" r="3.7"/><circle cx="568.1" cy="331.1" r="3.7"/><circle cx="640.1" cy="508.6" r="3.7"/><circle cx="546.6" cy="563.1" r="3.7"/><circle cx="570.5" cy="538.1" r="3.7"/><circle cx="569.3" cy="463.8" r="3.7"/><circle cx="568.9" cy="400.0" r="3.7"/><circle cx="535.9" cy="450.8" r="3.7"/><circle cx="653.0" cy="297.5" r="3.7"/><circle cx="608.5" cy="347.7" r="3.7"/><circle cx="538.2" cy="561.3" r="3.7"/><circle cx="578.3" cy="298.9" r="3.7"/><circle cx="535.5" cy="552.2" r="3.7"/><circle cx="571.6" cy="497.6" r="3.7"/><circle cx="590.6" cy="459.5" r="3.7"/><circle cx="525.7" cy="572.4" r="3.7"/><circle cx="530.9" cy="572.4" r="3.7"/><circle cx="543.6" cy="540.0" r="3.7"/><circle cx="550.9" cy="435.8" r="3.7"/><circle cx="552.8" cy="458.5" r="3.7"/><circle cx="546.2" cy="485.7" r="3.7"/><circle cx="530.8" cy="478.3" r="3.7"/><circle cx="609.6" cy="483.1" r="3.7"/><circle cx="531.8" cy="495.8" r="3.7"/><circle cx="541.1" cy="382.2" r="3.7"/><circle cx="578.9" cy="471.3" r="3.7"/><circle cx="550.0" cy="477.9" r="3.7"/><circle cx="607.3" cy="522.3" r="3.7"/><circle cx="580.5" cy="493.7" r="3.7"/><circle cx="571.5" cy="517.5" r="3.7"/><circle cx="554.2" cy="385.3" r="3.7"/><circle cx="571.8" cy="476.9" r="3.7"/><circle cx="615.6" cy="517.5" r="3.7"/><circle cx="562.9" cy="413.7" r="3.7"/><circle cx="552.0" cy="418.5" r="3.7"/><circle cx="580.9" cy="399.5" r="3.7"/><circle cx="598.4" cy="490.6" r="3.7"/><circle cx="574.4" cy="358.1" r="3.7"/><circle cx="526.3" cy="499.8" r="3.7"/><circle cx="573.7" cy="521.2" r="3.7"/><circle cx="555.0" cy="534.8" r="3.7"/><circle cx="611.7" cy="431.8" r="3.7"/><circle cx="604.3" cy="348.6" r="3.7"/><circle cx="565.3" cy="428.6" r="3.7"/><circle cx="554.6" cy="540.2" r="3.7"/><circle cx="554.6" cy="499.7" r="3.7"/><circle cx="557.6" cy="524.5" r="3.7"/><circle cx="583.5" cy="497.3" r="3.7"/><circle cx="562.6" cy="462.1" r="3.7"/><circle cx="549.2" cy="419.4" r="3.7"/><circle cx="536.6" cy="438.0" r="3.7"/><circle cx="543.1" cy="376.0" r="3.7"/><circle cx="591.9" cy="502.2" r="3.7"/><circle cx="534.4" cy="527.1" r="3.7"/><circle cx="545.4" cy="461.0" r="3.7"/><circle cx="586.2" cy="331.0" r="3.7"/><circle cx="554.9" cy="555.2" r="3.7"/><circle cx="578.8" cy="553.5" r="3.7"/><circle cx="587.3" cy="423.2" r="3.7"/><circle cx="569.8" cy="510.8" r="3.7"/><circle cx="559.1" cy="421.9" r="3.7"/><circle cx="639.8" cy="294.1" r="3.7"/><circle cx="556.4" cy="382.9" r="3.7"/><circle cx="644.9" cy="404.1" r="3.7"/><circle cx="589.0" cy="493.3" r="3.7"/><circle cx="564.6" cy="559.1" r="3.7"/><circle cx="575.4" cy="355.8" r="3.7"/><circle cx="569.1" cy="512.5" r="3.7"/><circle cx="575.9" cy="554.4" r="3.7"/><circle cx="569.4" cy="563.2" r="3.7"/><circle cx="535.0" cy="511.5" r="3.7"/><circle cx="540.2" cy="505.3" r="3.7"/><circle cx="567.5" cy="359.6" r="3.7"/><circle cx="535.3" cy="522.7" r="3.7"/><circle cx="565.5" cy="381.1" r="3.7"/><circle cx="550.9" cy="575.6" r="3.7"/><circle cx="559.7" cy="467.7" r="3.7"/><circle cx="600.4" cy="504.2" r="3.7"/><circle cx="521.3" cy="524.8" r="3.7"/><circle cx="570.4" cy="375.2" r="3.7"/><circle cx="553.0" cy="514.7" r="3.7"/><circle cx="588.8" cy="362.9" r="3.7"/><circle cx="616.0" cy="306.5" r="3.7"/><circle cx="565.9" cy="573.6" r="3.7"/><circle cx="545.6" cy="531.3" r="3.7"/><circle cx="559.2" cy="381.9" r="3.7"/><circle cx="577.7" cy="543.0" r="3.7"/><circle cx="540.1" cy="516.9" r="3.7"/><circle cx="554.4" cy="522.8" r="3.7"/><circle cx="556.4" cy="470.8" r="3.7"/><circle cx="573.3" cy="355.4" r="3.7"/><circle cx="625.4" cy="304.9" r="3.7"/><circle cx="541.8" cy="553.3" r="3.7"/><circle cx="571.8" cy="494.5" r="3.7"/><circle cx="583.2" cy="518.1" r="3.7"/><circle cx="573.9" cy="425.0" r="3.7"/><circle cx="548.3" cy="384.2" r="3.7"/><circle cx="535.6" cy="462.8" r="3.7"/><circle cx="590.9" cy="552.2" r="3.7"/><circle cx="597.6" cy="472.6" r="3.7"/><circle cx="540.1" cy="508.0" r="3.7"/><circle cx="559.5" cy="418.8" r="3.7"/><circle cx="570.6" cy="496.5" r="3.7"/><circle cx="621.0" cy="365.1" r="3.7"/><circle cx="551.3" cy="463.8" r="3.7"/><circle cx="558.0" cy="354.5" r="3.7"/><circle cx="540.4" cy="555.7" r="3.7"/><circle cx="529.9" cy="483.4" r="3.7"/><circle cx="580.3" cy="440.3" r="3.7"/><circle cx="572.6" cy="512.5" r="3.7"/><circle cx="549.4" cy="449.8" r="3.7"/><circle cx="590.3" cy="558.6" r="3.7"/><circle cx="660.9" cy="425.6" r="3.7"/><circle cx="565.3" cy="381.3" r="3.7"/><circle cx="554.8" cy="376.2" r="3.7"/><circle cx="587.2" cy="309.2" r="3.7"/><circle cx="589.9" cy="472.4" r="3.7"/><circle cx="628.3" cy="403.3" r="3.7"/><circle cx="533.0" cy="492.4" r="3.7"/><circle cx="559.6" cy="419.9" r="3.7"/><circle cx="591.5" cy="535.4" r="3.7"/><circle cx="575.7" cy="325.3" r="3.7"/><circle cx="577.8" cy="427.8" r="3.7"/><circle cx="658.7" cy="337.0" r="3.7"/><circle cx="613.8" cy="438.3" r="3.7"/><circle cx="594.0" cy="463.7" r="3.7"/><circle cx="569.8" cy="534.8" r="3.7"/><circle cx="552.4" cy="400.4" r="3.7"/><circle cx="570.5" cy="371.1" r="3.7"/><circle cx="526.1" cy="527.5" r="3.7"/><circle cx="528.7" cy="494.4" r="3.7"/><circle cx="559.2" cy="393.4" r="3.7"/><circle cx="597.6" cy="325.4" r="3.7"/><circle cx="619.1" cy="412.9" r="3.7"/><circle cx="586.4" cy="439.2" r="3.7"/><circle cx="638.0" cy="411.3" r="3.7"/><circle cx="580.4" cy="494.0" r="3.7"/><circle cx="552.0" cy="478.3" r="3.7"/><circle cx="569.0" cy="535.1" r="3.7"/><circle cx="547.7" cy="390.0" r="3.7"/><circle cx="578.0" cy="428.9" r="3.7"/><circle cx="636.3" cy="488.8" r="3.7"/><circle cx="683.4" cy="418.2" r="3.7"/><circle cx="542.9" cy="364.2" r="3.7"/><circle cx="566.2" cy="511.7" r="3.7"/><circle cx="556.7" cy="520.6" r="3.7"/><circle cx="590.6" cy="512.7" r="3.7"/><circle cx="566.4" cy="512.5" r="3.7"/><circle cx="570.8" cy="565.8" r="3.7"/><circle cx="613.4" cy="509.9" r="3.7"/><circle cx="679.5" cy="381.1" r="3.7"/><circle cx="530.8" cy="553.7" r="3.7"/><circle cx="573.3" cy="568.8" r="3.7"/><circle cx="576.8" cy="413.7" r="3.7"/><circle cx="582.9" cy="457.2" r="3.7"/><circle cx="547.6" cy="432.1" r="3.7"/><circle cx="530.4" cy="525.8" r="3.7"/><circle cx="534.1" cy="435.9" r="3.7"/><circle cx="531.2" cy="544.3" r="3.7"/><circle cx="598.1" cy="376.4" r="3.7"/><circle cx="557.4" cy="520.8" r="3.7"/><circle cx="573.0" cy="540.5" r="3.7"/><circle cx="593.8" cy="514.9" r="3.7"/><circle cx="621.6" cy="290.8" r="3.7"/><circle cx="531.7" cy="502.6" r="3.7"/><circle cx="523.2" cy="517.9" r="3.7"/><circle cx="579.8" cy="436.4" r="3.7"/><circle cx="673.9" cy="309.6" r="3.7"/><circle cx="573.2" cy="518.4" r="3.7"/><circle cx="569.8" cy="455.8" r="3.7"/><circle cx="554.4" cy="409.8" r="3.7"/><circle cx="538.2" cy="431.7" r="3.7"/><circle cx="628.5" cy="377.4" r="3.7"/><circle cx="590.0" cy="424.2" r="3.7"/><circle cx="615.6" cy="389.0" r="3.7"/><circle cx="547.5" cy="538.4" r="3.7"/><circle cx="583.8" cy="552.7" r="3.7"/><circle cx="558.9" cy="345.6" r="3.7"/><circle cx="560.8" cy="534.3" r="3.7"/><circle cx="522.1" cy="557.7" r="3.7"/><circle cx="609.4" cy="437.2" r="3.7"/><circle cx="694.8" cy="325.9" r="3.7"/><circle cx="560.1" cy="343.4" r="3.7"/><circle cx="554.0" cy="392.3" r="3.7"/><circle cx="612.2" cy="477.1" r="3.7"/><circle cx="559.6" cy="451.9" r="3.7"/><circle cx="582.6" cy="551.9" r="3.7"/><circle cx="575.8" cy="346.9" r="3.7"/><circle cx="585.4" cy="425.7" r="3.7"/><circle cx="592.8" cy="443.9" r="3.7"/><circle cx="549.2" cy="362.7" r="3.7"/><circle cx="554.3" cy="471.1" r="3.7"/><circle cx="587.6" cy="397.9" r="3.7"/><circle cx="600.2" cy="359.5" r="3.7"/><circle cx="630.2" cy="369.6" r="3.7"/><circle cx="595.5" cy="479.3" r="3.7"/><circle cx="561.0" cy="516.3" r="3.7"/><circle cx="590.4" cy="344.1" r="3.7"/><circle cx="546.0" cy="552.0" r="3.7"/><circle cx="541.8" cy="420.7" r="3.7"/><circle cx="573.0" cy="553.7" r="3.7"/><circle cx="584.1" cy="492.6" r="3.7"/><circle cx="564.4" cy="521.4" r="3.7"/><circle cx="562.4" cy="403.8" r="3.7"/><circle cx="540.7" cy="470.6" r="3.7"/><circle cx="572.8" cy="563.1" r="3.7"/><circle cx="584.9" cy="564.3" r="3.7"/><circle cx="583.6" cy="361.8" r="3.7"/><circle cx="526.7" cy="567.7" r="3.7"/><circle cx="581.4" cy="501.5" r="3.7"/><circle cx="567.9" cy="446.3" r="3.7"/><circle cx="609.9" cy="451.5" r="3.7"/><circle cx="543.9" cy="525.3" r="3.7"/><circle cx="546.7" cy="448.6" r="3.7"/><circle cx="580.0" cy="571.3" r="3.7"/><circle cx="584.2" cy="508.8" r="3.7"/><circle cx="539.8" cy="527.2" r="3.7"/><circle cx="540.0" cy="554.6" r="3.7"/><circle cx="632.9" cy="329.1" r="3.7"/><circle cx="570.1" cy="525.8" r="3.7"/><circle cx="595.0" cy="492.3" r="3.7"/><circle cx="570.1" cy="359.8" r="3.7"/><circle cx="629.8" cy="383.4" r="3.7"/><circle cx="529.4" cy="486.6" r="3.7"/><circle cx="579.9" cy="546.0" r="3.7"/><circle cx="554.3" cy="534.1" r="3.7"/><circle cx="528.5" cy="513.3" r="3.7"/><circle cx="545.4" cy="477.9" r="3.7"/><circle cx="562.4" cy="348.6" r="3.7"/><circle cx="546.0" cy="359.0" r="3.7"/><circle cx="573.3" cy="344.8" r="3.7"/><circle cx="550.5" cy="461.7" r="3.7"/><circle cx="560.2" cy="361.6" r="3.7"/><circle cx="582.1" cy="369.2" r="3.7"/><circle cx="541.3" cy="370.7" r="3.7"/><circle cx="547.5" cy="439.7" r="3.7"/><circle cx="583.8" cy="415.9" r="3.7"/><circle cx="569.6" cy="438.3" r="3.7"/><circle cx="582.6" cy="500.0" r="3.7"/><circle cx="592.8" cy="460.6" r="3.7"/><circle cx="547.6" cy="473.0" r="3.7"/><circle cx="528.6" cy="536.8" r="3.7"/><circle cx="614.6" cy="531.2" r="3.7"/><circle cx="592.9" cy="424.8" r="3.7"/><circle cx="536.5" cy="417.0" r="3.7"/><circle cx="576.5" cy="464.2" r="3.7"/><circle cx="527.2" cy="561.8" r="3.7"/><circle cx="617.1" cy="304.9" r="3.7"/><circle cx="554.3" cy="400.7" r="3.7"/><circle cx="549.0" cy="556.9" r="3.7"/><circle cx="566.8" cy="348.2" r="3.7"/><circle cx="543.9" cy="542.8" r="3.7"/><circle cx="557.4" cy="566.7" r="3.7"/><circle cx="554.9" cy="553.2" r="3.7"/><circle cx="628.7" cy="360.9" r="3.7"/><circle cx="556.2" cy="392.6" r="3.7"/><circle cx="649.2" cy="429.3" r="3.7"/><circle cx="549.9" cy="540.5" r="3.7"/><circle cx="631.9" cy="421.3" r="3.7"/><circle cx="551.6" cy="458.1" r="3.7"/><circle cx="542.7" cy="372.3" r="3.7"/><circle cx="562.3" cy="570.9" r="3.7"/><circle cx="558.6" cy="437.2" r="3.7"/><circle cx="592.9" cy="455.8" r="3.7"/><circle cx="640.0" cy="292.3" r="3.7"/><circle cx="560.8" cy="379.6" r="3.7"/><circle cx="536.5" cy="465.5" r="3.7"/><circle cx="568.0" cy="514.3" r="3.7"/><circle cx="566.9" cy="360.1" r="3.7"/><circle cx="557.5" cy="452.9" r="3.7"/><circle cx="572.5" cy="390.1" r="3.7"/><circle cx="516.9" cy="570.6" r="3.7"/><circle cx="558.7" cy="550.1" r="3.7"/><circle cx="587.8" cy="378.9" r="3.7"/><circle cx="540.8" cy="418.5" r="3.7"/><circle cx="642.8" cy="314.6" r="3.7"/><circle cx="578.9" cy="352.5" r="3.7"/><circle cx="564.0" cy="535.0" r="3.7"/><circle cx="540.7" cy="506.8" r="3.7"/><circle cx="589.9" cy="480.4" r="3.7"/><circle cx="567.6" cy="500.5" r="3.7"/><circle cx="556.1" cy="504.3" r="3.7"/><circle cx="518.2" cy="555.2" r="3.7"/><circle cx="546.6" cy="434.9" r="3.7"/><circle cx="587.3" cy="493.9" r="3.7"/><circle cx="594.1" cy="478.5" r="3.7"/><circle cx="542.0" cy="414.8" r="3.7"/><circle cx="524.1" cy="545.9" r="3.7"/><circle cx="571.4" cy="439.4" r="3.7"/><circle cx="563.4" cy="365.6" r="3.7"/><circle cx="621.0" cy="283.0" r="3.7"/><circle cx="574.4" cy="450.4" r="3.7"/><circle cx="525.2" cy="544.5" r="3.7"/><circle cx="590.4" cy="475.9" r="3.7"/><circle cx="570.3" cy="576.3" r="3.7"/><circle cx="525.4" cy="524.0" r="3.7"/><circle cx="557.1" cy="495.0" r="3.7"/><circle cx="549.8" cy="545.7" r="3.7"/><circle cx="566.4" cy="561.4" r="3.7"/><circle cx="562.9" cy="408.1" r="3.7"/><circle cx="616.7" cy="477.9" r="3.7"/><circle cx="598.2" cy="467.7" r="3.7"/><circle cx="551.3" cy="514.5" r="3.7"/><circle cx="550.3" cy="407.3" r="3.7"/><circle cx="594.6" cy="450.2" r="3.7"/><circle cx="583.5" cy="502.5" r="3.7"/><circle cx="576.4" cy="450.5" r="3.7"/><circle cx="650.4" cy="370.2" r="3.7"/><circle cx="623.4" cy="521.6" r="3.7"/><circle cx="657.5" cy="463.1" r="3.7"/><circle cx="582.0" cy="499.7" r="3.7"/><circle cx="585.3" cy="384.8" r="3.7"/><circle cx="613.6" cy="464.2" r="3.7"/><circle cx="554.8" cy="553.5" r="3.7"/><circle cx="605.2" cy="471.3" r="3.7"/><circle cx="559.2" cy="346.3" r="3.7"/><circle cx="549.8" cy="489.7" r="3.7"/><circle cx="575.1" cy="425.0" r="3.7"/><circle cx="616.7" cy="411.3" r="3.7"/><circle cx="585.3" cy="532.7" r="3.7"/><circle cx="634.9" cy="486.7" r="3.7"/><circle cx="518.2" cy="576.8" r="3.7"/><circle cx="642.9" cy="339.0" r="3.7"/><circle cx="593.0" cy="427.8" r="3.7"/><circle cx="588.7" cy="405.5" r="3.7"/><circle cx="543.9" cy="444.6" r="3.7"/><circle cx="628.9" cy="445.9" r="3.7"/><circle cx="611.0" cy="457.0" r="3.7"/><circle cx="623.1" cy="406.6" r="3.7"/><circle cx="645.8" cy="288.9" r="3.7"/><circle cx="635.2" cy="426.2" r="3.7"/><circle cx="566.5" cy="322.2" r="3.7"/><circle cx="590.1" cy="475.4" r="3.7"/><circle cx="581.7" cy="384.2" r="3.7"/><circle cx="534.1" cy="499.4" r="3.7"/><circle cx="537.8" cy="471.3" r="3.7"/><circle cx="538.4" cy="560.6" r="3.7"/><circle cx="553.0" cy="502.2" r="3.7"/><circle cx="560.5" cy="427.0" r="3.7"/><circle cx="532.9" cy="527.1" r="3.7"/><circle cx="538.6" cy="482.2" r="3.7"/><circle cx="681.5" cy="410.8" r="3.7"/><circle cx="572.2" cy="488.3" r="3.7"/><circle cx="554.7" cy="436.8" r="3.7"/><circle cx="577.8" cy="417.0" r="3.7"/><circle cx="570.7" cy="388.7" r="3.7"/><circle cx="594.8" cy="523.7" r="3.7"/><circle cx="524.5" cy="515.7" r="3.7"/><circle cx="582.7" cy="416.6" r="3.7"/><circle cx="648.8" cy="471.6" r="3.7"/><circle cx="548.6" cy="437.7" r="3.7"/><circle cx="638.4" cy="396.7" r="3.7"/><circle cx="564.7" cy="498.5" r="3.7"/><circle cx="678.0" cy="471.9" r="3.7"/><circle cx="611.4" cy="419.9" r="3.7"/><circle cx="574.1" cy="383.9" r="3.7"/><circle cx="542.3" cy="401.7" r="3.7"/><circle cx="637.4" cy="295.7" r="3.7"/><circle cx="596.0" cy="468.8" r="3.7"/><circle cx="545.2" cy="491.4" r="3.7"/><circle cx="575.9" cy="429.5" r="3.7"/><circle cx="540.9" cy="409.7" r="3.7"/><circle cx="584.1" cy="480.6" r="3.7"/><circle cx="592.9" cy="493.7" r="3.7"/><circle cx="665.6" cy="312.7" r="3.7"/><circle cx="588.8" cy="467.2" r="3.7"/><circle cx="628.7" cy="311.9" r="3.7"/><circle cx="577.4" cy="506.7" r="3.7"/><circle cx="589.9" cy="471.0" r="3.7"/><circle cx="660.6" cy="358.1" r="3.7"/><circle cx="603.0" cy="383.3" r="3.7"/><circle cx="627.0" cy="329.3" r="3.7"/><circle cx="533.1" cy="472.2" r="3.7"/><circle cx="562.9" cy="351.4" r="3.7"/><circle cx="611.9" cy="480.4" r="3.7"/><circle cx="528.6" cy="499.2" r="3.7"/><circle cx="517.9" cy="568.2" r="3.7"/><circle cx="692.1" cy="334.8" r="3.7"/><circle cx="601.7" cy="533.7" r="3.7"/><circle cx="617.2" cy="455.0" r="3.7"/><circle cx="571.0" cy="358.2" r="3.7"/><circle cx="625.3" cy="493.8" r="3.7"/><circle cx="548.9" cy="373.2" r="3.7"/><circle cx="636.7" cy="398.4" r="3.7"/><circle cx="549.0" cy="565.2" r="3.7"/><circle cx="590.1" cy="370.9" r="3.7"/><circle cx="579.3" cy="448.7" r="3.7"/><circle cx="567.2" cy="418.5" r="3.7"/><circle cx="566.6" cy="460.0" r="3.7"/><circle cx="529.1" cy="540.9" r="3.7"/><circle cx="538.5" cy="533.7" r="3.7"/><circle cx="583.3" cy="341.9" r="3.7"/><circle cx="531.6" cy="576.5" r="3.7"/><circle cx="550.8" cy="381.6" r="3.7"/><circle cx="580.2" cy="549.5" r="3.7"/><circle cx="538.1" cy="571.6" r="3.7"/><circle cx="588.6" cy="310.6" r="3.7"/><circle cx="551.0" cy="570.6" r="3.7"/><circle cx="600.7" cy="318.6" r="3.7"/><circle cx="568.4" cy="349.0" r="3.7"/><circle cx="547.4" cy="383.3" r="3.7"/><circle cx="576.3" cy="410.3" r="3.7"/><circle cx="670.2" cy="432.5" r="3.7"/><circle cx="572.2" cy="468.8" r="3.7"/><circle cx="525.3" cy="525.4" r="3.7"/><circle cx="534.3" cy="510.9" r="3.7"/><circle cx="559.7" cy="512.0" r="3.7"/><circle cx="616.4" cy="509.7" r="3.7"/><circle cx="575.8" cy="491.9" r="3.7"/><circle cx="591.3" cy="547.2" r="3.7"/><circle cx="607.1" cy="367.7" r="3.7"/><circle cx="589.8" cy="468.4" r="3.7"/><circle cx="565.4" cy="434.2" r="3.7"/><circle cx="626.9" cy="357.1" r="3.7"/><circle cx="630.2" cy="356.6" r="3.7"/><circle cx="556.0" cy="425.7" r="3.7"/><circle cx="623.9" cy="317.1" r="3.7"/><circle cx="633.4" cy="382.5" r="3.7"/><circle cx="547.7" cy="432.5" r="3.7"/><circle cx="526.3" cy="548.3" r="3.7"/><circle cx="581.3" cy="373.7" r="3.7"/><circle cx="525.7" cy="497.2" r="3.7"/><circle cx="576.0" cy="424.1" r="3.7"/><circle cx="596.9" cy="527.1" r="3.7"/><circle cx="605.0" cy="433.0" r="3.7"/><circle cx="620.2" cy="381.7" r="3.7"/><circle cx="615.6" cy="415.5" r="3.7"/><circle cx="540.7" cy="433.7" r="3.7"/><circle cx="582.6" cy="519.6" r="3.7"/><circle cx="592.2" cy="417.6" r="3.7"/><circle cx="609.0" cy="405.2" r="3.7"/><circle cx="595.4" cy="565.9" r="3.7"/><circle cx="592.2" cy="421.8" r="3.7"/><circle cx="558.0" cy="550.8" r="3.7"/><circle cx="580.6" cy="304.7" r="3.7"/><circle cx="562.1" cy="364.0" r="3.7"/><circle cx="525.5" cy="534.0" r="3.7"/><circle cx="564.3" cy="481.0" r="3.7"/><circle cx="559.5" cy="444.6" r="3.7"/><circle cx="573.9" cy="513.6" r="3.7"/><circle cx="567.9" cy="557.9" r="3.7"/><circle cx="547.8" cy="474.9" r="3.7"/><circle cx="613.4" cy="294.0" r="3.7"/><circle cx="561.2" cy="576.4" r="3.7"/><circle cx="679.8" cy="380.2" r="3.7"/><circle cx="582.7" cy="335.8" r="3.7"/><circle cx="544.9" cy="431.9" r="3.7"/><circle cx="591.5" cy="483.6" r="3.7"/><circle cx="561.4" cy="500.4" r="3.7"/><circle cx="525.8" cy="564.8" r="3.7"/><circle cx="607.6" cy="526.4" r="3.7"/><circle cx="568.9" cy="404.8" r="3.7"/><circle cx="599.5" cy="468.0" r="3.7"/><circle cx="547.8" cy="523.6" r="3.7"/><circle cx="585.2" cy="553.9" r="3.7"/><circle cx="557.8" cy="410.2" r="3.7"/><circle cx="542.3" cy="471.4" r="3.7"/><circle cx="538.0" cy="559.9" r="3.7"/><circle cx="585.2" cy="520.3" r="3.7"/><circle cx="531.1" cy="557.4" r="3.7"/><circle cx="527.4" cy="542.7" r="3.7"/><circle cx="564.4" cy="474.5" r="3.7"/><circle cx="689.0" cy="340.7" r="3.7"/><circle cx="532.8" cy="489.6" r="3.7"/><circle cx="603.7" cy="407.9" r="3.7"/><circle cx="540.8" cy="495.7" r="3.7"/><circle cx="556.0" cy="528.8" r="3.7"/><circle cx="586.7" cy="394.2" r="3.7"/><circle cx="578.8" cy="523.7" r="3.7"/><circle cx="564.0" cy="462.2" r="3.7"/><circle cx="553.2" cy="391.5" r="3.7"/><circle cx="550.7" cy="392.6" r="3.7"/><circle cx="614.4" cy="460.0" r="3.7"/><circle cx="566.6" cy="464.3" r="3.7"/><circle cx="605.3" cy="283.8" r="3.7"/><circle cx="588.6" cy="358.8" r="3.7"/><circle cx="591.5" cy="513.9" r="3.7"/><circle cx="572.2" cy="305.4" r="3.7"/><circle cx="579.3" cy="427.8" r="3.7"/><circle cx="552.4" cy="556.3" r="3.7"/><circle cx="569.9" cy="512.5" r="3.7"/><circle cx="560.7" cy="380.4" r="3.7"/><circle cx="542.2" cy="476.3" r="3.7"/><circle cx="545.7" cy="364.0" r="3.7"/><circle cx="602.3" cy="468.3" r="3.7"/><circle cx="578.9" cy="476.5" r="3.7"/><circle cx="569.9" cy="546.9" r="3.7"/><circle cx="605.8" cy="475.5" r="3.7"/><circle cx="617.5" cy="426.5" r="3.7"/><circle cx="550.9" cy="514.4" r="3.7"/><circle cx="584.9" cy="445.4" r="3.7"/><circle cx="597.8" cy="421.5" r="3.7"/><circle cx="558.4" cy="356.9" r="3.7"/><circle cx="562.5" cy="398.2" r="3.7"/><circle cx="563.0" cy="334.0" r="3.7"/><circle cx="584.0" cy="349.4" r="3.7"/><circle cx="615.7" cy="421.8" r="3.7"/><circle cx="555.8" cy="387.2" r="3.7"/><circle cx="547.0" cy="455.1" r="3.7"/><circle cx="557.0" cy="485.9" r="3.7"/><circle cx="558.1" cy="493.1" r="3.7"/><circle cx="574.5" cy="398.6" r="3.7"/><circle cx="558.9" cy="494.4" r="3.7"/><circle cx="589.0" cy="297.8" r="3.7"/><circle cx="579.0" cy="349.6" r="3.7"/><circle cx="579.2" cy="488.1" r="3.7"/><circle cx="523.5" cy="530.1" r="3.7"/><circle cx="578.7" cy="488.3" r="3.7"/><circle cx="549.2" cy="367.5" r="3.7"/><circle cx="555.4" cy="467.0" r="3.7"/><circle cx="557.8" cy="461.5" r="3.7"/><circle cx="583.4" cy="518.8" r="3.7"/><circle cx="583.0" cy="436.8" r="3.7"/><circle cx="538.4" cy="507.3" r="3.7"/><circle cx="529.2" cy="499.6" r="3.7"/><circle cx="535.8" cy="408.9" r="3.7"/><circle cx="557.4" cy="399.0" r="3.7"/><circle cx="546.5" cy="388.3" r="3.7"/><circle cx="686.3" cy="457.0" r="3.7"/><circle cx="548.2" cy="374.1" r="3.7"/><circle cx="571.1" cy="561.1" r="3.7"/><circle cx="606.4" cy="335.0" r="3.7"/><circle cx="598.1" cy="413.5" r="3.7"/><circle cx="576.2" cy="469.5" r="3.7"/><circle cx="581.3" cy="512.3" r="3.7"/><circle cx="577.0" cy="444.8" r="3.7"/><circle cx="553.4" cy="405.7" r="3.7"/><circle cx="545.6" cy="540.2" r="3.7"/><circle cx="544.2" cy="537.4" r="3.7"/><circle cx="522.4" cy="532.1" r="3.7"/><circle cx="621.4" cy="488.6" r="3.7"/><circle cx="561.8" cy="354.5" r="3.7"/><circle cx="670.5" cy="326.9" r="3.7"/><circle cx="649.2" cy="333.5" r="3.7"/><circle cx="561.9" cy="454.8" r="3.7"/><circle cx="535.6" cy="534.8" r="3.7"/><circle cx="558.3" cy="527.7" r="3.7"/><circle cx="532.9" cy="492.1" r="3.7"/><circle cx="540.8" cy="491.7" r="3.7"/><circle cx="629.9" cy="307.6" r="3.7"/><circle cx="539.1" cy="523.6" r="3.7"/><circle cx="636.0" cy="299.6" r="3.7"/><circle cx="613.9" cy="423.2" r="3.7"/><circle cx="550.4" cy="517.9" r="3.7"/><circle cx="596.0" cy="480.1" r="3.7"/><circle cx="557.3" cy="497.3" r="3.7"/><circle cx="559.3" cy="347.7" r="3.7"/><circle cx="586.6" cy="500.9" r="3.7"/><circle cx="539.1" cy="396.1" r="3.7"/><circle cx="622.3" cy="390.4" r="3.7"/><circle cx="560.8" cy="371.8" r="3.7"/><circle cx="557.1" cy="510.5" r="3.7"/><circle cx="567.1" cy="521.0" r="3.7"/><circle cx="538.6" cy="570.2" r="3.7"/><circle cx="654.0" cy="289.9" r="3.7"/><circle cx="548.7" cy="407.7" r="3.7"/><circle cx="552.6" cy="551.8" r="3.7"/><circle cx="573.3" cy="541.7" r="3.7"/><circle cx="561.3" cy="405.3" r="3.7"/><circle cx="565.4" cy="428.4" r="3.7"/><circle cx="558.4" cy="531.4" r="3.7"/><circle cx="607.8" cy="503.1" r="3.7"/><circle cx="615.1" cy="414.2" r="3.7"/><circle cx="564.9" cy="559.3" r="3.7"/><circle cx="554.5" cy="553.4" r="3.7"/><circle cx="563.3" cy="354.4" r="3.7"/><circle cx="552.2" cy="448.8" r="3.7"/><circle cx="560.7" cy="424.7" r="3.7"/><circle cx="568.2" cy="557.8" r="3.7"/><circle cx="593.5" cy="459.6" r="3.7"/><circle cx="528.8" cy="499.6" r="3.7"/><circle cx="576.4" cy="551.2" r="3.7"/><circle cx="581.0" cy="508.3" r="3.7"/><circle cx="542.7" cy="390.5" r="3.7"/><circle cx="577.9" cy="481.3" r="3.7"/><circle cx="598.4" cy="507.2" r="3.7"/><circle cx="589.7" cy="539.9" r="3.7"/><circle cx="529.6" cy="538.4" r="3.7"/><circle cx="538.5" cy="536.2" r="3.7"/><circle cx="645.7" cy="336.3" r="3.7"/><circle cx="541.4" cy="436.2" r="3.7"/><circle cx="571.3" cy="288.7" r="3.7"/><circle cx="631.1" cy="343.4" r="3.7"/><circle cx="591.0" cy="444.1" r="3.7"/><circle cx="571.3" cy="471.0" r="3.7"/><circle cx="643.5" cy="440.4" r="3.7"/><circle cx="582.7" cy="502.6" r="3.7"/><circle cx="586.6" cy="565.2" r="3.7"/><circle cx="607.3" cy="495.4" r="3.7"/><circle cx="551.1" cy="356.4" r="3.7"/><circle cx="561.8" cy="486.6" r="3.7"/><circle cx="570.4" cy="511.0" r="3.7"/><circle cx="569.4" cy="449.1" r="3.7"/><circle cx="541.0" cy="515.4" r="3.7"/><circle cx="623.8" cy="333.1" r="3.7"/><circle cx="665.3" cy="340.6" r="3.7"/><circle cx="565.7" cy="526.5" r="3.7"/><circle cx="531.9" cy="551.0" r="3.7"/><circle cx="540.3" cy="407.3" r="3.7"/><circle cx="529.4" cy="560.9" r="3.7"/><circle cx="561.1" cy="442.0" r="3.7"/><circle cx="535.9" cy="506.2" r="3.7"/><circle cx="559.4" cy="526.3" r="3.7"/><circle cx="557.8" cy="432.1" r="3.7"/><circle cx="565.7" cy="545.2" r="3.7"/><circle cx="548.6" cy="561.5" r="3.7"/><circle cx="614.3" cy="314.1" r="3.7"/><circle cx="562.2" cy="424.9" r="3.7"/><circle cx="582.5" cy="540.0" r="3.7"/><circle cx="574.3" cy="371.3" r="3.7"/><circle cx="585.9" cy="337.8" r="3.7"/><circle cx="688.7" cy="431.9" r="3.7"/><circle cx="551.2" cy="394.3" r="3.7"/><circle cx="571.0" cy="390.9" r="3.7"/><circle cx="649.5" cy="397.2" r="3.7"/><circle cx="577.3" cy="545.3" r="3.7"/><circle cx="530.9" cy="457.4" r="3.7"/><circle cx="579.2" cy="402.0" r="3.7"/><circle cx="540.1" cy="432.7" r="3.7"/><circle cx="524.3" cy="536.9" r="3.7"/><circle cx="619.8" cy="380.5" r="3.7"/><circle cx="607.6" cy="301.1" r="3.7"/><circle cx="520.7" cy="571.3" r="3.7"/><circle cx="567.7" cy="545.4" r="3.7"/><circle cx="552.9" cy="352.7" r="3.7"/><circle cx="643.9" cy="376.6" r="3.7"/><circle cx="631.9" cy="290.9" r="3.7"/><circle cx="563.5" cy="385.7" r="3.7"/><circle cx="593.7" cy="539.8" r="3.7"/><circle cx="541.1" cy="515.1" r="3.7"/><circle cx="584.8" cy="374.7" r="3.7"/><circle cx="521.6" cy="558.5" r="3.7"/><circle cx="676.6" cy="290.4" r="3.7"/><circle cx="535.4" cy="501.2" r="3.7"/><circle cx="573.1" cy="431.8" r="3.7"/><circle cx="592.9" cy="437.3" r="3.7"/><circle cx="589.9" cy="478.6" r="3.7"/><circle cx="584.5" cy="472.9" r="3.7"/><circle cx="522.8" cy="531.6" r="3.7"/><circle cx="573.3" cy="553.1" r="3.7"/><circle cx="548.2" cy="531.2" r="3.7"/><circle cx="557.6" cy="393.7" r="3.7"/><circle cx="550.2" cy="435.1" r="3.7"/><circle cx="538.9" cy="462.0" r="3.7"/><circle cx="603.5" cy="319.7" r="3.7"/><circle cx="591.6" cy="481.8" r="3.7"/><circle cx="596.1" cy="380.6" r="3.7"/><circle cx="563.7" cy="482.6" r="3.7"/><circle cx="599.3" cy="362.7" r="3.7"/><circle cx="671.2" cy="312.3" r="3.7"/><circle cx="587.6" cy="565.2" r="3.7"/><circle cx="522.7" cy="517.2" r="3.7"/><circle cx="566.7" cy="363.9" r="3.7"/><circle cx="588.3" cy="460.7" r="3.7"/><circle cx="587.6" cy="534.8" r="3.7"/><circle cx="571.5" cy="479.9" r="3.7"/><circle cx="590.9" cy="417.3" r="3.7"/><circle cx="580.3" cy="525.1" r="3.7"/><circle cx="538.3" cy="501.8" r="3.7"/><circle cx="564.3" cy="458.5" r="3.7"/><circle cx="578.0" cy="341.9" r="3.7"/><circle cx="574.8" cy="570.3" r="3.7"/><circle cx="569.2" cy="398.7" r="3.7"/><circle cx="589.9" cy="533.2" r="3.7"/><circle cx="564.9" cy="549.4" r="3.7"/><circle cx="552.7" cy="360.2" r="3.7"/><circle cx="635.7" cy="403.6" r="3.7"/><circle cx="552.1" cy="410.2" r="3.7"/><circle cx="602.1" cy="566.8" r="3.7"/><circle cx="533.4" cy="455.9" r="3.7"/><circle cx="566.6" cy="566.3" r="3.7"/><circle cx="557.3" cy="401.8" r="3.7"/><circle cx="534.7" cy="454.6" r="3.7"/><circle cx="553.2" cy="498.3" r="3.7"/><circle cx="639.2" cy="313.0" r="3.7"/><circle cx="653.6" cy="442.5" r="3.7"/><circle cx="629.2" cy="437.9" r="3.7"/><circle cx="537.9" cy="424.3" r="3.7"/><circle cx="573.9" cy="370.4" r="3.7"/><circle cx="569.7" cy="413.5" r="3.7"/><circle cx="599.6" cy="498.3" r="3.7"/><circle cx="532.8" cy="560.5" r="3.7"/><circle cx="601.0" cy="346.7" r="3.7"/><circle cx="535.3" cy="531.9" r="3.7"/><circle cx="574.6" cy="402.4" r="3.7"/><circle cx="623.3" cy="311.9" r="3.7"/><circle cx="522.9" cy="523.8" r="3.7"/><circle cx="554.9" cy="429.0" r="3.7"/><circle cx="562.8" cy="345.7" r="3.7"/><circle cx="527.9" cy="556.4" r="3.7"/><circle cx="598.6" cy="432.5" r="3.7"/><circle cx="547.9" cy="511.9" r="3.7"/><circle cx="685.9" cy="314.2" r="3.7"/><circle cx="593.6" cy="527.6" r="3.7"/><circle cx="579.6" cy="456.0" r="3.7"/><circle cx="537.9" cy="556.4" r="3.7"/><circle cx="563.3" cy="462.4" r="3.7"/><circle cx="530.2" cy="541.2" r="3.7"/><circle cx="570.5" cy="399.6" r="3.7"/><circle cx="614.8" cy="416.6" r="3.7"/><circle cx="548.7" cy="469.1" r="3.7"/><circle cx="583.9" cy="417.1" r="3.7"/><circle cx="561.9" cy="429.3" r="3.7"/><circle cx="588.7" cy="494.0" r="3.7"/><circle cx="658.9" cy="352.0" r="3.7"/><circle cx="565.1" cy="481.3" r="3.7"/><circle cx="578.2" cy="521.2" r="3.7"/><circle cx="549.0" cy="482.1" r="3.7"/><circle cx="609.0" cy="282.1" r="3.7"/><circle cx="619.9" cy="346.6" r="3.7"/><circle cx="615.2" cy="351.9" r="3.7"/><circle cx="583.2" cy="438.2" r="3.7"/><circle cx="612.5" cy="453.5" r="3.7"/><circle cx="590.3" cy="348.7" r="3.7"/><circle cx="584.6" cy="399.2" r="3.7"/><circle cx="544.7" cy="502.0" r="3.7"/><circle cx="558.1" cy="412.6" r="3.7"/><circle cx="531.0" cy="450.9" r="3.7"/><circle cx="585.4" cy="486.0" r="3.7"/><circle cx="584.8" cy="519.4" r="3.7"/><circle cx="555.6" cy="489.5" r="3.7"/><circle cx="542.6" cy="387.6" r="3.7"/><circle cx="553.4" cy="412.6" r="3.7"/><circle cx="583.4" cy="544.6" r="3.7"/><circle cx="554.0" cy="365.5" r="3.7"/><circle cx="674.4" cy="448.2" r="3.7"/><circle cx="572.5" cy="429.6" r="3.7"/><circle cx="597.5" cy="352.9" r="3.7"/><circle cx="613.9" cy="314.7" r="3.7"/><circle cx="566.0" cy="451.5" r="3.7"/><circle cx="580.5" cy="326.0" r="3.7"/><circle cx="551.8" cy="378.1" r="3.7"/><circle cx="598.9" cy="304.4" r="3.7"/><circle cx="570.5" cy="446.0" r="3.7"/><circle cx="575.7" cy="369.9" r="3.7"/><circle cx="584.5" cy="494.5" r="3.7"/><circle cx="573.5" cy="435.3" r="3.7"/><circle cx="577.6" cy="503.5" r="3.7"/><circle cx="538.5" cy="462.0" r="3.7"/><circle cx="583.8" cy="491.5" r="3.7"/><circle cx="568.5" cy="473.7" r="3.7"/><circle cx="571.5" cy="552.9" r="3.7"/><circle cx="520.8" cy="552.2" r="3.7"/><circle cx="591.7" cy="424.4" r="3.7"/><circle cx="537.5" cy="379.2" r="3.7"/><circle cx="620.0" cy="296.8" r="3.7"/><circle cx="591.7" cy="529.9" r="3.7"/><circle cx="565.5" cy="355.9" r="3.7"/><circle cx="661.2" cy="328.9" r="3.7"/><circle cx="607.2" cy="459.6" r="3.7"/><circle cx="550.2" cy="424.5" r="3.7"/><circle cx="546.0" cy="427.0" r="3.7"/><circle cx="522.1" cy="550.9" r="3.7"/><circle cx="577.0" cy="381.3" r="3.7"/><circle cx="584.6" cy="519.8" r="3.7"/><circle cx="577.9" cy="424.8" r="3.7"/><circle cx="594.4" cy="505.5" r="3.7"/><circle cx="648.0" cy="367.8" r="3.7"/><circle cx="532.7" cy="456.5" r="3.7"/><circle cx="615.0" cy="508.0" r="3.7"/><circle cx="582.6" cy="449.7" r="3.7"/><circle cx="597.9" cy="362.5" r="3.7"/><circle cx="605.2" cy="283.3" r="3.7"/><circle cx="564.0" cy="572.0" r="3.7"/><circle cx="533.7" cy="466.7" r="3.7"/><circle cx="540.8" cy="469.9" r="3.7"/><circle cx="601.7" cy="545.4" r="3.7"/><circle cx="579.1" cy="473.7" r="3.7"/><circle cx="558.3" cy="532.3" r="3.7"/><circle cx="548.1" cy="452.5" r="3.7"/><circle cx="597.2" cy="521.8" r="3.7"/><circle cx="572.2" cy="441.6" r="3.7"/><circle cx="659.4" cy="444.4" r="3.7"/><circle cx="591.5" cy="563.2" r="3.7"/><circle cx="582.3" cy="533.4" r="3.7"/><circle cx="595.1" cy="478.9" r="3.7"/><circle cx="591.0" cy="432.3" r="3.7"/><circle cx="648.0" cy="364.7" r="3.7"/><circle cx="588.9" cy="399.9" r="3.7"/><circle cx="557.2" cy="466.6" r="3.7"/><circle cx="542.9" cy="428.8" r="3.7"/><circle cx="566.5" cy="540.4" r="3.7"/><circle cx="571.6" cy="468.3" r="3.7"/><circle cx="552.9" cy="399.5" r="3.7"/><circle cx="590.2" cy="525.3" r="3.7"/><circle cx="537.7" cy="429.7" r="3.7"/><circle cx="606.0" cy="410.3" r="3.7"/><circle cx="679.6" cy="407.2" r="3.7"/><circle cx="669.2" cy="283.9" r="3.7"/><circle cx="548.7" cy="560.3" r="3.7"/><circle cx="554.0" cy="406.1" r="3.7"/><circle cx="588.8" cy="403.6" r="3.7"/><circle cx="564.7" cy="388.1" r="3.7"/><circle cx="590.6" cy="569.9" r="3.7"/><circle cx="569.7" cy="536.2" r="3.7"/><circle cx="590.6" cy="383.9" r="3.7"/><circle cx="583.4" cy="381.2" r="3.7"/><circle cx="581.2" cy="569.9" r="3.7"/><circle cx="585.8" cy="508.9" r="3.7"/><circle cx="573.3" cy="371.7" r="3.7"/><circle cx="572.8" cy="322.9" r="3.7"/><circle cx="614.2" cy="360.9" r="3.7"/><circle cx="583.2" cy="493.4" r="3.7"/><circle cx="577.3" cy="442.6" r="3.7"/><circle cx="567.3" cy="546.1" r="3.7"/><circle cx="582.7" cy="457.0" r="3.7"/><circle cx="569.7" cy="441.0" r="3.7"/><circle cx="610.1" cy="452.8" r="3.7"/><circle cx="584.5" cy="388.3" r="3.7"/><circle cx="592.2" cy="374.9" r="3.7"/><circle cx="587.1" cy="425.6" r="3.7"/><circle cx="584.0" cy="539.9" r="3.7"/><circle cx="569.4" cy="455.9" r="3.7"/><circle cx="581.7" cy="525.5" r="3.7"/><circle cx="603.7" cy="314.1" r="3.7"/><circle cx="616.2" cy="506.8" r="3.7"/><circle cx="532.7" cy="452.5" r="3.7"/><circle cx="593.2" cy="330.9" r="3.7"/><circle cx="556.1" cy="356.5" r="3.7"/><circle cx="597.6" cy="376.3" r="3.7"/><circle cx="607.3" cy="336.7" r="3.7"/><circle cx="578.4" cy="391.5" r="3.7"/><circle cx="582.6" cy="372.4" r="3.7"/><circle cx="586.8" cy="414.5" r="3.7"/><circle cx="565.8" cy="554.6" r="3.7"/><circle cx="533.1" cy="489.6" r="3.7"/><circle cx="556.1" cy="407.3" r="3.7"/><circle cx="531.9" cy="443.2" r="3.7"/><circle cx="551.6" cy="471.6" r="3.7"/><circle cx="592.5" cy="526.4" r="3.7"/><circle cx="569.0" cy="565.3" r="3.7"/><circle cx="577.6" cy="517.0" r="3.7"/><circle cx="569.6" cy="518.1" r="3.7"/><circle cx="573.1" cy="465.1" r="3.7"/><circle cx="590.3" cy="425.3" r="3.7"/><circle cx="630.7" cy="311.0" r="3.7"/><circle cx="594.7" cy="403.9" r="3.7"/><circle cx="634.3" cy="295.7" r="3.7"/><circle cx="552.9" cy="509.2" r="3.7"/><circle cx="585.0" cy="455.4" r="3.7"/><circle cx="562.7" cy="532.0" r="3.7"/><circle cx="584.3" cy="554.4" r="3.7"/><circle cx="590.1" cy="500.1" r="3.7"/><circle cx="573.5" cy="470.8" r="3.7"/><circle cx="556.5" cy="468.6" r="3.7"/><circle cx="539.7" cy="416.0" r="3.7"/><circle cx="624.2" cy="393.1" r="3.7"/><circle cx="580.5" cy="385.0" r="3.7"/><circle cx="605.8" cy="344.8" r="3.7"/><circle cx="577.0" cy="371.6" r="3.7"/><circle cx="573.7" cy="571.4" r="3.7"/><circle cx="576.4" cy="500.9" r="3.7"/><circle cx="593.8" cy="432.2" r="3.7"/><circle cx="615.5" cy="299.5" r="3.7"/><circle cx="576.1" cy="418.6" r="3.7"/><circle cx="568.3" cy="417.3" r="3.7"/><circle cx="585.2" cy="429.3" r="3.7"/><circle cx="540.6" cy="471.0" r="3.7"/><circle cx="616.0" cy="309.6" r="3.7"/><circle cx="561.0" cy="462.1" r="3.7"/><circle cx="651.1" cy="425.8" r="3.7"/><circle cx="568.2" cy="340.1" r="3.7"/><circle cx="582.6" cy="379.6" r="3.7"/><circle cx="578.0" cy="571.2" r="3.7"/><circle cx="573.6" cy="318.2" r="3.7"/><circle cx="618.0" cy="372.3" r="3.7"/><circle cx="576.6" cy="567.7" r="3.7"/><circle cx="542.4" cy="497.8" r="3.7"/><circle cx="581.2" cy="321.8" r="3.7"/><circle cx="584.5" cy="392.9" r="3.7"/><circle cx="590.1" cy="440.9" r="3.7"/><circle cx="663.6" cy="395.2" r="3.7"/><circle cx="588.9" cy="508.9" r="3.7"/><circle cx="592.8" cy="475.3" r="3.7"/><circle cx="697.7" cy="425.7" r="3.7"/><circle cx="574.8" cy="491.9" r="3.7"/><circle cx="626.8" cy="387.9" r="3.7"/><circle cx="576.1" cy="547.8" r="3.7"/><circle cx="570.3" cy="470.1" r="3.7"/><circle cx="587.1" cy="459.6" r="3.7"/><circle cx="588.5" cy="453.9" r="3.7"/><circle cx="592.4" cy="448.2" r="3.7"/><circle cx="553.4" cy="542.6" r="3.7"/><circle cx="593.1" cy="433.9" r="3.7"/><circle cx="566.8" cy="370.1" r="3.7"/><circle cx="579.4" cy="549.4" r="3.7"/><circle cx="538.0" cy="416.6" r="3.7"/><circle cx="581.8" cy="566.2" r="3.7"/><circle cx="529.6" cy="476.5" r="3.7"/><circle cx="519.0" cy="552.7" r="3.7"/><circle cx="682.2" cy="288.3" r="3.7"/><circle cx="547.9" cy="396.8" r="3.7"/><circle cx="569.3" cy="349.8" r="3.7"/><circle cx="544.6" cy="423.7" r="3.7"/><circle cx="594.4" cy="473.8" r="3.7"/><circle cx="624.0" cy="324.5" r="3.7"/><circle cx="649.9" cy="324.0" r="3.7"/><circle cx="571.5" cy="527.7" r="3.7"/><circle cx="550.8" cy="517.1" r="3.7"/><circle cx="602.5" cy="371.6" r="3.7"/><circle cx="687.1" cy="411.0" r="3.7"/><circle cx="596.3" cy="356.4" r="3.7"/><circle cx="540.6" cy="390.7" r="3.7"/><circle cx="564.5" cy="532.2" r="3.7"/><circle cx="563.3" cy="410.7" r="3.7"/><circle cx="653.7" cy="424.6" r="3.7"/><circle cx="579.1" cy="389.0" r="3.7"/><circle cx="644.8" cy="338.1" r="3.7"/><circle cx="642.8" cy="391.5" r="3.7"/><circle cx="626.4" cy="445.3" r="3.7"/><circle cx="643.6" cy="307.3" r="3.7"/><circle cx="592.8" cy="495.6" r="3.7"/><circle cx="611.0" cy="454.3" r="3.7"/><circle cx="631.7" cy="422.0" r="3.7"/><circle cx="546.5" cy="387.8" r="3.7"/><circle cx="546.0" cy="468.3" r="3.7"/><circle cx="551.4" cy="507.8" r="3.7"/><circle cx="611.5" cy="529.3" r="3.7"/><circle cx="552.9" cy="570.4" r="3.7"/><circle cx="537.9" cy="383.1" r="3.7"/><circle cx="580.4" cy="517.5" r="3.7"/><circle cx="550.3" cy="384.9" r="3.7"/><circle cx="583.7" cy="421.3" r="3.7"/><circle cx="601.7" cy="413.0" r="3.7"/><circle cx="544.3" cy="421.5" r="3.7"/><circle cx="623.5" cy="334.5" r="3.7"/><circle cx="579.4" cy="413.5" r="3.7"/><circle cx="542.2" cy="564.8" r="3.7"/><circle cx="536.7" cy="567.2" r="3.7"/><circle cx="578.8" cy="406.9" r="3.7"/><circle cx="535.3" cy="552.0" r="3.7"/><circle cx="542.4" cy="564.3" r="3.7"/><circle cx="605.6" cy="305.1" r="3.7"/><circle cx="568.8" cy="405.0" r="3.7"/><circle cx="539.6" cy="416.9" r="3.7"/><circle cx="599.1" cy="493.4" r="3.7"/><circle cx="560.9" cy="439.9" r="3.7"/><circle cx="531.2" cy="520.5" r="3.7"/><circle cx="624.5" cy="478.8" r="3.7"/><circle cx="555.0" cy="484.7" r="3.7"/><circle cx="604.4" cy="375.5" r="3.7"/><circle cx="541.8" cy="539.6" r="3.7"/><circle cx="559.7" cy="405.2" r="3.7"/><circle cx="586.5" cy="437.1" r="3.7"/><circle cx="547.4" cy="408.8" r="3.7"/><circle cx="581.6" cy="514.8" r="3.7"/><circle cx="546.5" cy="433.5" r="3.7"/><circle cx="556.2" cy="431.3" r="3.7"/><circle cx="587.2" cy="375.3" r="3.7"/><circle cx="580.0" cy="540.4" r="3.7"/><circle cx="584.8" cy="531.3" r="3.7"/><circle cx="533.5" cy="563.8" r="3.7"/><circle cx="551.2" cy="501.5" r="3.7"/><circle cx="554.2" cy="509.5" r="3.7"/><circle cx="553.9" cy="394.9" r="3.7"/><circle cx="635.4" cy="315.4" r="3.7"/><circle cx="568.8" cy="538.0" r="3.7"/><circle cx="567.7" cy="370.8" r="3.7"/><circle cx="526.6" cy="559.6" r="3.7"/><circle cx="543.1" cy="454.5" r="3.7"/><circle cx="578.7" cy="343.5" r="3.7"/><circle cx="584.6" cy="375.7" r="3.7"/><circle cx="590.7" cy="393.6" r="3.7"/><circle cx="588.2" cy="468.6" r="3.7"/><circle cx="570.4" cy="363.1" r="3.7"/><circle cx="591.6" cy="514.8" r="3.7"/><circle cx="571.6" cy="356.2" r="3.7"/><circle cx="603.0" cy="497.0" r="3.7"/><circle cx="562.2" cy="387.6" r="3.7"/><circle cx="555.6" cy="471.1" r="3.7"/><circle cx="579.7" cy="570.3" r="3.7"/><circle cx="555.4" cy="455.8" r="3.7"/><circle cx="591.1" cy="427.6" r="3.7"/><circle cx="588.1" cy="462.7" r="3.7"/><circle cx="594.4" cy="360.4" r="3.7"/><circle cx="571.0" cy="528.4" r="3.7"/><circle cx="543.9" cy="452.8" r="3.7"/><circle cx="637.1" cy="444.4" r="3.7"/><circle cx="536.6" cy="576.7" r="3.7"/><circle cx="583.5" cy="465.5" r="3.7"/><circle cx="566.5" cy="547.5" r="3.7"/><circle cx="582.9" cy="549.2" r="3.7"/><circle cx="568.3" cy="489.4" r="3.7"/><circle cx="529.6" cy="481.3" r="3.7"/><circle cx="637.1" cy="359.3" r="3.7"/><circle cx="612.8" cy="354.1" r="3.7"/><circle cx="535.2" cy="432.5" r="3.7"/><circle cx="564.3" cy="366.2" r="3.7"/><circle cx="546.2" cy="400.6" r="3.7"/><circle cx="617.7" cy="435.7" r="3.7"/><circle cx="556.2" cy="463.9" r="3.7"/><circle cx="587.8" cy="575.5" r="3.7"/><circle cx="587.5" cy="573.9" r="3.7"/><circle cx="598.7" cy="307.5" r="3.7"/><circle cx="565.8" cy="408.1" r="3.7"/><circle cx="581.1" cy="505.2" r="3.7"/><circle cx="552.0" cy="447.3" r="3.7"/><circle cx="602.8" cy="488.3" r="3.7"/><circle cx="578.4" cy="535.8" r="3.7"/><circle cx="581.3" cy="332.2" r="3.7"/><circle cx="541.9" cy="418.6" r="3.7"/><circle cx="562.8" cy="445.4" r="3.7"/><circle cx="531.6" cy="557.5" r="3.7"/><circle cx="631.5" cy="403.2" r="3.7"/><circle cx="553.2" cy="379.7" r="3.7"/><circle cx="615.7" cy="457.8" r="3.7"/><circle cx="566.1" cy="304.4" r="3.7"/><circle cx="632.7" cy="435.2" r="3.7"/><circle cx="559.6" cy="460.0" r="3.7"/><circle cx="584.1" cy="398.5" r="3.7"/><circle cx="612.9" cy="334.4" r="3.7"/><circle cx="583.8" cy="461.6" r="3.7"/><circle cx="586.9" cy="565.6" r="3.7"/><circle cx="545.1" cy="452.7" r="3.7"/><circle cx="530.5" cy="494.6" r="3.7"/><circle cx="557.0" cy="394.4" r="3.7"/><circle cx="528.9" cy="518.4" r="3.7"/><circle cx="614.1" cy="443.4" r="3.7"/><circle cx="547.4" cy="374.6" r="3.7"/><circle cx="544.2" cy="412.9" r="3.7"/><circle cx="582.5" cy="308.7" r="3.7"/><circle cx="678.0" cy="361.5" r="3.7"/><circle cx="573.8" cy="552.7" r="3.7"/><circle cx="630.4" cy="346.2" r="3.7"/><circle cx="579.5" cy="316.9" r="3.7"/><circle cx="575.0" cy="307.6" r="3.7"/><circle cx="528.4" cy="565.7" r="3.7"/><circle cx="577.7" cy="536.6" r="3.7"/><circle cx="605.5" cy="536.5" r="3.7"/><circle cx="628.7" cy="384.7" r="3.7"/><circle cx="534.1" cy="478.2" r="3.7"/><circle cx="572.2" cy="380.4" r="3.7"/></g>
<g fill="#606060"><circle cx="396.1" cy="593.1" r="3.5"/><circle cx="413.4" cy="579.5" r="3.5"/><circle cx="421.8" cy="581.8" r="3.5"/><circle cx="421.8" cy="592.3" r="3.5"/><circle cx="431.1" cy="595.6" r="3.5"/><circle cx="432.6" cy="605.9" r="3.5"/><circle cx="434.9" cy="584.1" r="3.5"/><circle cx="439.4" cy="580.3" r="3.5"/><circle cx="436.4" cy="587.8" r="3.5"/><circle cx="440.9" cy="594.6" r="3.5"/><circle cx="446.9" cy="591.3" r="3.5"/><circle cx="454.4" cy="580.3" r="3.5"/><circle cx="455.2" cy="587.1" r="3.5"/><circle cx="455.9" cy="593.8" r="3.5"/><circle cx="456.7" cy="600.6" r="3.5"/><circle cx="459.7" cy="609.6" r="3.5"/><circle cx="465.7" cy="600.6" r="3.5"/><circle cx="465.7" cy="608.1" r="3.5"/><circle cx="467.2" cy="581.1" r="3.5"/><circle cx="474.7" cy="578.8" r="3.5"/><circle cx="468.7" cy="585.6" r="3.5"/><circle cx="470.2" cy="590.1" r="3.5"/><circle cx="476.2" cy="590.8" r="3.5"/><circle cx="482.3" cy="589.3" r="3.5"/><circle cx="476.2" cy="599.1" r="3.5"/><circle cx="474.7" cy="605.1" r="3.5"/><circle cx="483.8" cy="603.6" r="3.5"/><circle cx="476.2" cy="614.1" r="3.5"/><circle cx="471.0" cy="617.4" r="3.5"/><circle cx="475.2" cy="626.2" r="3.5"/><circle cx="488.3" cy="584.1" r="3.5"/><circle cx="494.3" cy="585.6" r="3.5"/><circle cx="498.8" cy="588.6" r="3.5"/><circle cx="495.8" cy="594.6" r="3.5"/><circle cx="495.8" cy="600.6" r="3.5"/><circle cx="495.8" cy="605.1" r="3.5"/><circle cx="501.8" cy="608.9" r="3.5"/><circle cx="494.3" cy="612.6" r="3.5"/><circle cx="487.5" cy="615.6" r="3.5"/><circle cx="488.3" cy="621.7" r="3.5"/><circle cx="492.0" cy="626.2" r="3.5"/><circle cx="493.5" cy="620.2" r="3.5"/><circle cx="502.6" cy="617.9" r="3.5"/><circle cx="501.8" cy="623.2" r="3.5"/><circle cx="507.8" cy="627.7" r="3.5"/><circle cx="504.1" cy="632.2" r="3.5"/><circle cx="509.3" cy="633.7" r="3.5"/><circle cx="507.1" cy="637.4" r="3.5"/><circle cx="513.8" cy="632.2" r="3.5"/><circle cx="516.8" cy="582.6" r="3.5"/><circle cx="517.6" cy="590.1" r="3.5"/><circle cx="517.6" cy="597.6" r="3.5"/><circle cx="516.8" cy="605.1" r="3.5"/><circle cx="519.1" cy="612.6" r="3.5"/><circle cx="515.3" cy="618.6" r="3.5"/><circle cx="518.3" cy="623.2" r="3.5"/><circle cx="520.1" cy="579.5" r="3.5"/><circle cx="531.4" cy="579.5" r="3.5"/><circle cx="540.4" cy="578.0" r="3.5"/><circle cx="546.4" cy="582.6" r="3.5"/><circle cx="562.2" cy="579.5" r="3.5"/><circle cx="557.7" cy="584.1" r="3.5"/><circle cx="569.7" cy="585.6" r="3.5"/><circle cx="591.5" cy="579.5" r="3.5"/><circle cx="590.8" cy="589.3" r="3.5"/><circle cx="517.1" cy="585.6" r="3.5"/><circle cx="523.1" cy="590.1" r="3.5"/><circle cx="529.1" cy="589.3" r="3.5"/><circle cx="536.6" cy="588.6" r="3.5"/><circle cx="526.1" cy="596.8" r="3.5"/><circle cx="533.6" cy="596.1" r="3.5"/><circle cx="547.1" cy="590.1" r="3.5"/><circle cx="553.2" cy="591.6" r="3.5"/><circle cx="560.7" cy="590.1" r="3.5"/><circle cx="565.2" cy="594.6" r="3.5"/><circle cx="571.2" cy="596.1" r="3.5"/><circle cx="547.1" cy="597.6" r="3.5"/><circle cx="556.9" cy="599.8" r="3.5"/><circle cx="563.7" cy="601.4" r="3.5"/><circle cx="571.2" cy="602.1" r="3.5"/><circle cx="578.7" cy="599.8" r="3.5"/><circle cx="583.2" cy="605.9" r="3.5"/><circle cx="522.3" cy="608.9" r="3.5"/><circle cx="529.8" cy="602.1" r="3.5"/><circle cx="541.1" cy="605.1" r="3.5"/><circle cx="545.6" cy="605.1" r="3.5"/><circle cx="556.2" cy="608.1" r="3.5"/><circle cx="565.9" cy="612.6" r="3.5"/><circle cx="556.2" cy="612.6" r="3.5"/><circle cx="545.6" cy="614.1" r="3.5"/><circle cx="553.2" cy="617.1" r="3.5"/><circle cx="533.6" cy="613.4" r="3.5"/><circle cx="530.6" cy="617.1" r="3.5"/><circle cx="536.6" cy="620.2" r="3.5"/><circle cx="538.1" cy="626.2" r="3.5"/><circle cx="520.1" cy="621.7" r="3.5"/><circle cx="527.6" cy="623.2" r="3.5"/><circle cx="521.6" cy="629.2" r="3.5"/><circle cx="493.0" cy="600.6" r="3.5"/><circle cx="499.0" cy="608.1" r="3.5"/><circle cx="509.5" cy="626.2" r="3.5"/><circle cx="511.1" cy="632.2" r="3.5"/><circle cx="502.0" cy="635.2" r="3.5"/><circle cx="361.4" cy="582.6" r="3.5"/><circle cx="538.6" cy="605.2" r="3.5"/><circle cx="515.3" cy="615.4" r="3.5"/><circle cx="527.3" cy="600.3" r="3.5"/><circle cx="541.3" cy="597.7" r="3.5"/><circle cx="501.1" cy="626.0" r="3.5"/><circle cx="465.6" cy="586.9" r="3.5"/><circle cx="509.6" cy="616.8" r="3.5"/><circle cx="473.8" cy="607.1" r="3.5"/><circle cx="443.8" cy="584.5" r="3.5"/><circle cx="439.9" cy="582.8" r="3.5"/><circle cx="435.8" cy="583.8" r="3.5"/><circle cx="528.6" cy="606.1" r="3.5"/><circle cx="510.3" cy="620.1" r="3.5"/><circle cx="476.5" cy="596.8" r="3.5"/><circle cx="533.6" cy="595.8" r="3.5"/><circle cx="516.2" cy="614.5" r="3.5"/><circle cx="489.5" cy="596.5" r="3.5"/><circle cx="524.3" cy="579.3" r="3.5"/><circle cx="489.8" cy="584.1" r="3.5"/><circle cx="522.2" cy="592.5" r="3.5"/><circle cx="513.6" cy="622.9" r="3.5"/><circle cx="529.8" cy="602.3" r="3.5"/><circle cx="471.3" cy="602.3" r="3.5"/><circle cx="528.3" cy="587.9" r="3.5"/><circle cx="559.9" cy="583.9" r="3.5"/><circle cx="453.5" cy="580.2" r="3.5"/><circle cx="497.1" cy="604.1" r="3.5"/><circle cx="552.5" cy="591.4" r="3.5"/><circle cx="514.6" cy="609.4" r="3.5"/><circle cx="443.9" cy="582.7" r="3.5"/><circle cx="524.8" cy="606.9" r="3.5"/><circle cx="514.1" cy="617.2" r="3.5"/><circle cx="519.3" cy="615.6" r="3.5"/><circle cx="478.5" cy="595.8" r="3.5"/><circle cx="564.6" cy="579.6" r="3.5"/><circle cx="449.4" cy="591.6" r="3.5"/><circle cx="571.5" cy="586.7" r="3.5"/><circle cx="518.3" cy="588.5" r="3.5"/><circle cx="581.6" cy="584.0" r="3.5"/><circle cx="529.1" cy="588.2" r="3.5"/><circle cx="523.8" cy="614.4" r="3.5"/><circle cx="506.6" cy="608.2" r="3.5"/><circle cx="462.3" cy="590.9" r="3.5"/><circle cx="576.8" cy="582.1" r="3.5"/><circle cx="528.8" cy="610.5" r="3.5"/><circle cx="487.4" cy="597.2" r="3.5"/><circle cx="539.6" cy="590.9" r="3.5"/><circle cx="502.5" cy="627.4" r="3.5"/><circle cx="522.1" cy="584.0" r="3.5"/><circle cx="547.9" cy="594.7" r="3.5"/><circle cx="517.5" cy="614.7" r="3.5"/><circle cx="521.2" cy="580.5" r="3.5"/><circle cx="464.0" cy="589.6" r="3.5"/><circle cx="476.1" cy="597.7" r="3.5"/><circle cx="531.3" cy="616.5" r="3.5"/><circle cx="551.6" cy="584.6" r="3.5"/><circle cx="543.9" cy="603.3" r="3.5"/><circle cx="478.8" cy="594.4" r="3.5"/><circle cx="529.4" cy="587.1" r="3.5"/><circle cx="567.4" cy="591.4" r="3.5"/><circle cx="507.7" cy="632.4" r="3.5"/><circle cx="492.2" cy="622.1" r="3.5"/><circle cx="527.9" cy="616.5" r="3.5"/><circle cx="490.9" cy="621.6" r="3.5"/><circle cx="484.5" cy="598.7" r="3.5"/><circle cx="459.8" cy="599.5" r="3.5"/><circle cx="505.4" cy="631.0" r="3.5"/></g>
<g stroke="#000" stroke-width="2.2" fill="none">
<path d="M104 2.5V648H928.5"/>
</g>
<g stroke="#000" stroke-width="1.8"><line x1="123.7" y1="648" x2="123.7" y2="661.5"/><line x1="187.6" y1="648" x2="187.6" y2="661.5"/><line x1="251.5" y1="648" x2="251.5" y2="661.5"/><line x1="315.4" y1="648" x2="315.4" y2="661.5"/><line x1="379.3" y1="648" x2="379.3" y2="661.5"/><line x1="443.2" y1="648" x2="443.2" y2="661.5"/><line x1="507.1" y1="648" x2="507.1" y2="661.5"/><line x1="571.0" y1="648" x2="571.0" y2="661.5"/><line x1="634.9" y1="648" x2="634.9" y2="661.5"/><line x1="698.8" y1="648" x2="698.8" y2="661.5"/><line x1="762.7" y1="648" x2="762.7" y2="661.5"/><line x1="826.6" y1="648" x2="826.6" y2="661.5"/><line x1="890.5" y1="648" x2="890.5" y2="661.5"/><line x1="93" y1="638.7" x2="104" y2="638.7"/><line x1="93" y1="570.0" x2="104" y2="570.0"/><line x1="93" y1="501.4" x2="104" y2="501.4"/><line x1="93" y1="432.7" x2="104" y2="432.7"/><line x1="93" y1="364.1" x2="104" y2="364.1"/><line x1="93" y1="295.4" x2="104" y2="295.4"/><line x1="93" y1="226.7" x2="104" y2="226.7"/><line x1="93" y1="158.1" x2="104" y2="158.1"/><line x1="93" y1="89.4" x2="104" y2="89.4"/><line x1="93" y1="20.8" x2="104" y2="20.8"/></g>
<g class="tk" font-size="17" fill="#1a1a1a"><text x="124.5" y="682.5" text-anchor="middle">-3.0</text><text x="188.4" y="682.5" text-anchor="middle">-2.5</text><text x="252.3" y="682.5" text-anchor="middle">-2.0</text><text x="316.2" y="682.5" text-anchor="middle">-1.5</text><text x="380.1" y="682.5" text-anchor="middle">-1.0</text><text x="444.0" y="682.5" text-anchor="middle">-0.5</text><text x="506.8" y="682.5" text-anchor="middle">0.0</text><text x="570.7" y="682.5" text-anchor="middle">0.5</text><text x="634.6" y="682.5" text-anchor="middle">1.0</text><text x="698.5" y="682.5" text-anchor="middle">1.5</text><text x="762.4" y="682.5" text-anchor="middle">2.0</text><text x="826.3" y="682.5" text-anchor="middle">2.5</text><text x="890.2" y="682.5" text-anchor="middle">3.0</text><text x="88" y="645.2" text-anchor="end">0</text><text x="88" y="576.5" text-anchor="end">2</text><text x="88" y="507.9" text-anchor="end">4</text><text x="88" y="439.2" text-anchor="end">6</text><text x="88" y="370.6" text-anchor="end">8</text><text x="88" y="301.9" text-anchor="end">10</text><text x="88" y="233.2" text-anchor="end">12</text><text x="88" y="164.6" text-anchor="end">14</text><text x="88" y="95.9" text-anchor="end">16</text><text x="88" y="27.3" text-anchor="end">18</text></g>
<text x="536" y="735.5" text-anchor="middle" font-size="29.2" font-weight="bold" fill="#000">log2(fold change)</text>
<text transform="translate(25.5,325.5) rotate(-90)" text-anchor="middle" font-size="29" font-weight="bold" fill="#000">-log10(Pvalue)</text>
</g>
</svg>
</body></html>
